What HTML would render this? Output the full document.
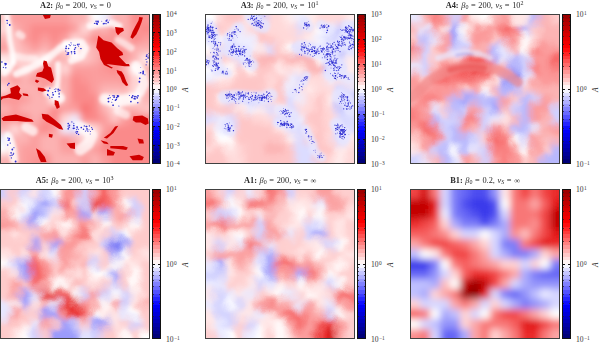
<!DOCTYPE html><html><head><meta charset="utf-8"><style>
*{margin:0;padding:0;box-sizing:border-box}
html,body{width:600px;height:343px;background:#fff;overflow:hidden}
body{position:relative;font-family:"Liberation Serif",serif;color:#1a1a1a}
.pn{position:absolute;width:150px;height:150px;overflow:hidden}
.pn svg{position:absolute;left:0;top:0}
.bd{position:absolute;width:150px;height:150px;border:1px solid #404040}
.cb{position:absolute;width:9px;height:150px;border:1px solid #111;background:linear-gradient(to bottom,#9f0000 0.00% 2.50%,#aa0000 2.50% 5.00%,#b60000 5.00% 7.50%,#c10000 7.50% 10.00%,#cd0000 10.00% 12.50%,#d80000 12.50% 15.00%,#e40000 15.00% 17.50%,#ef0000 17.50% 20.00%,#fb0000 20.00% 22.50%,#ff0e0e 22.50% 25.00%,#ff2525 25.00% 27.50%,#ff3c3c 27.50% 30.00%,#ff5353 30.00% 32.50%,#ff6a6a 32.50% 35.00%,#ff8181 35.00% 37.50%,#ff9898 37.50% 40.00%,#ffafaf 40.00% 42.50%,#ffc6c6 42.50% 45.00%,#ffdddd 45.00% 47.50%,#fff4f4 47.50% 50.00%,#f4f4ff 50.00% 52.50%,#ddddff 52.50% 55.00%,#c6c6ff 55.00% 57.50%,#afafff 57.50% 60.00%,#9898ff 60.00% 62.50%,#8181ff 62.50% 65.00%,#6a6aff 65.00% 67.50%,#5353ff 67.50% 70.00%,#3c3cff 70.00% 72.50%,#2525ff 72.50% 75.00%,#0e0eff 75.00% 77.50%,#0000f9 77.50% 80.00%,#0000e9 80.00% 82.50%,#0000d9 82.50% 85.00%,#0000c9 85.00% 87.50%,#0000b8 87.50% 90.00%,#0000a8 90.00% 92.50%,#000098 92.50% 95.00%,#000088 95.00% 97.50%,#000078 97.50% 100.00%)}
.mt{position:absolute;height:0.6px;background:#222;width:1.2px;opacity:.7}
.Mt{position:absolute;height:0.8px;background:#111;width:2.4px}
.tk{position:absolute;font-size:7.6px;line-height:7px;white-space:nowrap;color:#333}
.tk sup{font-size:5.4px;position:relative;top:-2.8px;vertical-align:baseline;margin-left:0.3px}
.ttl{position:absolute;width:150px;text-align:center;font-size:7.2px;line-height:8px;white-space:nowrap;color:#2a2a2a;word-spacing:0.45px}
.ttl span{display:inline-block;transform:scaleX(1.16)}
.ttl b{font-weight:bold}
.ttl i{font-style:italic}
.ttl sub{font-size:5.2px;position:relative;top:1.4px;vertical-align:baseline}
.ttl sup{font-size:5.2px;position:relative;top:-2.8px;vertical-align:baseline}
.al{position:absolute;font-size:7.4px;line-height:7.4px;font-style:italic;transform:rotate(-90deg);color:#222}
</style></head><body>
<div class="pn" style="left:0px;top:14px"><svg width="150" height="150" viewBox="0 0 150 150"><defs><filter id="blA2" x="-20" y="-20" width="190" height="190" filterUnits="userSpaceOnUse"><feGaussianBlur stdDeviation="3.5"/></filter><filter id="sbA2" x="-20" y="-20" width="190" height="190" filterUnits="userSpaceOnUse"><feGaussianBlur stdDeviation="0.55"/></filter><filter id="soA2" x="-20" y="-20" width="190" height="190" filterUnits="userSpaceOnUse"><feGaussianBlur stdDeviation="1.4"/></filter></defs><g filter="url(#blA2)"><rect x="-10.00" y="-10.00" width="10.30" height="10.30" fill="#fec6c6"/><rect x="0.00" y="-10.00" width="10.30" height="10.30" fill="#fec6c6"/><rect x="10.00" y="-10.00" width="10.30" height="10.30" fill="#fb9e9e"/><rect x="20.00" y="-10.00" width="10.30" height="10.30" fill="#fb9e9e"/><rect x="30.00" y="-10.00" width="10.30" height="10.30" fill="#fb9e9e"/><rect x="40.00" y="-10.00" width="10.30" height="10.30" fill="#fb9e9e"/><rect x="50.00" y="-10.00" width="10.30" height="10.30" fill="#fb9e9e"/><rect x="60.00" y="-10.00" width="10.30" height="10.30" fill="#fb9e9e"/><rect x="70.00" y="-10.00" width="10.30" height="10.30" fill="#fcb2b2"/><rect x="80.00" y="-10.00" width="10.30" height="10.30" fill="#fcb2b2"/><rect x="90.00" y="-10.00" width="10.30" height="10.30" fill="#ffffff"/><rect x="100.00" y="-10.00" width="10.30" height="10.30" fill="#eeeeff"/><rect x="110.00" y="-10.00" width="10.30" height="10.30" fill="#fcb2b2"/><rect x="120.00" y="-10.00" width="10.30" height="10.30" fill="#fcb2b2"/><rect x="130.00" y="-10.00" width="10.30" height="10.30" fill="#fa8a8a"/><rect x="140.00" y="-10.00" width="10.30" height="10.30" fill="#fb9696"/><rect x="150.00" y="-10.00" width="10.30" height="10.30" fill="#fb9696"/><rect x="-10.00" y="0.00" width="10.30" height="10.30" fill="#fec6c6"/><rect x="0.00" y="0.00" width="10.30" height="10.30" fill="#fec6c6"/><rect x="10.00" y="0.00" width="10.30" height="10.30" fill="#fb9e9e"/><rect x="20.00" y="0.00" width="10.30" height="10.30" fill="#fb9e9e"/><rect x="30.00" y="0.00" width="10.30" height="10.30" fill="#fb9e9e"/><rect x="40.00" y="0.00" width="10.30" height="10.30" fill="#fb9e9e"/><rect x="50.00" y="0.00" width="10.30" height="10.30" fill="#fb9e9e"/><rect x="60.00" y="0.00" width="10.30" height="10.30" fill="#fb9e9e"/><rect x="70.00" y="0.00" width="10.30" height="10.30" fill="#fcb2b2"/><rect x="80.00" y="0.00" width="10.30" height="10.30" fill="#fcb2b2"/><rect x="90.00" y="0.00" width="10.30" height="10.30" fill="#ffffff"/><rect x="100.00" y="0.00" width="10.30" height="10.30" fill="#eeeeff"/><rect x="110.00" y="0.00" width="10.30" height="10.30" fill="#fcb2b2"/><rect x="120.00" y="0.00" width="10.30" height="10.30" fill="#fcb2b2"/><rect x="130.00" y="0.00" width="10.30" height="10.30" fill="#fa8a8a"/><rect x="140.00" y="0.00" width="10.30" height="10.30" fill="#fb9696"/><rect x="150.00" y="0.00" width="10.30" height="10.30" fill="#fb9696"/><rect x="-10.00" y="10.00" width="10.30" height="10.30" fill="#ffd9d9"/><rect x="0.00" y="10.00" width="10.30" height="10.30" fill="#ffd9d9"/><rect x="10.00" y="10.00" width="10.30" height="10.30" fill="#fcb2b2"/><rect x="20.00" y="10.00" width="10.30" height="10.30" fill="#fb9e9e"/><rect x="30.00" y="10.00" width="10.30" height="10.30" fill="#fa8a8a"/><rect x="40.00" y="10.00" width="10.30" height="10.30" fill="#fa8a8a"/><rect x="50.00" y="10.00" width="10.30" height="10.30" fill="#fa8a8a"/><rect x="60.00" y="10.00" width="10.30" height="10.30" fill="#fa8a8a"/><rect x="70.00" y="10.00" width="10.30" height="10.30" fill="#fb9e9e"/><rect x="80.00" y="10.00" width="10.30" height="10.30" fill="#ffd9d9"/><rect x="90.00" y="10.00" width="10.30" height="10.30" fill="#fcb2b2"/><rect x="100.00" y="10.00" width="10.30" height="10.30" fill="#fcb2b2"/><rect x="110.00" y="10.00" width="10.30" height="10.30" fill="#fb9696"/><rect x="120.00" y="10.00" width="10.30" height="10.30" fill="#fcb2b2"/><rect x="130.00" y="10.00" width="10.30" height="10.30" fill="#fb9696"/><rect x="140.00" y="10.00" width="10.30" height="10.30" fill="#fa8a8a"/><rect x="150.00" y="10.00" width="10.30" height="10.30" fill="#fa8a8a"/><rect x="-10.00" y="20.00" width="10.30" height="10.30" fill="#fcb2b2"/><rect x="0.00" y="20.00" width="10.30" height="10.30" fill="#fcb2b2"/><rect x="10.00" y="20.00" width="10.30" height="10.30" fill="#fec6c6"/><rect x="20.00" y="20.00" width="10.30" height="10.30" fill="#fb9e9e"/><rect x="30.00" y="20.00" width="10.30" height="10.30" fill="#fa8a8a"/><rect x="40.00" y="20.00" width="10.30" height="10.30" fill="#fb9e9e"/><rect x="50.00" y="20.00" width="10.30" height="10.30" fill="#fa8a8a"/><rect x="60.00" y="20.00" width="10.30" height="10.30" fill="#fb9e9e"/><rect x="70.00" y="20.00" width="10.30" height="10.30" fill="#ffd9d9"/><rect x="80.00" y="20.00" width="10.30" height="10.30" fill="#fcb2b2"/><rect x="90.00" y="20.00" width="10.30" height="10.30" fill="#fa8a8a"/><rect x="100.00" y="20.00" width="10.30" height="10.30" fill="#fb9696"/><rect x="110.00" y="20.00" width="10.30" height="10.30" fill="#fb9696"/><rect x="120.00" y="20.00" width="10.30" height="10.30" fill="#fcb2b2"/><rect x="130.00" y="20.00" width="10.30" height="10.30" fill="#fa8a8a"/><rect x="140.00" y="20.00" width="10.30" height="10.30" fill="#fb9e9e"/><rect x="150.00" y="20.00" width="10.30" height="10.30" fill="#fb9e9e"/><rect x="-10.00" y="30.00" width="10.30" height="10.30" fill="#fb9e9e"/><rect x="0.00" y="30.00" width="10.30" height="10.30" fill="#fb9e9e"/><rect x="10.00" y="30.00" width="10.30" height="10.30" fill="#fec6c6"/><rect x="20.00" y="30.00" width="10.30" height="10.30" fill="#fcb2b2"/><rect x="30.00" y="30.00" width="10.30" height="10.30" fill="#fb9e9e"/><rect x="40.00" y="30.00" width="10.30" height="10.30" fill="#fcb2b2"/><rect x="50.00" y="30.00" width="10.30" height="10.30" fill="#fb9e9e"/><rect x="60.00" y="30.00" width="10.30" height="10.30" fill="#ffd9d9"/><rect x="70.00" y="30.00" width="10.30" height="10.30" fill="#ffffff"/><rect x="80.00" y="30.00" width="10.30" height="10.30" fill="#fec6c6"/><rect x="90.00" y="30.00" width="10.30" height="10.30" fill="#fcb2b2"/><rect x="100.00" y="30.00" width="10.30" height="10.30" fill="#fb9696"/><rect x="110.00" y="30.00" width="10.30" height="10.30" fill="#fb9696"/><rect x="120.00" y="30.00" width="10.30" height="10.30" fill="#fb9696"/><rect x="130.00" y="30.00" width="10.30" height="10.30" fill="#fcb2b2"/><rect x="140.00" y="30.00" width="10.30" height="10.30" fill="#fcb2b2"/><rect x="150.00" y="30.00" width="10.30" height="10.30" fill="#fcb2b2"/><rect x="-10.00" y="40.00" width="10.30" height="10.30" fill="#ffecec"/><rect x="0.00" y="40.00" width="10.30" height="10.30" fill="#ffecec"/><rect x="10.00" y="40.00" width="10.30" height="10.30" fill="#ffd9d9"/><rect x="20.00" y="40.00" width="10.30" height="10.30" fill="#fec6c6"/><rect x="30.00" y="40.00" width="10.30" height="10.30" fill="#ffd9d9"/><rect x="40.00" y="40.00" width="10.30" height="10.30" fill="#ffecec"/><rect x="50.00" y="40.00" width="10.30" height="10.30" fill="#fcb2b2"/><rect x="60.00" y="40.00" width="10.30" height="10.30" fill="#fcb2b2"/><rect x="70.00" y="40.00" width="10.30" height="10.30" fill="#fec6c6"/><rect x="80.00" y="40.00" width="10.30" height="10.30" fill="#fec6c6"/><rect x="90.00" y="40.00" width="10.30" height="10.30" fill="#fcb2b2"/><rect x="100.00" y="40.00" width="10.30" height="10.30" fill="#fb9696"/><rect x="110.00" y="40.00" width="10.30" height="10.30" fill="#fb9696"/><rect x="120.00" y="40.00" width="10.30" height="10.30" fill="#fb9696"/><rect x="130.00" y="40.00" width="10.30" height="10.30" fill="#fcb2b2"/><rect x="140.00" y="40.00" width="10.30" height="10.30" fill="#ffecec"/><rect x="150.00" y="40.00" width="10.30" height="10.30" fill="#ffecec"/><rect x="-10.00" y="50.00" width="10.30" height="10.30" fill="#ffecec"/><rect x="0.00" y="50.00" width="10.30" height="10.30" fill="#ffecec"/><rect x="10.00" y="50.00" width="10.30" height="10.30" fill="#fcb2b2"/><rect x="20.00" y="50.00" width="10.30" height="10.30" fill="#ffd9d9"/><rect x="30.00" y="50.00" width="10.30" height="10.30" fill="#fcb2b2"/><rect x="40.00" y="50.00" width="10.30" height="10.30" fill="#fb9e9e"/><rect x="50.00" y="50.00" width="10.30" height="10.30" fill="#fcb2b2"/><rect x="60.00" y="50.00" width="10.30" height="10.30" fill="#ffd9d9"/><rect x="70.00" y="50.00" width="10.30" height="10.30" fill="#fb9e9e"/><rect x="80.00" y="50.00" width="10.30" height="10.30" fill="#fb9e9e"/><rect x="90.00" y="50.00" width="10.30" height="10.30" fill="#fb9e9e"/><rect x="100.00" y="50.00" width="10.30" height="10.30" fill="#fb9696"/><rect x="110.00" y="50.00" width="10.30" height="10.30" fill="#fa8a8a"/><rect x="120.00" y="50.00" width="10.30" height="10.30" fill="#fcb2b2"/><rect x="130.00" y="50.00" width="10.30" height="10.30" fill="#ffffff"/><rect x="140.00" y="50.00" width="10.30" height="10.30" fill="#fcb2b2"/><rect x="150.00" y="50.00" width="10.30" height="10.30" fill="#fcb2b2"/><rect x="-10.00" y="60.00" width="10.30" height="10.30" fill="#fcb2b2"/><rect x="0.00" y="60.00" width="10.30" height="10.30" fill="#fcb2b2"/><rect x="10.00" y="60.00" width="10.30" height="10.30" fill="#fb9e9e"/><rect x="20.00" y="60.00" width="10.30" height="10.30" fill="#fcb2b2"/><rect x="30.00" y="60.00" width="10.30" height="10.30" fill="#fb9e9e"/><rect x="40.00" y="60.00" width="10.30" height="10.30" fill="#fb9696"/><rect x="50.00" y="60.00" width="10.30" height="10.30" fill="#fb9696"/><rect x="60.00" y="60.00" width="10.30" height="10.30" fill="#fcb2b2"/><rect x="70.00" y="60.00" width="10.30" height="10.30" fill="#fa8a8a"/><rect x="80.00" y="60.00" width="10.30" height="10.30" fill="#fb9696"/><rect x="90.00" y="60.00" width="10.30" height="10.30" fill="#fb9e9e"/><rect x="100.00" y="60.00" width="10.30" height="10.30" fill="#fb9e9e"/><rect x="110.00" y="60.00" width="10.30" height="10.30" fill="#fb9e9e"/><rect x="120.00" y="60.00" width="10.30" height="10.30" fill="#fb9696"/><rect x="130.00" y="60.00" width="10.30" height="10.30" fill="#ffd9d9"/><rect x="140.00" y="60.00" width="10.30" height="10.30" fill="#fcb2b2"/><rect x="150.00" y="60.00" width="10.30" height="10.30" fill="#fcb2b2"/><rect x="-10.00" y="70.00" width="10.30" height="10.30" fill="#ffd9d9"/><rect x="0.00" y="70.00" width="10.30" height="10.30" fill="#ffd9d9"/><rect x="10.00" y="70.00" width="10.30" height="10.30" fill="#fcb2b2"/><rect x="20.00" y="70.00" width="10.30" height="10.30" fill="#fcb2b2"/><rect x="30.00" y="70.00" width="10.30" height="10.30" fill="#fcb2b2"/><rect x="40.00" y="70.00" width="10.30" height="10.30" fill="#fb9e9e"/><rect x="50.00" y="70.00" width="10.30" height="10.30" fill="#fec6c6"/><rect x="60.00" y="70.00" width="10.30" height="10.30" fill="#fcb2b2"/><rect x="70.00" y="70.00" width="10.30" height="10.30" fill="#fa8a8a"/><rect x="80.00" y="70.00" width="10.30" height="10.30" fill="#fa8a8a"/><rect x="90.00" y="70.00" width="10.30" height="10.30" fill="#fb9e9e"/><rect x="100.00" y="70.00" width="10.30" height="10.30" fill="#fcb2b2"/><rect x="110.00" y="70.00" width="10.30" height="10.30" fill="#fcb2b2"/><rect x="120.00" y="70.00" width="10.30" height="10.30" fill="#fcb2b2"/><rect x="130.00" y="70.00" width="10.30" height="10.30" fill="#ffd9d9"/><rect x="140.00" y="70.00" width="10.30" height="10.30" fill="#fcb2b2"/><rect x="150.00" y="70.00" width="10.30" height="10.30" fill="#fcb2b2"/><rect x="-10.00" y="80.00" width="10.30" height="10.30" fill="#fb9696"/><rect x="0.00" y="80.00" width="10.30" height="10.30" fill="#fb9696"/><rect x="10.00" y="80.00" width="10.30" height="10.30" fill="#fb9696"/><rect x="20.00" y="80.00" width="10.30" height="10.30" fill="#fb9e9e"/><rect x="30.00" y="80.00" width="10.30" height="10.30" fill="#fcb2b2"/><rect x="40.00" y="80.00" width="10.30" height="10.30" fill="#fcb2b2"/><rect x="50.00" y="80.00" width="10.30" height="10.30" fill="#ffffff"/><rect x="60.00" y="80.00" width="10.30" height="10.30" fill="#fcb2b2"/><rect x="70.00" y="80.00" width="10.30" height="10.30" fill="#fa8a8a"/><rect x="80.00" y="80.00" width="10.30" height="10.30" fill="#fa8a8a"/><rect x="90.00" y="80.00" width="10.30" height="10.30" fill="#fa8a8a"/><rect x="100.00" y="80.00" width="10.30" height="10.30" fill="#ffd9d9"/><rect x="110.00" y="80.00" width="10.30" height="10.30" fill="#ffecec"/><rect x="120.00" y="80.00" width="10.30" height="10.30" fill="#ffd9d9"/><rect x="130.00" y="80.00" width="10.30" height="10.30" fill="#ffecec"/><rect x="140.00" y="80.00" width="10.30" height="10.30" fill="#fcb2b2"/><rect x="150.00" y="80.00" width="10.30" height="10.30" fill="#fcb2b2"/><rect x="-10.00" y="90.00" width="10.30" height="10.30" fill="#fcb2b2"/><rect x="0.00" y="90.00" width="10.30" height="10.30" fill="#fcb2b2"/><rect x="10.00" y="90.00" width="10.30" height="10.30" fill="#fb9e9e"/><rect x="20.00" y="90.00" width="10.30" height="10.30" fill="#fcb2b2"/><rect x="30.00" y="90.00" width="10.30" height="10.30" fill="#fcb2b2"/><rect x="40.00" y="90.00" width="10.30" height="10.30" fill="#fcb2b2"/><rect x="50.00" y="90.00" width="10.30" height="10.30" fill="#fa8a8a"/><rect x="60.00" y="90.00" width="10.30" height="10.30" fill="#fb9e9e"/><rect x="70.00" y="90.00" width="10.30" height="10.30" fill="#fb9e9e"/><rect x="80.00" y="90.00" width="10.30" height="10.30" fill="#f87474"/><rect x="90.00" y="90.00" width="10.30" height="10.30" fill="#fa8a8a"/><rect x="100.00" y="90.00" width="10.30" height="10.30" fill="#fcb2b2"/><rect x="110.00" y="90.00" width="10.30" height="10.30" fill="#ffd9d9"/><rect x="120.00" y="90.00" width="10.30" height="10.30" fill="#fcb2b2"/><rect x="130.00" y="90.00" width="10.30" height="10.30" fill="#fcb2b2"/><rect x="140.00" y="90.00" width="10.30" height="10.30" fill="#fec6c6"/><rect x="150.00" y="90.00" width="10.30" height="10.30" fill="#fec6c6"/><rect x="-10.00" y="100.00" width="10.30" height="10.30" fill="#fb9696"/><rect x="0.00" y="100.00" width="10.30" height="10.30" fill="#fb9696"/><rect x="10.00" y="100.00" width="10.30" height="10.30" fill="#fb9696"/><rect x="20.00" y="100.00" width="10.30" height="10.30" fill="#fa8a8a"/><rect x="30.00" y="100.00" width="10.30" height="10.30" fill="#fcb2b2"/><rect x="40.00" y="100.00" width="10.30" height="10.30" fill="#fb9696"/><rect x="50.00" y="100.00" width="10.30" height="10.30" fill="#fa8a8a"/><rect x="60.00" y="100.00" width="10.30" height="10.30" fill="#ffd9d9"/><rect x="70.00" y="100.00" width="10.30" height="10.30" fill="#eeeeff"/><rect x="80.00" y="100.00" width="10.30" height="10.30" fill="#fa8a8a"/><rect x="90.00" y="100.00" width="10.30" height="10.30" fill="#fa8a8a"/><rect x="100.00" y="100.00" width="10.30" height="10.30" fill="#fb9e9e"/><rect x="110.00" y="100.00" width="10.30" height="10.30" fill="#fec6c6"/><rect x="120.00" y="100.00" width="10.30" height="10.30" fill="#fb9e9e"/><rect x="130.00" y="100.00" width="10.30" height="10.30" fill="#fa8a8a"/><rect x="140.00" y="100.00" width="10.30" height="10.30" fill="#fa8a8a"/><rect x="150.00" y="100.00" width="10.30" height="10.30" fill="#fa8a8a"/><rect x="-10.00" y="110.00" width="10.30" height="10.30" fill="#fcb2b2"/><rect x="0.00" y="110.00" width="10.30" height="10.30" fill="#fcb2b2"/><rect x="10.00" y="110.00" width="10.30" height="10.30" fill="#ffd9d9"/><rect x="20.00" y="110.00" width="10.30" height="10.30" fill="#fcb2b2"/><rect x="30.00" y="110.00" width="10.30" height="10.30" fill="#fb9e9e"/><rect x="40.00" y="110.00" width="10.30" height="10.30" fill="#fa8a8a"/><rect x="50.00" y="110.00" width="10.30" height="10.30" fill="#fb9e9e"/><rect x="60.00" y="110.00" width="10.30" height="10.30" fill="#eeeeff"/><rect x="70.00" y="110.00" width="10.30" height="10.30" fill="#dcdcff"/><rect x="80.00" y="110.00" width="10.30" height="10.30" fill="#ffecec"/><rect x="90.00" y="110.00" width="10.30" height="10.30" fill="#ffd9d9"/><rect x="100.00" y="110.00" width="10.30" height="10.30" fill="#fb9e9e"/><rect x="110.00" y="110.00" width="10.30" height="10.30" fill="#fa8a8a"/><rect x="120.00" y="110.00" width="10.30" height="10.30" fill="#fa8a8a"/><rect x="130.00" y="110.00" width="10.30" height="10.30" fill="#fa8a8a"/><rect x="140.00" y="110.00" width="10.30" height="10.30" fill="#fa8a8a"/><rect x="150.00" y="110.00" width="10.30" height="10.30" fill="#fa8a8a"/><rect x="-10.00" y="120.00" width="10.30" height="10.30" fill="#eeeeff"/><rect x="0.00" y="120.00" width="10.30" height="10.30" fill="#eeeeff"/><rect x="10.00" y="120.00" width="10.30" height="10.30" fill="#fcb2b2"/><rect x="20.00" y="120.00" width="10.30" height="10.30" fill="#fcb2b2"/><rect x="30.00" y="120.00" width="10.30" height="10.30" fill="#fb9e9e"/><rect x="40.00" y="120.00" width="10.30" height="10.30" fill="#fcb2b2"/><rect x="50.00" y="120.00" width="10.30" height="10.30" fill="#fcb2b2"/><rect x="60.00" y="120.00" width="10.30" height="10.30" fill="#fb9696"/><rect x="70.00" y="120.00" width="10.30" height="10.30" fill="#fcb2b2"/><rect x="80.00" y="120.00" width="10.30" height="10.30" fill="#ffd9d9"/><rect x="90.00" y="120.00" width="10.30" height="10.30" fill="#fec6c6"/><rect x="100.00" y="120.00" width="10.30" height="10.30" fill="#fa8a8a"/><rect x="110.00" y="120.00" width="10.30" height="10.30" fill="#fa8a8a"/><rect x="120.00" y="120.00" width="10.30" height="10.30" fill="#fa8a8a"/><rect x="130.00" y="120.00" width="10.30" height="10.30" fill="#fa8a8a"/><rect x="140.00" y="120.00" width="10.30" height="10.30" fill="#fa8a8a"/><rect x="150.00" y="120.00" width="10.30" height="10.30" fill="#fa8a8a"/><rect x="-10.00" y="130.00" width="10.30" height="10.30" fill="#ffffff"/><rect x="0.00" y="130.00" width="10.30" height="10.30" fill="#ffffff"/><rect x="10.00" y="130.00" width="10.30" height="10.30" fill="#fcb2b2"/><rect x="20.00" y="130.00" width="10.30" height="10.30" fill="#fb9e9e"/><rect x="30.00" y="130.00" width="10.30" height="10.30" fill="#fb9e9e"/><rect x="40.00" y="130.00" width="10.30" height="10.30" fill="#fcb2b2"/><rect x="50.00" y="130.00" width="10.30" height="10.30" fill="#fcb2b2"/><rect x="60.00" y="130.00" width="10.30" height="10.30" fill="#fb9e9e"/><rect x="70.00" y="130.00" width="10.30" height="10.30" fill="#fb9e9e"/><rect x="80.00" y="130.00" width="10.30" height="10.30" fill="#fcb2b2"/><rect x="90.00" y="130.00" width="10.30" height="10.30" fill="#fb9e9e"/><rect x="100.00" y="130.00" width="10.30" height="10.30" fill="#fa8a8a"/><rect x="110.00" y="130.00" width="10.30" height="10.30" fill="#fa8a8a"/><rect x="120.00" y="130.00" width="10.30" height="10.30" fill="#fa8a8a"/><rect x="130.00" y="130.00" width="10.30" height="10.30" fill="#fa8a8a"/><rect x="140.00" y="130.00" width="10.30" height="10.30" fill="#fa8a8a"/><rect x="150.00" y="130.00" width="10.30" height="10.30" fill="#fa8a8a"/><rect x="-10.00" y="140.00" width="10.30" height="10.30" fill="#fcb2b2"/><rect x="0.00" y="140.00" width="10.30" height="10.30" fill="#fcb2b2"/><rect x="10.00" y="140.00" width="10.30" height="10.30" fill="#fcb2b2"/><rect x="20.00" y="140.00" width="10.30" height="10.30" fill="#fb9e9e"/><rect x="30.00" y="140.00" width="10.30" height="10.30" fill="#fb9696"/><rect x="40.00" y="140.00" width="10.30" height="10.30" fill="#fa8a8a"/><rect x="50.00" y="140.00" width="10.30" height="10.30" fill="#fcb2b2"/><rect x="60.00" y="140.00" width="10.30" height="10.30" fill="#fcb2b2"/><rect x="70.00" y="140.00" width="10.30" height="10.30" fill="#fcb2b2"/><rect x="80.00" y="140.00" width="10.30" height="10.30" fill="#fb9e9e"/><rect x="90.00" y="140.00" width="10.30" height="10.30" fill="#fcb2b2"/><rect x="100.00" y="140.00" width="10.30" height="10.30" fill="#fb9e9e"/><rect x="110.00" y="140.00" width="10.30" height="10.30" fill="#fa8a8a"/><rect x="120.00" y="140.00" width="10.30" height="10.30" fill="#fa8a8a"/><rect x="130.00" y="140.00" width="10.30" height="10.30" fill="#fa8a8a"/><rect x="140.00" y="140.00" width="10.30" height="10.30" fill="#fa8a8a"/><rect x="150.00" y="140.00" width="10.30" height="10.30" fill="#fa8a8a"/><rect x="-10.00" y="150.00" width="10.30" height="10.30" fill="#fcb2b2"/><rect x="0.00" y="150.00" width="10.30" height="10.30" fill="#fcb2b2"/><rect x="10.00" y="150.00" width="10.30" height="10.30" fill="#fcb2b2"/><rect x="20.00" y="150.00" width="10.30" height="10.30" fill="#fb9e9e"/><rect x="30.00" y="150.00" width="10.30" height="10.30" fill="#fb9696"/><rect x="40.00" y="150.00" width="10.30" height="10.30" fill="#fa8a8a"/><rect x="50.00" y="150.00" width="10.30" height="10.30" fill="#fcb2b2"/><rect x="60.00" y="150.00" width="10.30" height="10.30" fill="#fcb2b2"/><rect x="70.00" y="150.00" width="10.30" height="10.30" fill="#fcb2b2"/><rect x="80.00" y="150.00" width="10.30" height="10.30" fill="#fb9e9e"/><rect x="90.00" y="150.00" width="10.30" height="10.30" fill="#fcb2b2"/><rect x="100.00" y="150.00" width="10.30" height="10.30" fill="#fb9e9e"/><rect x="110.00" y="150.00" width="10.30" height="10.30" fill="#fa8a8a"/><rect x="120.00" y="150.00" width="10.30" height="10.30" fill="#fa8a8a"/><rect x="130.00" y="150.00" width="10.30" height="10.30" fill="#fa8a8a"/><rect x="140.00" y="150.00" width="10.30" height="10.30" fill="#fa8a8a"/><rect x="150.00" y="150.00" width="10.30" height="10.30" fill="#fa8a8a"/></g><g filter="url(#soA2)"><path d="M4.4,59.0 L8.7,55.0 L13.0,48.0" fill="none" stroke="#ffffff" stroke-width="6" stroke-opacity="0.8" stroke-linecap="round" stroke-linejoin="round"/><path d="M16.3,59.9 L26.5,55.8 L36.7,50.7 L46.9,44.6 L55.1,38.4 L61.2,33.3 L69.4,29.3 L81.6,28.2 L85.7,34.4 L81.6,42.5 L71.4,46.6" fill="none" stroke="#ffffff" stroke-width="7.0" stroke-opacity="0.8" stroke-linecap="round" stroke-linejoin="round"/><path d="M6.6,0.0 L8.7,13.0 L9.8,26.0 L12.0,37.0 L13.0,48.0" fill="none" stroke="#ffffff" stroke-width="5.6" stroke-opacity="0.8" stroke-linecap="round" stroke-linejoin="round"/><path d="M15.0,42.0 L25.0,44.0 L35.0,45.0" fill="none" stroke="#ffffff" stroke-width="7" stroke-opacity="0.5" stroke-linecap="round" stroke-linejoin="round"/><path d="M58.0,50.0 L58.0,65.0 L56.0,80.0" fill="none" stroke="#ffffff" stroke-width="5.6" stroke-opacity="0.8" stroke-linecap="round" stroke-linejoin="round"/><path d="M90.0,12.0 L100.0,10.0 L112.0,9.0 L119.0,12.0" fill="none" stroke="#ffffff" stroke-width="7.0" stroke-opacity="0.8" stroke-linecap="round" stroke-linejoin="round"/><path d="M118.0,26.0 L125.0,30.0 L131.0,34.0" fill="none" stroke="#ffffff" stroke-width="7.0" stroke-opacity="0.6" stroke-linecap="round" stroke-linejoin="round"/><path d="M136.0,52.0 L142.0,60.0 L144.0,70.0 L140.0,78.0" fill="none" stroke="#ffffff" stroke-width="9.8" stroke-opacity="0.75" stroke-linecap="round" stroke-linejoin="round"/><path d="M105.0,85.0 L115.0,88.0 L125.0,86.0 L135.0,84.0" fill="none" stroke="#ffffff" stroke-width="11.2" stroke-opacity="0.75" stroke-linecap="round" stroke-linejoin="round"/><path d="M48.0,78.0 L55.0,80.0 L60.0,84.0" fill="none" stroke="#ffffff" stroke-width="9.8" stroke-opacity="0.8" stroke-linecap="round" stroke-linejoin="round"/><path d="M8.0,122.0 L11.0,130.0 L13.0,138.0 L14.0,146.0" fill="none" stroke="#ffffff" stroke-width="8.4" stroke-opacity="0.8" stroke-linecap="round" stroke-linejoin="round"/><path d="M26.0,113.0 L33.0,117.0" fill="none" stroke="#ffffff" stroke-width="9.8" stroke-opacity="0.7" stroke-linecap="round" stroke-linejoin="round"/><path d="M78.0,112.0 L86.0,116.0 L92.0,121.0 L88.0,130.0 L80.0,136.0" fill="none" stroke="#ffffff" stroke-width="11.2" stroke-opacity="0.7" stroke-linecap="round" stroke-linejoin="round"/><path d="M118.0,97.0 L126.0,101.0" fill="none" stroke="#ffffff" stroke-width="8.4" stroke-opacity="0.6" stroke-linecap="round" stroke-linejoin="round"/><path d="M0.0,52.0 L4.0,52.0" fill="none" stroke="#ffffff" stroke-width="8.4" stroke-opacity="0.8" stroke-linecap="round" stroke-linejoin="round"/><path d="M66.0,30.0 L72.0,36.0 L74.0,40.0" fill="none" stroke="#ffffff" stroke-width="8.4" stroke-opacity="0.8" stroke-linecap="round" stroke-linejoin="round"/><path d="M19.0,20.0 L22.0,22.0" fill="none" stroke="#ffffff" stroke-width="7.0" stroke-opacity="0.6" stroke-linecap="round" stroke-linejoin="round"/></g><g filter="url(#sbA2)"><path d="M98.3,21.6 L103.5,26.3 L111.5,28.5 L117.3,34.3 L122.4,38.2 L123.2,40.9 L118.8,42.3 L126.1,50.0 L129.0,50.1 L129.7,52.3 L124.6,52.3 L112.9,50.8 L106.4,50.1 L110.0,52.3 L113.0,53.8 L111.5,54.5 L104.0,51.0 L100.5,45.0 L99.1,37.9 L96.2,33.6 L96.9,29.2Z" fill="#cf0000"/><path d="M115.1,13.1 L123.2,13.9 L123.9,16.8 L120.2,19.0 L118.0,21.2 L115.9,18.2Z" fill="#cf0000"/><path d="M139.2,2.9 L142.9,3.6 L141.4,8.8 L139.2,14.6 L136.3,20.4 L132.6,24.8 L130.4,23.3 L132.6,17.5 L135.6,11.7 L138.5,6.6Z" fill="#cf0000"/><path d="M116.6,56.0 L121.7,57.4 L123.9,61.0 L126.1,66.9 L128.3,71.3 L126.1,72.0 L122.4,68.3 L120.2,62.5 L117.3,58.9Z" fill="#cf0000"/><path d="M42.3,0.0 L51.0,0.0 L50.0,4.0 L45.0,5.0Z" fill="#cf0000"/><path d="M43.8,46.5 L46.7,47.2 L48.2,52.3 L51.1,53.8 L52.5,59.6 L54.0,65.4 L51.8,69.1 L48.9,66.9 L45.2,64.7 L40.9,63.2 L35.8,62.5 L37.2,58.9 L42.3,57.4 L43.8,53.8 L43.0,49.4Z" fill="#cf0000"/><path d="M35.8,65.4 L39.4,66.9 L37.2,69.1 L35.0,67.6Z" fill="#cf0000"/><path d="M37.9,73.5 L43.8,74.2 L46.7,76.4 L42.3,77.8 L37.9,76.4Z" fill="#cf0000"/><path d="M10.2,74.2 L17.5,71.3 L20.4,74.2 L19.0,78.6 L21.9,81.5 L19.0,85.9 L14.6,85.1 L8.8,83.7 L2.9,84.4 L0.0,87.3 L0.0,82.9 L5.8,81.5 L10.9,79.3Z" fill="#cf0000"/><path d="M22.6,79.3 L27.7,80.0 L28.5,82.2 L23.3,81.5Z" fill="#cf0000"/><path d="M54.7,85.9 L58.4,87.3 L59.8,93.2 L56.9,95.0 L54.7,90.2Z" fill="#cf0000"/><path d="M4.8,102.2 L16.0,100.6 L24.0,103.0 L32.0,105.4 L33.7,107.8 L25.6,107.8 L17.6,107.0 L9.6,107.0 L3.2,107.0 L1.6,104.6Z" fill="#cf0000"/><path d="M41.7,99.8 L48.1,100.6 L54.5,105.4 L60.9,111.0 L63.3,115.8 L59.3,115.0 L52.9,111.0 L46.5,107.8 L42.5,104.6Z" fill="#cf0000"/><path d="M48.9,119.8 L52.9,120.6 L52.1,123.8 L48.9,123.0Z" fill="#cf0000"/><path d="M66.5,129.5 L75.0,128.7 L75.0,135.0 L70.5,134.3Z" fill="#cf0000"/><path d="M36.0,134.3 L40.0,136.7 L44.9,143.1 L46.5,148.0 L40.9,148.0 L38.5,143.1Z" fill="#cf0000"/><path d="M133.5,102.2 L142.3,101.4 L147.9,104.6 L148.7,109.4 L145.5,111.0 L140.7,108.6 L135.9,108.6 L132.7,106.2Z" fill="#cf0000"/><path d="M115.1,112.6 L118.3,111.8 L113.5,119.0 L107.0,124.6 L103.8,123.8 L110.3,119.0Z" fill="#cf0000"/><path d="M100.6,126.3 L107.0,127.9 L108.7,130.3 L103.8,129.5Z" fill="#cf0000"/><path d="M110.3,131.9 L123.1,131.9 L127.9,133.5 L126.3,135.9 L118.3,135.1 L110.3,134.3Z" fill="#cf0000"/><path d="M107.0,135.0 L115.0,138.3 L113.5,141.5 L107.0,141.5Z" fill="#cf0000"/><path d="M129.5,142.3 L139.1,140.7 L143.9,143.1 L142.3,146.3 L132.7,146.3Z" fill="#cf0000"/><path d="M137.5,124.6 L143.1,125.4 L143.9,129.5 L139.1,129.5Z" fill="#cf0000"/><g fill="#2b2bcf"><circle cx="96.3" cy="9.4" r="0.83"/><circle cx="98.3" cy="8.0" r="0.67"/><circle cx="105.1" cy="9.2" r="0.50"/><circle cx="94.5" cy="9.3" r="0.67"/><circle cx="107.0" cy="6.0" r="0.67"/><circle cx="106.3" cy="6.9" r="0.92"/><circle cx="109.3" cy="6.1" r="0.46"/><circle cx="103.2" cy="9.8" r="0.64"/><circle cx="97.7" cy="7.7" r="0.46"/><circle cx="97.8" cy="7.8" r="0.70"/><circle cx="98.0" cy="6.9" r="0.56"/><circle cx="101.8" cy="7.2" r="0.46"/><circle cx="108.2" cy="8.2" r="0.77"/><circle cx="97.2" cy="10.0" r="0.88"/><circle cx="96.1" cy="7.3" r="0.81"/><circle cx="106.1" cy="9.7" r="0.66"/><circle cx="108.1" cy="8.7" r="0.60"/><circle cx="104.0" cy="9.5" r="0.87"/></g><g fill="#2b2bcf"><circle cx="80.7" cy="34.6" r="0.48"/><circle cx="75.5" cy="33.8" r="0.82"/><circle cx="79.0" cy="30.2" r="0.75"/><circle cx="78.6" cy="32.1" r="0.53"/><circle cx="77.6" cy="30.8" r="0.81"/><circle cx="81.0" cy="34.6" r="0.72"/><circle cx="77.7" cy="29.9" r="0.47"/><circle cx="75.2" cy="31.3" r="0.61"/></g><g fill="#2b2bcf"><circle cx="147.0" cy="40.7" r="0.63"/><circle cx="148.4" cy="42.0" r="0.48"/><circle cx="146.1" cy="45.4" r="0.58"/><circle cx="146.9" cy="47.9" r="0.69"/><circle cx="149.3" cy="39.6" r="0.77"/><circle cx="146.6" cy="42.2" r="0.88"/><circle cx="148.1" cy="43.9" r="0.79"/></g><g fill="#2b2bcf"><circle cx="7.3" cy="6.6" r="0.65"/><circle cx="7.0" cy="6.4" r="0.65"/><circle cx="9.7" cy="10.8" r="0.83"/><circle cx="7.3" cy="9.2" r="0.59"/><circle cx="7.1" cy="6.6" r="0.56"/><circle cx="9.7" cy="11.0" r="0.85"/></g><g fill="#2b2bcf"><circle cx="71.5" cy="37.8" r="0.85"/><circle cx="74.5" cy="37.7" r="0.91"/><circle cx="66.0" cy="34.3" r="0.92"/><circle cx="71.7" cy="39.8" r="0.51"/><circle cx="70.1" cy="31.6" r="0.72"/><circle cx="71.0" cy="28.7" r="0.56"/><circle cx="68.3" cy="40.0" r="0.83"/><circle cx="67.2" cy="38.5" r="0.52"/><circle cx="71.4" cy="30.1" r="0.45"/><circle cx="73.8" cy="31.1" r="0.56"/><circle cx="74.8" cy="39.4" r="0.59"/><circle cx="74.6" cy="35.2" r="0.79"/><circle cx="67.6" cy="40.3" r="0.80"/><circle cx="74.7" cy="39.7" r="0.60"/><circle cx="69.1" cy="30.6" r="0.52"/><circle cx="66.3" cy="32.3" r="0.75"/><circle cx="65.7" cy="37.0" r="0.62"/><circle cx="68.6" cy="38.7" r="0.69"/><circle cx="68.6" cy="34.5" r="0.80"/><circle cx="66.2" cy="40.7" r="0.46"/></g><g fill="#2b2bcf"><circle cx="5.8" cy="53.8" r="0.69"/><circle cx="1.9" cy="48.0" r="0.78"/><circle cx="3.4" cy="53.3" r="0.64"/><circle cx="5.6" cy="49.9" r="0.85"/><circle cx="5.3" cy="50.9" r="0.72"/><circle cx="5.0" cy="49.4" r="0.73"/><circle cx="5.9" cy="49.9" r="0.85"/></g><g fill="#2b2bcf"><circle cx="8.7" cy="69.6" r="0.78"/><circle cx="7.6" cy="71.0" r="0.63"/><circle cx="7.6" cy="70.9" r="0.47"/><circle cx="9.2" cy="69.3" r="0.50"/></g><g fill="#2b2bcf"><circle cx="49.7" cy="84.0" r="0.51"/><circle cx="55.9" cy="74.9" r="0.57"/><circle cx="59.8" cy="76.2" r="0.77"/><circle cx="52.7" cy="78.7" r="0.70"/><circle cx="49.2" cy="82.6" r="0.49"/><circle cx="49.8" cy="74.2" r="0.58"/><circle cx="52.0" cy="83.4" r="0.64"/><circle cx="48.2" cy="76.7" r="0.95"/><circle cx="47.5" cy="80.4" r="0.64"/><circle cx="55.4" cy="77.5" r="0.80"/><circle cx="53.2" cy="80.8" r="0.90"/><circle cx="54.3" cy="75.5" r="0.48"/><circle cx="59.1" cy="79.1" r="0.55"/><circle cx="59.1" cy="80.0" r="0.81"/><circle cx="58.2" cy="77.0" r="0.63"/><circle cx="58.2" cy="75.4" r="0.83"/><circle cx="48.0" cy="81.2" r="0.80"/><circle cx="59.1" cy="82.8" r="0.70"/></g><g fill="#2b2bcf"><circle cx="112.6" cy="85.4" r="0.52"/><circle cx="117.4" cy="81.6" r="0.70"/><circle cx="117.8" cy="82.3" r="0.73"/><circle cx="114.4" cy="81.9" r="0.64"/><circle cx="115.4" cy="86.2" r="0.81"/><circle cx="108.9" cy="84.0" r="0.51"/><circle cx="113.1" cy="91.2" r="0.75"/><circle cx="116.3" cy="85.5" r="0.82"/><circle cx="108.2" cy="84.6" r="0.79"/><circle cx="115.7" cy="85.9" r="0.49"/><circle cx="110.2" cy="83.7" r="0.59"/><circle cx="116.7" cy="83.6" r="0.89"/><circle cx="117.6" cy="82.1" r="0.64"/><circle cx="112.9" cy="81.7" r="0.66"/><circle cx="117.9" cy="82.7" r="0.75"/><circle cx="108.5" cy="87.6" r="0.90"/><circle cx="109.4" cy="81.6" r="0.49"/><circle cx="113.5" cy="81.7" r="0.49"/><circle cx="113.0" cy="91.2" r="0.66"/><circle cx="111.8" cy="88.2" r="0.50"/><circle cx="114.0" cy="83.3" r="0.75"/><circle cx="118.5" cy="82.1" r="0.73"/><circle cx="114.3" cy="83.1" r="0.58"/><circle cx="118.9" cy="92.0" r="0.51"/></g><g fill="#2b2bcf"><circle cx="134.1" cy="84.7" r="0.74"/><circle cx="130.9" cy="87.6" r="0.86"/><circle cx="134.9" cy="82.7" r="0.71"/><circle cx="131.9" cy="83.4" r="0.93"/><circle cx="138.0" cy="81.8" r="0.88"/><circle cx="134.4" cy="84.4" r="0.59"/><circle cx="135.1" cy="84.9" r="0.79"/><circle cx="135.0" cy="82.5" r="0.83"/><circle cx="137.8" cy="88.8" r="0.76"/><circle cx="129.4" cy="81.5" r="0.52"/><circle cx="137.5" cy="83.8" r="0.63"/><circle cx="137.1" cy="83.9" r="0.72"/><circle cx="132.9" cy="82.0" r="0.74"/><circle cx="136.6" cy="82.7" r="0.56"/><circle cx="132.7" cy="81.8" r="0.70"/></g><g fill="#2b2bcf"><circle cx="143.1" cy="59.6" r="0.91"/><circle cx="143.2" cy="58.6" r="0.74"/><circle cx="140.7" cy="58.7" r="0.76"/><circle cx="146.1" cy="50.8" r="0.60"/><circle cx="139.8" cy="64.4" r="0.80"/><circle cx="139.4" cy="67.7" r="0.93"/><circle cx="144.9" cy="60.7" r="0.53"/><circle cx="139.1" cy="59.0" r="0.48"/><circle cx="140.7" cy="53.6" r="0.47"/><circle cx="143.2" cy="57.4" r="0.87"/></g><g fill="#2b2bcf"><circle cx="69.1" cy="113.3" r="0.79"/><circle cx="73.8" cy="109.3" r="0.57"/><circle cx="68.2" cy="109.6" r="0.82"/><circle cx="68.0" cy="112.1" r="0.56"/><circle cx="69.4" cy="111.3" r="0.87"/><circle cx="71.9" cy="107.9" r="0.59"/><circle cx="68.2" cy="114.8" r="0.85"/><circle cx="73.4" cy="114.4" r="0.82"/><circle cx="74.6" cy="114.2" r="0.58"/><circle cx="73.8" cy="111.7" r="0.83"/></g><g fill="#2b2bcf"><circle cx="76.9" cy="117.7" r="0.78"/><circle cx="91.6" cy="113.6" r="0.58"/><circle cx="87.9" cy="117.3" r="0.60"/><circle cx="87.0" cy="114.8" r="0.84"/><circle cx="77.1" cy="113.1" r="0.90"/><circle cx="81.3" cy="113.5" r="0.85"/><circle cx="86.1" cy="112.4" r="0.73"/><circle cx="86.7" cy="112.6" r="0.78"/><circle cx="77.2" cy="114.2" r="0.49"/><circle cx="78.6" cy="120.4" r="0.65"/><circle cx="92.4" cy="115.2" r="0.75"/><circle cx="90.4" cy="117.6" r="0.51"/><circle cx="85.4" cy="117.1" r="0.54"/><circle cx="76.7" cy="119.4" r="0.71"/><circle cx="78.4" cy="115.3" r="0.56"/><circle cx="89.0" cy="115.8" r="0.50"/><circle cx="89.4" cy="111.9" r="0.59"/><circle cx="75.5" cy="118.1" r="0.51"/><circle cx="84.3" cy="111.9" r="0.69"/><circle cx="87.1" cy="116.1" r="0.68"/><circle cx="83.5" cy="115.2" r="0.75"/><circle cx="76.7" cy="115.6" r="0.57"/><circle cx="90.2" cy="120.0" r="0.48"/><circle cx="77.5" cy="117.8" r="0.74"/></g><g fill="#2b2bcf"><circle cx="7.7" cy="130.9" r="0.77"/><circle cx="8.9" cy="126.2" r="0.85"/><circle cx="10.2" cy="129.1" r="0.70"/><circle cx="7.9" cy="124.0" r="0.64"/><circle cx="9.3" cy="124.7" r="0.85"/><circle cx="7.9" cy="126.3" r="0.47"/></g><g fill="#2b2bcf"><circle cx="13.8" cy="133.4" r="0.46"/><circle cx="14.0" cy="133.8" r="0.51"/><circle cx="12.3" cy="135.5" r="0.89"/><circle cx="10.2" cy="141.6" r="0.61"/><circle cx="12.0" cy="141.3" r="0.79"/><circle cx="13.6" cy="139.1" r="0.47"/></g><g fill="#2b2bcf"><circle cx="15.6" cy="147.5" r="0.90"/><circle cx="11.4" cy="143.9" r="0.66"/><circle cx="13.7" cy="139.3" r="0.55"/><circle cx="13.2" cy="140.2" r="0.68"/><circle cx="11.1" cy="138.9" r="0.81"/></g></g></svg></div>
<div class="bd" style="left:0px;top:14px"></div>
<div class="cb" style="left:152px;top:14px"></div>
<div class="mt" style="left:153px;top:158.1px"></div><div class="mt" style="left:158.8px;top:158.1px"></div>
<div class="mt" style="left:153px;top:154.8px"></div><div class="mt" style="left:158.8px;top:154.8px"></div>
<div class="mt" style="left:153px;top:152.4px"></div><div class="mt" style="left:158.8px;top:152.4px"></div>
<div class="mt" style="left:153px;top:150.6px"></div><div class="mt" style="left:158.8px;top:150.6px"></div>
<div class="mt" style="left:153px;top:149.1px"></div><div class="mt" style="left:158.8px;top:149.1px"></div>
<div class="mt" style="left:153px;top:147.9px"></div><div class="mt" style="left:158.8px;top:147.9px"></div>
<div class="mt" style="left:153px;top:146.8px"></div><div class="mt" style="left:158.8px;top:146.8px"></div>
<div class="mt" style="left:153px;top:145.8px"></div><div class="mt" style="left:158.8px;top:145.8px"></div>
<div class="mt" style="left:153px;top:139.3px"></div><div class="mt" style="left:158.8px;top:139.3px"></div>
<div class="mt" style="left:153px;top:136.0px"></div><div class="mt" style="left:158.8px;top:136.0px"></div>
<div class="mt" style="left:153px;top:133.7px"></div><div class="mt" style="left:158.8px;top:133.7px"></div>
<div class="mt" style="left:153px;top:131.8px"></div><div class="mt" style="left:158.8px;top:131.8px"></div>
<div class="mt" style="left:153px;top:130.4px"></div><div class="mt" style="left:158.8px;top:130.4px"></div>
<div class="mt" style="left:153px;top:129.1px"></div><div class="mt" style="left:158.8px;top:129.1px"></div>
<div class="mt" style="left:153px;top:128.0px"></div><div class="mt" style="left:158.8px;top:128.0px"></div>
<div class="mt" style="left:153px;top:127.1px"></div><div class="mt" style="left:158.8px;top:127.1px"></div>
<div class="mt" style="left:153px;top:120.6px"></div><div class="mt" style="left:158.8px;top:120.6px"></div>
<div class="mt" style="left:153px;top:117.3px"></div><div class="mt" style="left:158.8px;top:117.3px"></div>
<div class="mt" style="left:153px;top:114.9px"></div><div class="mt" style="left:158.8px;top:114.9px"></div>
<div class="mt" style="left:153px;top:113.1px"></div><div class="mt" style="left:158.8px;top:113.1px"></div>
<div class="mt" style="left:153px;top:111.6px"></div><div class="mt" style="left:158.8px;top:111.6px"></div>
<div class="mt" style="left:153px;top:110.4px"></div><div class="mt" style="left:158.8px;top:110.4px"></div>
<div class="mt" style="left:153px;top:109.3px"></div><div class="mt" style="left:158.8px;top:109.3px"></div>
<div class="mt" style="left:153px;top:108.3px"></div><div class="mt" style="left:158.8px;top:108.3px"></div>
<div class="mt" style="left:153px;top:101.8px"></div><div class="mt" style="left:158.8px;top:101.8px"></div>
<div class="mt" style="left:153px;top:98.5px"></div><div class="mt" style="left:158.8px;top:98.5px"></div>
<div class="mt" style="left:153px;top:96.2px"></div><div class="mt" style="left:158.8px;top:96.2px"></div>
<div class="mt" style="left:153px;top:94.3px"></div><div class="mt" style="left:158.8px;top:94.3px"></div>
<div class="mt" style="left:153px;top:92.9px"></div><div class="mt" style="left:158.8px;top:92.9px"></div>
<div class="mt" style="left:153px;top:91.6px"></div><div class="mt" style="left:158.8px;top:91.6px"></div>
<div class="mt" style="left:153px;top:90.5px"></div><div class="mt" style="left:158.8px;top:90.5px"></div>
<div class="mt" style="left:153px;top:89.6px"></div><div class="mt" style="left:158.8px;top:89.6px"></div>
<div class="mt" style="left:153px;top:83.1px"></div><div class="mt" style="left:158.8px;top:83.1px"></div>
<div class="mt" style="left:153px;top:79.8px"></div><div class="mt" style="left:158.8px;top:79.8px"></div>
<div class="mt" style="left:153px;top:77.4px"></div><div class="mt" style="left:158.8px;top:77.4px"></div>
<div class="mt" style="left:153px;top:75.6px"></div><div class="mt" style="left:158.8px;top:75.6px"></div>
<div class="mt" style="left:153px;top:74.1px"></div><div class="mt" style="left:158.8px;top:74.1px"></div>
<div class="mt" style="left:153px;top:72.9px"></div><div class="mt" style="left:158.8px;top:72.9px"></div>
<div class="mt" style="left:153px;top:71.8px"></div><div class="mt" style="left:158.8px;top:71.8px"></div>
<div class="mt" style="left:153px;top:70.8px"></div><div class="mt" style="left:158.8px;top:70.8px"></div>
<div class="mt" style="left:153px;top:64.3px"></div><div class="mt" style="left:158.8px;top:64.3px"></div>
<div class="mt" style="left:153px;top:61.0px"></div><div class="mt" style="left:158.8px;top:61.0px"></div>
<div class="mt" style="left:153px;top:58.7px"></div><div class="mt" style="left:158.8px;top:58.7px"></div>
<div class="mt" style="left:153px;top:56.8px"></div><div class="mt" style="left:158.8px;top:56.8px"></div>
<div class="mt" style="left:153px;top:55.4px"></div><div class="mt" style="left:158.8px;top:55.4px"></div>
<div class="mt" style="left:153px;top:54.1px"></div><div class="mt" style="left:158.8px;top:54.1px"></div>
<div class="mt" style="left:153px;top:53.0px"></div><div class="mt" style="left:158.8px;top:53.0px"></div>
<div class="mt" style="left:153px;top:52.1px"></div><div class="mt" style="left:158.8px;top:52.1px"></div>
<div class="mt" style="left:153px;top:45.6px"></div><div class="mt" style="left:158.8px;top:45.6px"></div>
<div class="mt" style="left:153px;top:42.3px"></div><div class="mt" style="left:158.8px;top:42.3px"></div>
<div class="mt" style="left:153px;top:39.9px"></div><div class="mt" style="left:158.8px;top:39.9px"></div>
<div class="mt" style="left:153px;top:38.1px"></div><div class="mt" style="left:158.8px;top:38.1px"></div>
<div class="mt" style="left:153px;top:36.6px"></div><div class="mt" style="left:158.8px;top:36.6px"></div>
<div class="mt" style="left:153px;top:35.4px"></div><div class="mt" style="left:158.8px;top:35.4px"></div>
<div class="mt" style="left:153px;top:34.3px"></div><div class="mt" style="left:158.8px;top:34.3px"></div>
<div class="mt" style="left:153px;top:33.3px"></div><div class="mt" style="left:158.8px;top:33.3px"></div>
<div class="mt" style="left:153px;top:26.8px"></div><div class="mt" style="left:158.8px;top:26.8px"></div>
<div class="mt" style="left:153px;top:23.5px"></div><div class="mt" style="left:158.8px;top:23.5px"></div>
<div class="mt" style="left:153px;top:21.2px"></div><div class="mt" style="left:158.8px;top:21.2px"></div>
<div class="mt" style="left:153px;top:19.3px"></div><div class="mt" style="left:158.8px;top:19.3px"></div>
<div class="mt" style="left:153px;top:17.9px"></div><div class="mt" style="left:158.8px;top:17.9px"></div>
<div class="mt" style="left:153px;top:16.6px"></div><div class="mt" style="left:158.8px;top:16.6px"></div>
<div class="mt" style="left:153px;top:15.5px"></div><div class="mt" style="left:158.8px;top:15.5px"></div>
<div class="mt" style="left:153px;top:14.6px"></div><div class="mt" style="left:158.8px;top:14.6px"></div>
<div class="Mt" style="left:153px;top:32.4px"></div><div class="Mt" style="left:157.6px;top:32.4px"></div>
<div class="Mt" style="left:153px;top:51.1px"></div><div class="Mt" style="left:157.6px;top:51.1px"></div>
<div class="Mt" style="left:153px;top:69.8px"></div><div class="Mt" style="left:157.6px;top:69.8px"></div>
<div class="Mt" style="left:153px;top:88.6px"></div><div class="Mt" style="left:157.6px;top:88.6px"></div>
<div class="Mt" style="left:153px;top:107.3px"></div><div class="Mt" style="left:157.6px;top:107.3px"></div>
<div class="Mt" style="left:153px;top:126.1px"></div><div class="Mt" style="left:157.6px;top:126.1px"></div>
<div class="Mt" style="left:153px;top:144.8px"></div><div class="Mt" style="left:157.6px;top:144.8px"></div>
<div class="tk" style="left:166px;top:11.4px">10<sup>4</sup></div>
<div class="tk" style="left:166px;top:30.1px">10<sup>3</sup></div>
<div class="tk" style="left:166px;top:48.9px">10<sup>2</sup></div>
<div class="tk" style="left:166px;top:67.7px">10<sup>1</sup></div>
<div class="tk" style="left:166px;top:86.4px">10<sup>0</sup></div>
<div class="tk" style="left:166px;top:105.2px">10<sup>&minus;1</sup></div>
<div class="tk" style="left:166px;top:123.9px">10<sup>&minus;2</sup></div>
<div class="tk" style="left:166px;top:142.7px">10<sup>&minus;3</sup></div>
<div class="tk" style="left:166px;top:161.4px">10<sup>&minus;4</sup></div>
<div class="al" style="left:182.5px;top:85.5px">A</div>
<div class="ttl" style="left:0px;top:1.6999999999999993px"><span><b>A2:</b> <i>&beta;</i><sub>0</sub> = 200, <i>&nu;<sub>S</sub></i> = 0</span></div>
<div class="pn" style="left:205px;top:14px"><svg width="150" height="150" viewBox="0 0 150 150"><defs><filter id="blA3" x="-20" y="-20" width="190" height="190" filterUnits="userSpaceOnUse"><feGaussianBlur stdDeviation="3.5" result="b"/><feTurbulence type="fractalNoise" baseFrequency="0.07" numOctaves="2" seed="9" result="t"/><feDisplacementMap in="b" in2="t" scale="8" xChannelSelector="R" yChannelSelector="G"/></filter><filter id="sbA3" x="-20" y="-20" width="190" height="190" filterUnits="userSpaceOnUse"><feGaussianBlur stdDeviation="0.55"/></filter><filter id="soA3" x="-20" y="-20" width="190" height="190" filterUnits="userSpaceOnUse"><feGaussianBlur stdDeviation="1.4"/></filter></defs><g filter="url(#blA3)"><rect x="-10.00" y="-10.00" width="10.30" height="10.30" fill="#ffffff"/><rect x="0.00" y="-10.00" width="10.30" height="10.30" fill="#ffffff"/><rect x="10.00" y="-10.00" width="10.30" height="10.30" fill="#ffd9d9"/><rect x="20.00" y="-10.00" width="10.30" height="10.30" fill="#fec6c6"/><rect x="30.00" y="-10.00" width="10.30" height="10.30" fill="#fec6c6"/><rect x="40.00" y="-10.00" width="10.30" height="10.30" fill="#ffecec"/><rect x="50.00" y="-10.00" width="10.30" height="10.30" fill="#c9c9fe"/><rect x="60.00" y="-10.00" width="10.30" height="10.30" fill="#ffd9d9"/><rect x="70.00" y="-10.00" width="10.30" height="10.30" fill="#ffd9d9"/><rect x="80.00" y="-10.00" width="10.30" height="10.30" fill="#ffecec"/><rect x="90.00" y="-10.00" width="10.30" height="10.30" fill="#eeeeff"/><rect x="100.00" y="-10.00" width="10.30" height="10.30" fill="#ffecec"/><rect x="110.00" y="-10.00" width="10.30" height="10.30" fill="#ffd9d9"/><rect x="120.00" y="-10.00" width="10.30" height="10.30" fill="#ffd9d9"/><rect x="130.00" y="-10.00" width="10.30" height="10.30" fill="#ffd9d9"/><rect x="140.00" y="-10.00" width="10.30" height="10.30" fill="#ffecec"/><rect x="150.00" y="-10.00" width="10.30" height="10.30" fill="#ffecec"/><rect x="-10.00" y="0.00" width="10.30" height="10.30" fill="#ffffff"/><rect x="0.00" y="0.00" width="10.30" height="10.30" fill="#ffffff"/><rect x="10.00" y="0.00" width="10.30" height="10.30" fill="#ffd9d9"/><rect x="20.00" y="0.00" width="10.30" height="10.30" fill="#fec6c6"/><rect x="30.00" y="0.00" width="10.30" height="10.30" fill="#fec6c6"/><rect x="40.00" y="0.00" width="10.30" height="10.30" fill="#ffecec"/><rect x="50.00" y="0.00" width="10.30" height="10.30" fill="#c9c9fe"/><rect x="60.00" y="0.00" width="10.30" height="10.30" fill="#ffd9d9"/><rect x="70.00" y="0.00" width="10.30" height="10.30" fill="#ffd9d9"/><rect x="80.00" y="0.00" width="10.30" height="10.30" fill="#ffecec"/><rect x="90.00" y="0.00" width="10.30" height="10.30" fill="#eeeeff"/><rect x="100.00" y="0.00" width="10.30" height="10.30" fill="#ffecec"/><rect x="110.00" y="0.00" width="10.30" height="10.30" fill="#ffd9d9"/><rect x="120.00" y="0.00" width="10.30" height="10.30" fill="#ffd9d9"/><rect x="130.00" y="0.00" width="10.30" height="10.30" fill="#ffd9d9"/><rect x="140.00" y="0.00" width="10.30" height="10.30" fill="#ffecec"/><rect x="150.00" y="0.00" width="10.30" height="10.30" fill="#ffecec"/><rect x="-10.00" y="10.00" width="10.30" height="10.30" fill="#c9c9fe"/><rect x="0.00" y="10.00" width="10.30" height="10.30" fill="#c9c9fe"/><rect x="10.00" y="10.00" width="10.30" height="10.30" fill="#fec6c6"/><rect x="20.00" y="10.00" width="10.30" height="10.30" fill="#ffd9d9"/><rect x="30.00" y="10.00" width="10.30" height="10.30" fill="#eeeeff"/><rect x="40.00" y="10.00" width="10.30" height="10.30" fill="#ffd9d9"/><rect x="50.00" y="10.00" width="10.30" height="10.30" fill="#fec6c6"/><rect x="60.00" y="10.00" width="10.30" height="10.30" fill="#ffd9d9"/><rect x="70.00" y="10.00" width="10.30" height="10.30" fill="#ffd9d9"/><rect x="80.00" y="10.00" width="10.30" height="10.30" fill="#ffd9d9"/><rect x="90.00" y="10.00" width="10.30" height="10.30" fill="#dcdcff"/><rect x="100.00" y="10.00" width="10.30" height="10.30" fill="#ffd9d9"/><rect x="110.00" y="10.00" width="10.30" height="10.30" fill="#ffffff"/><rect x="120.00" y="10.00" width="10.30" height="10.30" fill="#eeeeff"/><rect x="130.00" y="10.00" width="10.30" height="10.30" fill="#c9c9fe"/><rect x="140.00" y="10.00" width="10.30" height="10.30" fill="#c9c9fe"/><rect x="150.00" y="10.00" width="10.30" height="10.30" fill="#c9c9fe"/><rect x="-10.00" y="20.00" width="10.30" height="10.30" fill="#dcdcff"/><rect x="0.00" y="20.00" width="10.30" height="10.30" fill="#dcdcff"/><rect x="10.00" y="20.00" width="10.30" height="10.30" fill="#ffffff"/><rect x="20.00" y="20.00" width="10.30" height="10.30" fill="#dcdcff"/><rect x="30.00" y="20.00" width="10.30" height="10.30" fill="#eeeeff"/><rect x="40.00" y="20.00" width="10.30" height="10.30" fill="#eeeeff"/><rect x="50.00" y="20.00" width="10.30" height="10.30" fill="#fec6c6"/><rect x="60.00" y="20.00" width="10.30" height="10.30" fill="#fec6c6"/><rect x="70.00" y="20.00" width="10.30" height="10.30" fill="#ffd9d9"/><rect x="80.00" y="20.00" width="10.30" height="10.30" fill="#ffd9d9"/><rect x="90.00" y="20.00" width="10.30" height="10.30" fill="#ffd9d9"/><rect x="100.00" y="20.00" width="10.30" height="10.30" fill="#ffecec"/><rect x="110.00" y="20.00" width="10.30" height="10.30" fill="#eeeeff"/><rect x="120.00" y="20.00" width="10.30" height="10.30" fill="#dcdcff"/><rect x="130.00" y="20.00" width="10.30" height="10.30" fill="#c9c9fe"/><rect x="140.00" y="20.00" width="10.30" height="10.30" fill="#c9c9fe"/><rect x="150.00" y="20.00" width="10.30" height="10.30" fill="#c9c9fe"/><rect x="-10.00" y="30.00" width="10.30" height="10.30" fill="#ffffff"/><rect x="0.00" y="30.00" width="10.30" height="10.30" fill="#ffffff"/><rect x="10.00" y="30.00" width="10.30" height="10.30" fill="#fec6c6"/><rect x="20.00" y="30.00" width="10.30" height="10.30" fill="#dcdcff"/><rect x="30.00" y="30.00" width="10.30" height="10.30" fill="#dcdcff"/><rect x="40.00" y="30.00" width="10.30" height="10.30" fill="#eeeeff"/><rect x="50.00" y="30.00" width="10.30" height="10.30" fill="#ffecec"/><rect x="60.00" y="30.00" width="10.30" height="10.30" fill="#dcdcff"/><rect x="70.00" y="30.00" width="10.30" height="10.30" fill="#fec6c6"/><rect x="80.00" y="30.00" width="10.30" height="10.30" fill="#ffffff"/><rect x="90.00" y="30.00" width="10.30" height="10.30" fill="#c9c9fe"/><rect x="100.00" y="30.00" width="10.30" height="10.30" fill="#dcdcff"/><rect x="110.00" y="30.00" width="10.30" height="10.30" fill="#ffffff"/><rect x="120.00" y="30.00" width="10.30" height="10.30" fill="#c9c9fe"/><rect x="130.00" y="30.00" width="10.30" height="10.30" fill="#b6b6fd"/><rect x="140.00" y="30.00" width="10.30" height="10.30" fill="#dcdcff"/><rect x="150.00" y="30.00" width="10.30" height="10.30" fill="#dcdcff"/><rect x="-10.00" y="40.00" width="10.30" height="10.30" fill="#ffd9d9"/><rect x="0.00" y="40.00" width="10.30" height="10.30" fill="#ffd9d9"/><rect x="10.00" y="40.00" width="10.30" height="10.30" fill="#fec6c6"/><rect x="20.00" y="40.00" width="10.30" height="10.30" fill="#ffd9d9"/><rect x="30.00" y="40.00" width="10.30" height="10.30" fill="#dcdcff"/><rect x="40.00" y="40.00" width="10.30" height="10.30" fill="#ffd9d9"/><rect x="50.00" y="40.00" width="10.30" height="10.30" fill="#fcb2b2"/><rect x="60.00" y="40.00" width="10.30" height="10.30" fill="#fcb2b2"/><rect x="70.00" y="40.00" width="10.30" height="10.30" fill="#fec6c6"/><rect x="80.00" y="40.00" width="10.30" height="10.30" fill="#fcb2b2"/><rect x="90.00" y="40.00" width="10.30" height="10.30" fill="#fcb2b2"/><rect x="100.00" y="40.00" width="10.30" height="10.30" fill="#fcb2b2"/><rect x="110.00" y="40.00" width="10.30" height="10.30" fill="#ffffff"/><rect x="120.00" y="40.00" width="10.30" height="10.30" fill="#c9c9fe"/><rect x="130.00" y="40.00" width="10.30" height="10.30" fill="#dcdcff"/><rect x="140.00" y="40.00" width="10.30" height="10.30" fill="#ffecec"/><rect x="150.00" y="40.00" width="10.30" height="10.30" fill="#ffecec"/><rect x="-10.00" y="50.00" width="10.30" height="10.30" fill="#ffffff"/><rect x="0.00" y="50.00" width="10.30" height="10.30" fill="#ffffff"/><rect x="10.00" y="50.00" width="10.30" height="10.30" fill="#eeeeff"/><rect x="20.00" y="50.00" width="10.30" height="10.30" fill="#ffffff"/><rect x="30.00" y="50.00" width="10.30" height="10.30" fill="#fec6c6"/><rect x="40.00" y="50.00" width="10.30" height="10.30" fill="#ffffff"/><rect x="50.00" y="50.00" width="10.30" height="10.30" fill="#fec6c6"/><rect x="60.00" y="50.00" width="10.30" height="10.30" fill="#fec6c6"/><rect x="70.00" y="50.00" width="10.30" height="10.30" fill="#ffecec"/><rect x="80.00" y="50.00" width="10.30" height="10.30" fill="#ffd9d9"/><rect x="90.00" y="50.00" width="10.30" height="10.30" fill="#ffecec"/><rect x="100.00" y="50.00" width="10.30" height="10.30" fill="#fcb2b2"/><rect x="110.00" y="50.00" width="10.30" height="10.30" fill="#fcb2b2"/><rect x="120.00" y="50.00" width="10.30" height="10.30" fill="#c9c9fe"/><rect x="130.00" y="50.00" width="10.30" height="10.30" fill="#dcdcff"/><rect x="140.00" y="50.00" width="10.30" height="10.30" fill="#ffecec"/><rect x="150.00" y="50.00" width="10.30" height="10.30" fill="#ffecec"/><rect x="-10.00" y="60.00" width="10.30" height="10.30" fill="#eeeeff"/><rect x="0.00" y="60.00" width="10.30" height="10.30" fill="#eeeeff"/><rect x="10.00" y="60.00" width="10.30" height="10.30" fill="#ffecec"/><rect x="20.00" y="60.00" width="10.30" height="10.30" fill="#ffd9d9"/><rect x="30.00" y="60.00" width="10.30" height="10.30" fill="#fec6c6"/><rect x="40.00" y="60.00" width="10.30" height="10.30" fill="#fec6c6"/><rect x="50.00" y="60.00" width="10.30" height="10.30" fill="#fec6c6"/><rect x="60.00" y="60.00" width="10.30" height="10.30" fill="#ffd9d9"/><rect x="70.00" y="60.00" width="10.30" height="10.30" fill="#fec6c6"/><rect x="80.00" y="60.00" width="10.30" height="10.30" fill="#eeeeff"/><rect x="90.00" y="60.00" width="10.30" height="10.30" fill="#dcdcff"/><rect x="100.00" y="60.00" width="10.30" height="10.30" fill="#ffd9d9"/><rect x="110.00" y="60.00" width="10.30" height="10.30" fill="#ffd9d9"/><rect x="120.00" y="60.00" width="10.30" height="10.30" fill="#eeeeff"/><rect x="130.00" y="60.00" width="10.30" height="10.30" fill="#ffd9d9"/><rect x="140.00" y="60.00" width="10.30" height="10.30" fill="#ffecec"/><rect x="150.00" y="60.00" width="10.30" height="10.30" fill="#ffecec"/><rect x="-10.00" y="70.00" width="10.30" height="10.30" fill="#fec6c6"/><rect x="0.00" y="70.00" width="10.30" height="10.30" fill="#fec6c6"/><rect x="10.00" y="70.00" width="10.30" height="10.30" fill="#fec6c6"/><rect x="20.00" y="70.00" width="10.30" height="10.30" fill="#fec6c6"/><rect x="30.00" y="70.00" width="10.30" height="10.30" fill="#fec6c6"/><rect x="40.00" y="70.00" width="10.30" height="10.30" fill="#fec6c6"/><rect x="50.00" y="70.00" width="10.30" height="10.30" fill="#fec6c6"/><rect x="60.00" y="70.00" width="10.30" height="10.30" fill="#ffd9d9"/><rect x="70.00" y="70.00" width="10.30" height="10.30" fill="#fec6c6"/><rect x="80.00" y="70.00" width="10.30" height="10.30" fill="#eeeeff"/><rect x="90.00" y="70.00" width="10.30" height="10.30" fill="#ffd9d9"/><rect x="100.00" y="70.00" width="10.30" height="10.30" fill="#ffecec"/><rect x="110.00" y="70.00" width="10.30" height="10.30" fill="#ffd9d9"/><rect x="120.00" y="70.00" width="10.30" height="10.30" fill="#ffd9d9"/><rect x="130.00" y="70.00" width="10.30" height="10.30" fill="#dcdcff"/><rect x="140.00" y="70.00" width="10.30" height="10.30" fill="#dcdcff"/><rect x="150.00" y="70.00" width="10.30" height="10.30" fill="#dcdcff"/><rect x="-10.00" y="80.00" width="10.30" height="10.30" fill="#fec6c6"/><rect x="0.00" y="80.00" width="10.30" height="10.30" fill="#fec6c6"/><rect x="10.00" y="80.00" width="10.30" height="10.30" fill="#ffecec"/><rect x="20.00" y="80.00" width="10.30" height="10.30" fill="#dcdcff"/><rect x="30.00" y="80.00" width="10.30" height="10.30" fill="#c9c9fe"/><rect x="40.00" y="80.00" width="10.30" height="10.30" fill="#c9c9fe"/><rect x="50.00" y="80.00" width="10.30" height="10.30" fill="#dcdcff"/><rect x="60.00" y="80.00" width="10.30" height="10.30" fill="#ffd9d9"/><rect x="70.00" y="80.00" width="10.30" height="10.30" fill="#fec6c6"/><rect x="80.00" y="80.00" width="10.30" height="10.30" fill="#dcdcff"/><rect x="90.00" y="80.00" width="10.30" height="10.30" fill="#eeeeff"/><rect x="100.00" y="80.00" width="10.30" height="10.30" fill="#ffd9d9"/><rect x="110.00" y="80.00" width="10.30" height="10.30" fill="#fec6c6"/><rect x="120.00" y="80.00" width="10.30" height="10.30" fill="#ffecec"/><rect x="130.00" y="80.00" width="10.30" height="10.30" fill="#c9c9fe"/><rect x="140.00" y="80.00" width="10.30" height="10.30" fill="#c9c9fe"/><rect x="150.00" y="80.00" width="10.30" height="10.30" fill="#c9c9fe"/><rect x="-10.00" y="90.00" width="10.30" height="10.30" fill="#fec6c6"/><rect x="0.00" y="90.00" width="10.30" height="10.30" fill="#fec6c6"/><rect x="10.00" y="90.00" width="10.30" height="10.30" fill="#fec6c6"/><rect x="20.00" y="90.00" width="10.30" height="10.30" fill="#fec6c6"/><rect x="30.00" y="90.00" width="10.30" height="10.30" fill="#ffecec"/><rect x="40.00" y="90.00" width="10.30" height="10.30" fill="#eeeeff"/><rect x="50.00" y="90.00" width="10.30" height="10.30" fill="#ffecec"/><rect x="60.00" y="90.00" width="10.30" height="10.30" fill="#dcdcff"/><rect x="70.00" y="90.00" width="10.30" height="10.30" fill="#ffecec"/><rect x="80.00" y="90.00" width="10.30" height="10.30" fill="#dcdcff"/><rect x="90.00" y="90.00" width="10.30" height="10.30" fill="#ffd9d9"/><rect x="100.00" y="90.00" width="10.30" height="10.30" fill="#ffd9d9"/><rect x="110.00" y="90.00" width="10.30" height="10.30" fill="#fec6c6"/><rect x="120.00" y="90.00" width="10.30" height="10.30" fill="#ffd9d9"/><rect x="130.00" y="90.00" width="10.30" height="10.30" fill="#c9c9fe"/><rect x="140.00" y="90.00" width="10.30" height="10.30" fill="#dcdcff"/><rect x="150.00" y="90.00" width="10.30" height="10.30" fill="#dcdcff"/><rect x="-10.00" y="100.00" width="10.30" height="10.30" fill="#dcdcff"/><rect x="0.00" y="100.00" width="10.30" height="10.30" fill="#dcdcff"/><rect x="10.00" y="100.00" width="10.30" height="10.30" fill="#eeeeff"/><rect x="20.00" y="100.00" width="10.30" height="10.30" fill="#dcdcff"/><rect x="30.00" y="100.00" width="10.30" height="10.30" fill="#fec6c6"/><rect x="40.00" y="100.00" width="10.30" height="10.30" fill="#fec6c6"/><rect x="50.00" y="100.00" width="10.30" height="10.30" fill="#ffd9d9"/><rect x="60.00" y="100.00" width="10.30" height="10.30" fill="#ffd9d9"/><rect x="70.00" y="100.00" width="10.30" height="10.30" fill="#dcdcff"/><rect x="80.00" y="100.00" width="10.30" height="10.30" fill="#dcdcff"/><rect x="90.00" y="100.00" width="10.30" height="10.30" fill="#eeeeff"/><rect x="100.00" y="100.00" width="10.30" height="10.30" fill="#fec6c6"/><rect x="110.00" y="100.00" width="10.30" height="10.30" fill="#fec6c6"/><rect x="120.00" y="100.00" width="10.30" height="10.30" fill="#ffd9d9"/><rect x="130.00" y="100.00" width="10.30" height="10.30" fill="#dcdcff"/><rect x="140.00" y="100.00" width="10.30" height="10.30" fill="#dcdcff"/><rect x="150.00" y="100.00" width="10.30" height="10.30" fill="#dcdcff"/><rect x="-10.00" y="110.00" width="10.30" height="10.30" fill="#ffd9d9"/><rect x="0.00" y="110.00" width="10.30" height="10.30" fill="#ffd9d9"/><rect x="10.00" y="110.00" width="10.30" height="10.30" fill="#eeeeff"/><rect x="20.00" y="110.00" width="10.30" height="10.30" fill="#dcdcff"/><rect x="30.00" y="110.00" width="10.30" height="10.30" fill="#fec6c6"/><rect x="40.00" y="110.00" width="10.30" height="10.30" fill="#fec6c6"/><rect x="50.00" y="110.00" width="10.30" height="10.30" fill="#fec6c6"/><rect x="60.00" y="110.00" width="10.30" height="10.30" fill="#fec6c6"/><rect x="70.00" y="110.00" width="10.30" height="10.30" fill="#ffecec"/><rect x="80.00" y="110.00" width="10.30" height="10.30" fill="#dcdcff"/><rect x="90.00" y="110.00" width="10.30" height="10.30" fill="#dcdcff"/><rect x="100.00" y="110.00" width="10.30" height="10.30" fill="#ffd9d9"/><rect x="110.00" y="110.00" width="10.30" height="10.30" fill="#fec6c6"/><rect x="120.00" y="110.00" width="10.30" height="10.30" fill="#ffd9d9"/><rect x="130.00" y="110.00" width="10.30" height="10.30" fill="#c9c9fe"/><rect x="140.00" y="110.00" width="10.30" height="10.30" fill="#dcdcff"/><rect x="150.00" y="110.00" width="10.30" height="10.30" fill="#dcdcff"/><rect x="-10.00" y="120.00" width="10.30" height="10.30" fill="#fec6c6"/><rect x="0.00" y="120.00" width="10.30" height="10.30" fill="#fec6c6"/><rect x="10.00" y="120.00" width="10.30" height="10.30" fill="#ffffff"/><rect x="20.00" y="120.00" width="10.30" height="10.30" fill="#ffffff"/><rect x="30.00" y="120.00" width="10.30" height="10.30" fill="#fec6c6"/><rect x="40.00" y="120.00" width="10.30" height="10.30" fill="#fec6c6"/><rect x="50.00" y="120.00" width="10.30" height="10.30" fill="#fec6c6"/><rect x="60.00" y="120.00" width="10.30" height="10.30" fill="#fec6c6"/><rect x="70.00" y="120.00" width="10.30" height="10.30" fill="#fec6c6"/><rect x="80.00" y="120.00" width="10.30" height="10.30" fill="#ffecec"/><rect x="90.00" y="120.00" width="10.30" height="10.30" fill="#dcdcff"/><rect x="100.00" y="120.00" width="10.30" height="10.30" fill="#fec6c6"/><rect x="110.00" y="120.00" width="10.30" height="10.30" fill="#fec6c6"/><rect x="120.00" y="120.00" width="10.30" height="10.30" fill="#ffd9d9"/><rect x="130.00" y="120.00" width="10.30" height="10.30" fill="#dcdcff"/><rect x="140.00" y="120.00" width="10.30" height="10.30" fill="#ffecec"/><rect x="150.00" y="120.00" width="10.30" height="10.30" fill="#ffecec"/><rect x="-10.00" y="130.00" width="10.30" height="10.30" fill="#ffd9d9"/><rect x="0.00" y="130.00" width="10.30" height="10.30" fill="#ffd9d9"/><rect x="10.00" y="130.00" width="10.30" height="10.30" fill="#fec6c6"/><rect x="20.00" y="130.00" width="10.30" height="10.30" fill="#ffecec"/><rect x="30.00" y="130.00" width="10.30" height="10.30" fill="#ffd9d9"/><rect x="40.00" y="130.00" width="10.30" height="10.30" fill="#fec6c6"/><rect x="50.00" y="130.00" width="10.30" height="10.30" fill="#fec6c6"/><rect x="60.00" y="130.00" width="10.30" height="10.30" fill="#fcb2b2"/><rect x="70.00" y="130.00" width="10.30" height="10.30" fill="#fcb2b2"/><rect x="80.00" y="130.00" width="10.30" height="10.30" fill="#fec6c6"/><rect x="90.00" y="130.00" width="10.30" height="10.30" fill="#dcdcff"/><rect x="100.00" y="130.00" width="10.30" height="10.30" fill="#dcdcff"/><rect x="110.00" y="130.00" width="10.30" height="10.30" fill="#fec6c6"/><rect x="120.00" y="130.00" width="10.30" height="10.30" fill="#fec6c6"/><rect x="130.00" y="130.00" width="10.30" height="10.30" fill="#ffecec"/><rect x="140.00" y="130.00" width="10.30" height="10.30" fill="#ffd9d9"/><rect x="150.00" y="130.00" width="10.30" height="10.30" fill="#ffd9d9"/><rect x="-10.00" y="140.00" width="10.30" height="10.30" fill="#fec6c6"/><rect x="0.00" y="140.00" width="10.30" height="10.30" fill="#fec6c6"/><rect x="10.00" y="140.00" width="10.30" height="10.30" fill="#fec6c6"/><rect x="20.00" y="140.00" width="10.30" height="10.30" fill="#ffd9d9"/><rect x="30.00" y="140.00" width="10.30" height="10.30" fill="#ffd9d9"/><rect x="40.00" y="140.00" width="10.30" height="10.30" fill="#fec6c6"/><rect x="50.00" y="140.00" width="10.30" height="10.30" fill="#fec6c6"/><rect x="60.00" y="140.00" width="10.30" height="10.30" fill="#fec6c6"/><rect x="70.00" y="140.00" width="10.30" height="10.30" fill="#fec6c6"/><rect x="80.00" y="140.00" width="10.30" height="10.30" fill="#fec6c6"/><rect x="90.00" y="140.00" width="10.30" height="10.30" fill="#dcdcff"/><rect x="100.00" y="140.00" width="10.30" height="10.30" fill="#dcdcff"/><rect x="110.00" y="140.00" width="10.30" height="10.30" fill="#fec6c6"/><rect x="120.00" y="140.00" width="10.30" height="10.30" fill="#ffd9d9"/><rect x="130.00" y="140.00" width="10.30" height="10.30" fill="#ffecec"/><rect x="140.00" y="140.00" width="10.30" height="10.30" fill="#ffd9d9"/><rect x="150.00" y="140.00" width="10.30" height="10.30" fill="#ffd9d9"/><rect x="-10.00" y="150.00" width="10.30" height="10.30" fill="#fec6c6"/><rect x="0.00" y="150.00" width="10.30" height="10.30" fill="#fec6c6"/><rect x="10.00" y="150.00" width="10.30" height="10.30" fill="#fec6c6"/><rect x="20.00" y="150.00" width="10.30" height="10.30" fill="#ffd9d9"/><rect x="30.00" y="150.00" width="10.30" height="10.30" fill="#ffd9d9"/><rect x="40.00" y="150.00" width="10.30" height="10.30" fill="#fec6c6"/><rect x="50.00" y="150.00" width="10.30" height="10.30" fill="#fec6c6"/><rect x="60.00" y="150.00" width="10.30" height="10.30" fill="#fec6c6"/><rect x="70.00" y="150.00" width="10.30" height="10.30" fill="#fec6c6"/><rect x="80.00" y="150.00" width="10.30" height="10.30" fill="#fec6c6"/><rect x="90.00" y="150.00" width="10.30" height="10.30" fill="#dcdcff"/><rect x="100.00" y="150.00" width="10.30" height="10.30" fill="#dcdcff"/><rect x="110.00" y="150.00" width="10.30" height="10.30" fill="#fec6c6"/><rect x="120.00" y="150.00" width="10.30" height="10.30" fill="#ffd9d9"/><rect x="130.00" y="150.00" width="10.30" height="10.30" fill="#ffecec"/><rect x="140.00" y="150.00" width="10.30" height="10.30" fill="#ffd9d9"/><rect x="150.00" y="150.00" width="10.30" height="10.30" fill="#ffd9d9"/></g><g filter="url(#soA3)"><path d="M95.0,33.3 L103.8,35.0 L112.5,37.7 L121.3,35.0 L130.0,34.2 L137.0,29.8 L140.5,22.8 L144.0,17.5 L147.5,14.0" fill="none" stroke="#e6e6ff" stroke-width="14.399999999999999" stroke-opacity="0.8" stroke-linecap="round" stroke-linejoin="round"/><path d="M121.0,40.0 L126.0,46.0 L130.0,52.0 L134.0,56.0" fill="none" stroke="#e6e6ff" stroke-width="16.299999999999997" stroke-opacity="0.8" stroke-linecap="round" stroke-linejoin="round"/><path d="M100.0,8.0 L104.0,13.0" fill="none" stroke="#e6e6ff" stroke-width="10.6" stroke-opacity="0.8" stroke-linecap="round" stroke-linejoin="round"/><path d="M116.0,11.0 L124.0,15.0" fill="none" stroke="#e6e6ff" stroke-width="10.6" stroke-opacity="0.8" stroke-linecap="round" stroke-linejoin="round"/><path d="M142.0,12.0 L146.0,20.0 L148.0,28.0 L147.0,36.0" fill="none" stroke="#e6e6ff" stroke-width="12.5" stroke-opacity="0.8" stroke-linecap="round" stroke-linejoin="round"/><path d="M1.8,14.0 L5.3,17.5 L7.9,24.5 L10.5,31.5 L12.3,38.5 L10.5,49.0 L12.3,56.0" fill="none" stroke="#e6e6ff" stroke-width="12.5" stroke-opacity="0.8" stroke-linecap="round" stroke-linejoin="round"/><path d="M2.0,12.0 L6.0,16.0 L8.0,22.0" fill="none" stroke="#e6e6ff" stroke-width="12.5" stroke-opacity="0.8" stroke-linecap="round" stroke-linejoin="round"/><path d="M22.8,25.0 L27.0,21.0 L33.0,14.0" fill="none" stroke="#e6e6ff" stroke-width="10.6" stroke-opacity="0.8" stroke-linecap="round" stroke-linejoin="round"/><path d="M24.5,35.0 L30.0,37.0 L36.0,38.0 L40.3,39.0" fill="none" stroke="#e6e6ff" stroke-width="14.399999999999999" stroke-opacity="0.8" stroke-linecap="round" stroke-linejoin="round"/><path d="M40.3,45.0 L44.0,48.0 L47.3,50.8" fill="none" stroke="#e6e6ff" stroke-width="12.5" stroke-opacity="0.8" stroke-linecap="round" stroke-linejoin="round"/><path d="M46.4,2.0 L50.0,6.0 L55.0,11.0 L58.0,12.0" fill="none" stroke="#e6e6ff" stroke-width="14.399999999999999" stroke-opacity="0.8" stroke-linecap="round" stroke-linejoin="round"/><path d="M0.0,45.0 L3.0,50.0" fill="none" stroke="#e6e6ff" stroke-width="8.7" stroke-opacity="0.8" stroke-linecap="round" stroke-linejoin="round"/><path d="M17.5,57.0 L22.8,59.0" fill="none" stroke="#e6e6ff" stroke-width="8.7" stroke-opacity="0.8" stroke-linecap="round" stroke-linejoin="round"/><path d="M19.2,82.7 L31.5,81.9 L40.2,82.7 L49.0,83.6 L57.7,84.5 L66.4,81.0" fill="none" stroke="#e6e6ff" stroke-width="12.5" stroke-opacity="0.8" stroke-linecap="round" stroke-linejoin="round"/><path d="M22.7,109.0 L26.2,117.7" fill="none" stroke="#e6e6ff" stroke-width="8.7" stroke-opacity="0.8" stroke-linecap="round" stroke-linejoin="round"/><path d="M101.2,61.7 L97.7,68.7 L92.5,74.0 L87.2,79.2" fill="none" stroke="#e6e6ff" stroke-width="8.7" stroke-opacity="0.8" stroke-linecap="round" stroke-linejoin="round"/><path d="M75.0,96.0 L81.0,98.0 L87.0,101.0" fill="none" stroke="#e6e6ff" stroke-width="10.6" stroke-opacity="0.8" stroke-linecap="round" stroke-linejoin="round"/><path d="M75.0,110.0 L82.0,111.0 L89.0,112.0" fill="none" stroke="#e6e6ff" stroke-width="8.7" stroke-opacity="0.8" stroke-linecap="round" stroke-linejoin="round"/><path d="M134.0,82.0 L140.0,85.0 L145.0,90.0 L146.0,95.0" fill="none" stroke="#e6e6ff" stroke-width="14.399999999999999" stroke-opacity="0.8" stroke-linecap="round" stroke-linejoin="round"/><path d="M131.0,110.0 L135.0,114.0 L140.0,119.0" fill="none" stroke="#e6e6ff" stroke-width="12.5" stroke-opacity="0.8" stroke-linecap="round" stroke-linejoin="round"/><path d="M124.0,61.0 L134.0,62.0 L145.0,64.0" fill="none" stroke="#e6e6ff" stroke-width="10.6" stroke-opacity="0.8" stroke-linecap="round" stroke-linejoin="round"/><path d="M72.5,108.5 L80.0,110.0 L87.5,111.0" fill="none" stroke="#e6e6ff" stroke-width="8.7" stroke-opacity="0.8" stroke-linecap="round" stroke-linejoin="round"/><path d="M100.0,115.0 L104.0,122.0 L108.0,131.0" fill="none" stroke="#e6e6ff" stroke-width="8.7" stroke-opacity="0.8" stroke-linecap="round" stroke-linejoin="round"/><path d="M132.5,113.0 L136.0,120.0 L139.0,125.0" fill="none" stroke="#e6e6ff" stroke-width="12.5" stroke-opacity="0.8" stroke-linecap="round" stroke-linejoin="round"/><path d="M20.0,110.0 L24.0,117.0" fill="none" stroke="#e6e6ff" stroke-width="8.7" stroke-opacity="0.8" stroke-linecap="round" stroke-linejoin="round"/><path d="M108.0,136.0 L112.0,140.0 L117.0,144.0" fill="none" stroke="#e6e6ff" stroke-width="8.7" stroke-opacity="0.8" stroke-linecap="round" stroke-linejoin="round"/></g><g filter="url(#sbA3)"><g fill="#2a2ad0"><circle cx="97.6" cy="35.1" r="0.36"/><circle cx="145.4" cy="23.1" r="0.41"/><circle cx="96.0" cy="31.9" r="0.31"/><circle cx="111.9" cy="38.2" r="0.48"/><circle cx="106.5" cy="37.4" r="0.58"/><circle cx="115.9" cy="34.6" r="0.34"/><circle cx="121.5" cy="33.7" r="0.56"/><circle cx="103.2" cy="31.8" r="0.36"/><circle cx="104.2" cy="29.3" r="0.45"/><circle cx="140.7" cy="23.0" r="0.34"/><circle cx="109.6" cy="34.4" r="0.62"/><circle cx="105.4" cy="30.8" r="0.52"/><circle cx="109.6" cy="36.8" r="0.58"/><circle cx="136.1" cy="23.3" r="0.69"/><circle cx="123.8" cy="37.1" r="0.65"/><circle cx="101.6" cy="34.5" r="0.59"/><circle cx="141.0" cy="17.4" r="0.63"/><circle cx="139.5" cy="22.8" r="0.59"/><circle cx="116.1" cy="36.4" r="0.51"/><circle cx="113.9" cy="37.3" r="0.57"/><circle cx="96.5" cy="32.2" r="0.44"/><circle cx="146.9" cy="15.3" r="0.60"/><circle cx="133.7" cy="30.9" r="0.31"/><circle cx="128.7" cy="35.3" r="0.69"/><circle cx="139.7" cy="28.5" r="0.39"/><circle cx="96.5" cy="41.1" r="0.50"/><circle cx="123.0" cy="40.7" r="0.42"/><circle cx="119.8" cy="38.3" r="0.32"/><circle cx="94.5" cy="40.3" r="0.55"/><circle cx="98.5" cy="31.6" r="0.36"/><circle cx="102.6" cy="39.9" r="0.48"/><circle cx="96.8" cy="34.0" r="0.41"/><circle cx="122.8" cy="31.4" r="0.35"/><circle cx="139.5" cy="23.9" r="0.34"/><circle cx="122.0" cy="34.8" r="0.31"/><circle cx="146.0" cy="13.6" r="0.58"/><circle cx="107.1" cy="35.3" r="0.63"/><circle cx="97.7" cy="32.7" r="0.34"/><circle cx="109.9" cy="32.7" r="0.40"/><circle cx="135.5" cy="23.6" r="0.46"/><circle cx="123.0" cy="33.9" r="0.58"/><circle cx="115.5" cy="34.8" r="0.36"/><circle cx="133.5" cy="31.0" r="0.68"/><circle cx="138.9" cy="25.8" r="0.48"/><circle cx="139.8" cy="24.4" r="0.32"/><circle cx="125.0" cy="33.9" r="0.47"/><circle cx="136.3" cy="31.2" r="0.45"/><circle cx="147.9" cy="15.5" r="0.31"/><circle cx="143.9" cy="14.5" r="0.34"/><circle cx="121.8" cy="33.5" r="0.47"/><circle cx="99.4" cy="28.8" r="0.68"/><circle cx="140.5" cy="31.2" r="0.46"/><circle cx="145.6" cy="23.0" r="0.58"/><circle cx="103.9" cy="36.2" r="0.45"/><circle cx="120.7" cy="36.2" r="0.40"/><circle cx="137.1" cy="21.3" r="0.49"/><circle cx="137.9" cy="24.4" r="0.43"/><circle cx="104.5" cy="37.3" r="0.61"/><circle cx="133.1" cy="28.7" r="0.58"/><circle cx="147.5" cy="17.5" r="0.35"/><circle cx="100.0" cy="39.5" r="0.59"/><circle cx="127.7" cy="29.9" r="0.68"/><circle cx="145.8" cy="21.5" r="0.62"/><circle cx="111.2" cy="39.8" r="0.62"/><circle cx="141.2" cy="16.4" r="0.53"/><circle cx="140.2" cy="23.6" r="0.56"/><circle cx="145.2" cy="12.7" r="0.36"/><circle cx="137.7" cy="28.8" r="0.52"/><circle cx="135.0" cy="37.7" r="0.60"/><circle cx="132.9" cy="32.2" r="0.41"/><circle cx="126.1" cy="33.1" r="0.70"/><circle cx="130.1" cy="37.1" r="0.62"/><circle cx="129.1" cy="28.4" r="0.56"/><circle cx="117.3" cy="38.6" r="0.47"/><circle cx="135.9" cy="31.4" r="0.33"/><circle cx="133.4" cy="31.2" r="0.41"/><circle cx="103.6" cy="38.0" r="0.37"/><circle cx="142.5" cy="15.5" r="0.48"/><circle cx="96.2" cy="35.2" r="0.65"/><circle cx="135.0" cy="31.5" r="0.60"/><circle cx="134.9" cy="30.8" r="0.46"/><circle cx="122.0" cy="32.4" r="0.59"/><circle cx="117.2" cy="36.2" r="0.48"/><circle cx="128.1" cy="32.3" r="0.34"/><circle cx="101.0" cy="33.3" r="0.48"/><circle cx="142.3" cy="17.7" r="0.55"/><circle cx="133.8" cy="29.8" r="0.37"/><circle cx="111.4" cy="35.9" r="0.37"/><circle cx="108.0" cy="32.5" r="0.59"/><circle cx="128.7" cy="34.1" r="0.35"/><circle cx="119.0" cy="34.6" r="0.69"/><circle cx="107.6" cy="37.4" r="0.59"/><circle cx="106.9" cy="33.9" r="0.67"/><circle cx="137.2" cy="29.8" r="0.63"/><circle cx="146.6" cy="13.4" r="0.51"/><circle cx="140.0" cy="30.3" r="0.65"/><circle cx="127.3" cy="29.8" r="0.39"/><circle cx="127.1" cy="37.8" r="0.36"/><circle cx="131.5" cy="32.6" r="0.61"/><circle cx="145.5" cy="16.4" r="0.49"/><circle cx="96.4" cy="36.1" r="0.55"/><circle cx="97.7" cy="33.0" r="0.54"/><circle cx="139.3" cy="23.5" r="0.68"/><circle cx="99.5" cy="36.9" r="0.50"/><circle cx="96.9" cy="29.8" r="0.34"/><circle cx="133.2" cy="36.3" r="0.54"/><circle cx="141.9" cy="23.3" r="0.57"/><circle cx="139.8" cy="16.0" r="0.59"/><circle cx="109.6" cy="41.2" r="0.50"/><circle cx="145.3" cy="17.3" r="0.36"/><circle cx="113.3" cy="36.1" r="0.45"/><circle cx="122.4" cy="32.4" r="0.44"/><circle cx="143.8" cy="21.9" r="0.41"/><circle cx="98.4" cy="33.5" r="0.48"/><circle cx="146.3" cy="13.0" r="0.36"/><circle cx="116.6" cy="37.5" r="0.64"/><circle cx="139.4" cy="30.8" r="0.41"/><circle cx="132.6" cy="27.2" r="0.68"/><circle cx="140.9" cy="22.8" r="0.42"/><circle cx="126.1" cy="32.7" r="0.36"/><circle cx="138.2" cy="30.3" r="0.31"/><circle cx="126.1" cy="31.7" r="0.65"/><circle cx="101.3" cy="33.4" r="0.34"/><circle cx="141.3" cy="16.9" r="0.48"/><circle cx="143.1" cy="21.8" r="0.44"/><circle cx="137.8" cy="30.1" r="0.31"/><circle cx="138.0" cy="29.3" r="0.33"/><circle cx="128.2" cy="34.9" r="0.64"/><circle cx="148.8" cy="15.4" r="0.53"/><circle cx="136.4" cy="32.6" r="0.49"/><circle cx="107.2" cy="37.5" r="0.67"/><circle cx="141.0" cy="24.5" r="0.64"/><circle cx="100.2" cy="30.8" r="0.64"/><circle cx="122.1" cy="37.5" r="0.54"/><circle cx="130.4" cy="31.1" r="0.57"/><circle cx="135.4" cy="15.4" r="0.49"/><circle cx="134.1" cy="31.6" r="0.36"/><circle cx="134.5" cy="29.7" r="0.45"/><circle cx="100.8" cy="32.6" r="0.44"/><circle cx="113.7" cy="39.7" r="0.47"/><circle cx="118.1" cy="36.5" r="0.48"/><circle cx="142.6" cy="25.0" r="0.50"/><circle cx="118.6" cy="33.5" r="0.47"/><circle cx="111.5" cy="37.9" r="0.52"/><circle cx="122.0" cy="35.7" r="0.68"/><circle cx="142.4" cy="18.1" r="0.60"/><circle cx="97.0" cy="33.1" r="0.62"/><circle cx="112.6" cy="35.3" r="0.52"/><circle cx="138.2" cy="23.7" r="0.32"/><circle cx="133.0" cy="34.1" r="0.40"/><circle cx="112.1" cy="34.6" r="0.43"/><circle cx="125.1" cy="30.1" r="0.49"/><circle cx="146.9" cy="18.7" r="0.49"/><circle cx="108.2" cy="36.5" r="0.60"/><circle cx="136.7" cy="24.4" r="0.46"/><circle cx="105.8" cy="35.3" r="0.62"/><circle cx="110.4" cy="38.7" r="0.58"/><circle cx="109.3" cy="36.2" r="0.50"/><circle cx="138.9" cy="28.8" r="0.42"/><circle cx="102.4" cy="34.7" r="0.45"/><circle cx="131.0" cy="34.5" r="0.63"/><circle cx="122.1" cy="29.1" r="0.64"/><circle cx="148.2" cy="17.6" r="0.35"/><circle cx="136.7" cy="29.2" r="0.37"/><circle cx="103.1" cy="35.0" r="0.63"/><circle cx="100.3" cy="37.7" r="0.51"/><circle cx="138.3" cy="26.7" r="0.46"/><circle cx="103.6" cy="32.2" r="0.36"/><circle cx="123.7" cy="30.1" r="0.61"/><circle cx="121.4" cy="39.5" r="0.45"/><circle cx="117.4" cy="37.6" r="0.37"/><circle cx="114.9" cy="32.8" r="0.43"/><circle cx="123.3" cy="35.4" r="0.44"/><circle cx="113.6" cy="33.9" r="0.44"/><circle cx="130.1" cy="30.2" r="0.37"/><circle cx="136.4" cy="25.3" r="0.64"/><circle cx="121.2" cy="41.1" r="0.56"/><circle cx="110.8" cy="39.4" r="0.59"/><circle cx="118.6" cy="40.1" r="0.53"/><circle cx="98.5" cy="35.8" r="0.31"/><circle cx="117.9" cy="35.4" r="0.68"/><circle cx="97.7" cy="37.0" r="0.40"/><circle cx="99.6" cy="37.8" r="0.65"/><circle cx="127.1" cy="36.1" r="0.54"/><circle cx="133.8" cy="34.3" r="0.46"/><circle cx="136.1" cy="32.1" r="0.33"/><circle cx="113.4" cy="39.3" r="0.43"/><circle cx="115.3" cy="32.0" r="0.57"/><circle cx="137.5" cy="25.1" r="0.60"/><circle cx="136.6" cy="27.8" r="0.46"/><circle cx="138.7" cy="26.1" r="0.66"/><circle cx="123.7" cy="33.5" r="0.39"/><circle cx="131.9" cy="36.2" r="0.39"/><circle cx="144.3" cy="20.3" r="0.31"/><circle cx="143.5" cy="24.2" r="0.61"/><circle cx="133.1" cy="30.7" r="0.58"/><circle cx="109.0" cy="33.4" r="0.56"/><circle cx="115.9" cy="34.9" r="0.43"/><circle cx="141.1" cy="13.1" r="0.69"/><circle cx="143.5" cy="16.8" r="0.62"/><circle cx="122.7" cy="35.4" r="0.41"/><circle cx="114.3" cy="39.2" r="0.50"/><circle cx="107.2" cy="35.4" r="0.37"/><circle cx="106.8" cy="33.7" r="0.31"/><circle cx="137.0" cy="16.3" r="0.67"/><circle cx="112.5" cy="37.0" r="0.57"/><circle cx="136.9" cy="27.1" r="0.67"/><circle cx="99.6" cy="33.7" r="0.60"/><circle cx="119.2" cy="35.0" r="0.60"/><circle cx="109.4" cy="37.4" r="0.70"/><circle cx="142.6" cy="18.6" r="0.63"/><circle cx="134.1" cy="28.0" r="0.58"/><circle cx="141.4" cy="18.6" r="0.42"/><circle cx="110.1" cy="33.0" r="0.56"/><circle cx="138.5" cy="22.9" r="0.57"/><circle cx="134.4" cy="22.2" r="0.31"/><circle cx="104.2" cy="35.2" r="0.33"/><circle cx="106.9" cy="38.0" r="0.38"/><circle cx="99.5" cy="33.2" r="0.60"/><circle cx="103.0" cy="38.9" r="0.52"/><circle cx="116.9" cy="34.6" r="0.66"/><circle cx="121.5" cy="33.9" r="0.43"/><circle cx="126.8" cy="32.0" r="0.46"/><circle cx="105.3" cy="40.8" r="0.50"/><circle cx="104.1" cy="36.0" r="0.61"/><circle cx="110.5" cy="37.0" r="0.47"/><circle cx="138.0" cy="31.6" r="0.48"/><circle cx="145.7" cy="20.8" r="0.55"/><circle cx="98.7" cy="33.0" r="0.58"/><circle cx="132.6" cy="33.6" r="0.65"/><circle cx="131.8" cy="32.5" r="0.42"/><circle cx="116.1" cy="38.1" r="0.47"/><circle cx="111.3" cy="37.3" r="0.47"/><circle cx="132.5" cy="33.9" r="0.67"/><circle cx="143.2" cy="19.5" r="0.37"/><circle cx="148.4" cy="16.5" r="0.54"/><circle cx="107.9" cy="42.2" r="0.56"/><circle cx="102.0" cy="36.0" r="0.34"/><circle cx="127.9" cy="38.9" r="0.49"/><circle cx="132.4" cy="34.6" r="0.41"/><circle cx="130.1" cy="38.0" r="0.46"/><circle cx="140.2" cy="25.2" r="0.51"/><circle cx="143.7" cy="11.5" r="0.61"/><circle cx="142.6" cy="15.6" r="0.32"/><circle cx="119.6" cy="37.5" r="0.35"/><circle cx="125.7" cy="33.7" r="0.58"/><circle cx="102.2" cy="36.3" r="0.59"/><circle cx="104.5" cy="36.4" r="0.41"/><circle cx="109.2" cy="39.3" r="0.58"/><circle cx="144.4" cy="24.5" r="0.63"/><circle cx="145.1" cy="15.5" r="0.64"/><circle cx="99.0" cy="34.0" r="0.58"/><circle cx="111.0" cy="36.3" r="0.41"/><circle cx="97.0" cy="30.0" r="0.65"/><circle cx="145.2" cy="24.0" r="0.65"/><circle cx="134.6" cy="27.5" r="0.50"/><circle cx="119.2" cy="34.4" r="0.30"/><circle cx="113.2" cy="37.8" r="0.30"/><circle cx="117.8" cy="34.4" r="0.59"/><circle cx="111.7" cy="38.2" r="0.65"/><circle cx="124.4" cy="33.5" r="0.38"/><circle cx="127.3" cy="33.2" r="0.61"/><circle cx="146.7" cy="21.7" r="0.46"/><circle cx="130.3" cy="41.1" r="0.47"/></g><g fill="#2a2ad0"><circle cx="122.0" cy="41.0" r="0.41"/><circle cx="130.2" cy="52.6" r="0.58"/><circle cx="127.0" cy="47.6" r="0.65"/><circle cx="131.7" cy="48.0" r="0.36"/><circle cx="131.6" cy="47.0" r="0.39"/><circle cx="129.1" cy="51.8" r="0.38"/><circle cx="124.8" cy="44.9" r="0.37"/><circle cx="128.5" cy="54.2" r="0.57"/><circle cx="122.3" cy="39.7" r="0.56"/><circle cx="126.8" cy="46.2" r="0.52"/><circle cx="129.9" cy="53.2" r="0.42"/><circle cx="126.1" cy="38.3" r="0.53"/><circle cx="123.3" cy="51.7" r="0.38"/><circle cx="129.9" cy="44.2" r="0.58"/><circle cx="126.0" cy="47.0" r="0.47"/><circle cx="131.8" cy="53.6" r="0.68"/><circle cx="127.5" cy="48.2" r="0.43"/><circle cx="126.0" cy="54.0" r="0.44"/><circle cx="127.3" cy="39.9" r="0.50"/><circle cx="131.0" cy="48.0" r="0.53"/><circle cx="125.0" cy="50.3" r="0.65"/><circle cx="127.4" cy="48.4" r="0.61"/><circle cx="129.6" cy="59.0" r="0.50"/><circle cx="120.1" cy="40.8" r="0.39"/><circle cx="132.8" cy="44.4" r="0.44"/><circle cx="129.7" cy="54.0" r="0.46"/><circle cx="131.8" cy="56.6" r="0.63"/><circle cx="122.7" cy="41.6" r="0.43"/><circle cx="132.8" cy="53.9" r="0.30"/><circle cx="133.6" cy="56.0" r="0.64"/><circle cx="134.6" cy="54.4" r="0.57"/><circle cx="119.8" cy="42.3" r="0.54"/><circle cx="121.4" cy="43.8" r="0.40"/><circle cx="130.2" cy="59.5" r="0.57"/><circle cx="129.8" cy="49.0" r="0.68"/><circle cx="123.0" cy="39.4" r="0.66"/><circle cx="130.6" cy="46.8" r="0.46"/><circle cx="125.1" cy="41.0" r="0.44"/><circle cx="130.9" cy="49.3" r="0.58"/><circle cx="117.2" cy="44.0" r="0.34"/><circle cx="133.0" cy="52.5" r="0.51"/><circle cx="128.3" cy="48.7" r="0.58"/><circle cx="126.7" cy="48.0" r="0.66"/><circle cx="130.0" cy="51.5" r="0.45"/><circle cx="119.9" cy="43.7" r="0.57"/><circle cx="124.3" cy="50.9" r="0.33"/><circle cx="123.6" cy="40.6" r="0.42"/><circle cx="121.2" cy="40.5" r="0.39"/><circle cx="127.8" cy="49.1" r="0.42"/><circle cx="125.8" cy="44.9" r="0.39"/><circle cx="124.6" cy="47.7" r="0.41"/><circle cx="131.9" cy="53.9" r="0.42"/><circle cx="129.2" cy="51.6" r="0.47"/><circle cx="129.1" cy="41.7" r="0.51"/><circle cx="126.6" cy="45.0" r="0.32"/><circle cx="126.1" cy="51.6" r="0.46"/><circle cx="122.3" cy="40.6" r="0.50"/><circle cx="127.1" cy="49.5" r="0.69"/><circle cx="127.1" cy="39.0" r="0.40"/><circle cx="129.0" cy="45.9" r="0.53"/><circle cx="127.7" cy="37.4" r="0.66"/><circle cx="131.0" cy="56.3" r="0.31"/><circle cx="129.5" cy="50.9" r="0.40"/><circle cx="131.8" cy="49.5" r="0.44"/><circle cx="134.7" cy="52.8" r="0.58"/><circle cx="121.0" cy="49.5" r="0.59"/><circle cx="132.9" cy="54.2" r="0.35"/><circle cx="130.7" cy="48.2" r="0.60"/><circle cx="128.3" cy="50.3" r="0.58"/><circle cx="122.1" cy="48.9" r="0.58"/><circle cx="128.9" cy="51.4" r="0.68"/><circle cx="130.1" cy="51.9" r="0.35"/><circle cx="125.6" cy="40.6" r="0.53"/><circle cx="123.7" cy="48.5" r="0.64"/><circle cx="131.2" cy="46.2" r="0.64"/><circle cx="125.4" cy="40.6" r="0.33"/><circle cx="124.2" cy="49.5" r="0.52"/><circle cx="127.7" cy="38.5" r="0.56"/><circle cx="131.8" cy="53.8" r="0.32"/><circle cx="128.7" cy="46.3" r="0.40"/><circle cx="125.3" cy="45.1" r="0.53"/><circle cx="136.8" cy="50.8" r="0.58"/><circle cx="124.8" cy="41.1" r="0.69"/><circle cx="125.2" cy="47.7" r="0.41"/><circle cx="129.7" cy="56.0" r="0.42"/><circle cx="125.9" cy="44.5" r="0.32"/><circle cx="120.3" cy="56.5" r="0.63"/><circle cx="124.8" cy="47.0" r="0.53"/><circle cx="128.9" cy="56.2" r="0.64"/><circle cx="124.8" cy="50.2" r="0.65"/><circle cx="122.4" cy="45.5" r="0.70"/><circle cx="125.5" cy="45.4" r="0.43"/><circle cx="123.4" cy="39.9" r="0.50"/><circle cx="120.2" cy="41.5" r="0.34"/><circle cx="117.2" cy="43.6" r="0.39"/><circle cx="126.7" cy="43.2" r="0.39"/><circle cx="131.8" cy="45.1" r="0.55"/><circle cx="121.8" cy="40.4" r="0.53"/><circle cx="122.2" cy="39.8" r="0.45"/><circle cx="122.6" cy="42.7" r="0.58"/><circle cx="126.2" cy="46.6" r="0.40"/><circle cx="128.4" cy="47.3" r="0.49"/><circle cx="124.7" cy="39.9" r="0.64"/><circle cx="135.8" cy="53.5" r="0.61"/><circle cx="126.4" cy="42.8" r="0.31"/><circle cx="131.1" cy="48.3" r="0.41"/><circle cx="125.3" cy="42.6" r="0.67"/><circle cx="133.8" cy="53.3" r="0.37"/></g><g fill="#2a2ad0"><circle cx="104.0" cy="11.1" r="0.38"/><circle cx="103.9" cy="10.4" r="0.69"/><circle cx="101.5" cy="10.3" r="0.51"/><circle cx="101.1" cy="8.7" r="0.50"/><circle cx="101.3" cy="11.9" r="0.65"/><circle cx="102.7" cy="8.5" r="0.35"/><circle cx="102.4" cy="9.9" r="0.31"/><circle cx="103.3" cy="7.4" r="0.40"/><circle cx="101.1" cy="11.0" r="0.32"/><circle cx="104.5" cy="11.8" r="0.65"/><circle cx="102.0" cy="12.7" r="0.37"/><circle cx="103.4" cy="12.8" r="0.35"/><circle cx="100.0" cy="9.0" r="0.38"/><circle cx="101.4" cy="15.0" r="0.42"/><circle cx="102.2" cy="11.6" r="0.65"/><circle cx="102.8" cy="13.9" r="0.40"/><circle cx="100.5" cy="10.5" r="0.45"/><circle cx="101.7" cy="10.9" r="0.53"/><circle cx="100.4" cy="10.6" r="0.44"/><circle cx="99.8" cy="11.0" r="0.69"/><circle cx="98.6" cy="13.9" r="0.69"/><circle cx="101.2" cy="10.2" r="0.69"/><circle cx="99.6" cy="9.2" r="0.65"/><circle cx="103.2" cy="11.0" r="0.68"/></g><g fill="#2a2ad0"><circle cx="116.1" cy="12.6" r="0.39"/><circle cx="123.2" cy="12.2" r="0.54"/><circle cx="123.7" cy="12.2" r="0.61"/><circle cx="119.6" cy="10.6" r="0.34"/><circle cx="122.4" cy="16.2" r="0.70"/><circle cx="118.1" cy="13.9" r="0.40"/><circle cx="118.6" cy="13.4" r="0.42"/><circle cx="115.2" cy="14.0" r="0.54"/><circle cx="118.0" cy="12.2" r="0.64"/><circle cx="118.9" cy="12.8" r="0.54"/><circle cx="119.6" cy="13.4" r="0.55"/><circle cx="122.9" cy="13.9" r="0.41"/><circle cx="119.9" cy="12.0" r="0.68"/><circle cx="117.2" cy="13.2" r="0.60"/><circle cx="116.3" cy="11.3" r="0.62"/><circle cx="116.9" cy="10.6" r="0.39"/><circle cx="118.4" cy="11.5" r="0.50"/><circle cx="114.9" cy="14.1" r="0.37"/><circle cx="119.6" cy="12.1" r="0.49"/><circle cx="123.6" cy="11.9" r="0.68"/><circle cx="121.7" cy="18.6" r="0.69"/><circle cx="121.8" cy="13.7" r="0.58"/><circle cx="121.9" cy="10.8" r="0.45"/><circle cx="122.2" cy="16.7" r="0.48"/></g><g fill="#2a2ad0"><circle cx="143.6" cy="21.7" r="0.35"/><circle cx="145.2" cy="23.5" r="0.43"/><circle cx="144.6" cy="28.0" r="0.33"/><circle cx="138.1" cy="15.9" r="0.57"/><circle cx="144.2" cy="35.2" r="0.36"/><circle cx="147.3" cy="15.0" r="0.42"/><circle cx="143.8" cy="17.8" r="0.45"/><circle cx="144.1" cy="20.1" r="0.62"/><circle cx="145.6" cy="31.6" r="0.59"/><circle cx="140.5" cy="13.8" r="0.68"/><circle cx="149.5" cy="24.7" r="0.66"/><circle cx="146.3" cy="24.5" r="0.48"/><circle cx="146.1" cy="34.7" r="0.67"/><circle cx="145.1" cy="31.7" r="0.61"/><circle cx="145.4" cy="32.0" r="0.50"/><circle cx="144.2" cy="35.6" r="0.69"/><circle cx="145.5" cy="21.2" r="0.46"/><circle cx="150.0" cy="29.2" r="0.65"/><circle cx="147.4" cy="30.5" r="0.68"/><circle cx="146.3" cy="24.7" r="0.53"/><circle cx="144.4" cy="28.1" r="0.55"/><circle cx="147.9" cy="22.2" r="0.58"/><circle cx="153.5" cy="30.0" r="0.45"/><circle cx="149.8" cy="33.7" r="0.70"/><circle cx="150.2" cy="29.7" r="0.45"/><circle cx="146.0" cy="30.8" r="0.61"/><circle cx="146.6" cy="14.8" r="0.36"/><circle cx="145.0" cy="29.4" r="0.52"/><circle cx="146.8" cy="14.3" r="0.34"/><circle cx="143.0" cy="23.9" r="0.69"/><circle cx="144.7" cy="18.8" r="0.67"/><circle cx="149.5" cy="34.7" r="0.60"/><circle cx="142.5" cy="17.5" r="0.62"/><circle cx="148.8" cy="27.4" r="0.55"/><circle cx="145.7" cy="21.1" r="0.65"/><circle cx="154.1" cy="32.6" r="0.40"/><circle cx="144.9" cy="17.5" r="0.66"/><circle cx="149.5" cy="23.0" r="0.69"/><circle cx="140.6" cy="13.1" r="0.60"/><circle cx="148.3" cy="25.6" r="0.55"/><circle cx="146.1" cy="22.3" r="0.44"/><circle cx="152.5" cy="29.6" r="0.51"/><circle cx="151.4" cy="26.8" r="0.37"/><circle cx="146.7" cy="21.2" r="0.64"/><circle cx="144.5" cy="15.8" r="0.49"/><circle cx="147.2" cy="16.7" r="0.59"/><circle cx="144.4" cy="15.4" r="0.48"/><circle cx="142.0" cy="13.9" r="0.51"/><circle cx="146.2" cy="23.9" r="0.45"/><circle cx="146.5" cy="34.0" r="0.50"/><circle cx="146.3" cy="26.6" r="0.33"/><circle cx="143.3" cy="34.9" r="0.54"/><circle cx="145.3" cy="21.6" r="0.44"/><circle cx="148.8" cy="31.2" r="0.65"/><circle cx="144.0" cy="19.4" r="0.48"/><circle cx="144.0" cy="33.0" r="0.69"/><circle cx="150.7" cy="36.4" r="0.59"/><circle cx="149.6" cy="15.0" r="0.68"/><circle cx="144.1" cy="12.4" r="0.57"/><circle cx="147.7" cy="24.5" r="0.53"/><circle cx="149.7" cy="31.5" r="0.66"/><circle cx="144.4" cy="20.9" r="0.38"/><circle cx="149.6" cy="23.0" r="0.52"/><circle cx="145.2" cy="20.4" r="0.47"/><circle cx="150.5" cy="34.2" r="0.34"/><circle cx="150.5" cy="25.1" r="0.35"/><circle cx="145.9" cy="15.6" r="0.55"/><circle cx="149.6" cy="20.3" r="0.37"/><circle cx="147.9" cy="33.2" r="0.67"/><circle cx="143.2" cy="13.4" r="0.32"/><circle cx="144.5" cy="21.4" r="0.40"/><circle cx="149.0" cy="28.5" r="0.57"/><circle cx="149.5" cy="35.7" r="0.53"/><circle cx="142.6" cy="13.8" r="0.41"/><circle cx="147.4" cy="30.1" r="0.44"/><circle cx="140.0" cy="18.7" r="0.42"/><circle cx="147.9" cy="16.1" r="0.69"/><circle cx="144.9" cy="21.8" r="0.47"/><circle cx="148.6" cy="30.1" r="0.59"/><circle cx="141.4" cy="14.7" r="0.66"/><circle cx="144.1" cy="15.1" r="0.38"/><circle cx="140.7" cy="16.0" r="0.68"/><circle cx="152.1" cy="22.1" r="0.59"/><circle cx="152.0" cy="29.5" r="0.60"/></g><g fill="#2a2ad0"><circle cx="10.8" cy="31.0" r="0.50"/><circle cx="13.4" cy="49.0" r="0.39"/><circle cx="13.1" cy="54.7" r="0.60"/><circle cx="7.3" cy="22.4" r="0.69"/><circle cx="9.9" cy="41.8" r="0.43"/><circle cx="6.1" cy="55.4" r="0.30"/><circle cx="9.5" cy="25.0" r="0.43"/><circle cx="6.1" cy="16.3" r="0.54"/><circle cx="11.7" cy="49.0" r="0.51"/><circle cx="8.3" cy="42.2" r="0.70"/><circle cx="13.3" cy="35.2" r="0.59"/><circle cx="10.3" cy="56.4" r="0.69"/><circle cx="3.9" cy="27.3" r="0.38"/><circle cx="8.5" cy="41.4" r="0.36"/><circle cx="12.1" cy="33.9" r="0.44"/><circle cx="15.7" cy="28.8" r="0.62"/><circle cx="9.7" cy="35.2" r="0.40"/><circle cx="9.8" cy="45.1" r="0.56"/><circle cx="7.4" cy="13.9" r="0.64"/><circle cx="11.4" cy="43.9" r="0.53"/><circle cx="8.5" cy="34.0" r="0.40"/><circle cx="9.0" cy="25.3" r="0.45"/><circle cx="10.3" cy="29.9" r="0.64"/><circle cx="3.8" cy="20.1" r="0.35"/><circle cx="4.1" cy="23.6" r="0.63"/><circle cx="4.7" cy="47.4" r="0.30"/><circle cx="12.0" cy="41.6" r="0.41"/><circle cx="12.8" cy="34.1" r="0.46"/><circle cx="13.8" cy="28.5" r="0.61"/><circle cx="11.5" cy="50.3" r="0.62"/><circle cx="7.7" cy="20.4" r="0.52"/><circle cx="10.5" cy="28.0" r="0.67"/><circle cx="12.6" cy="32.0" r="0.50"/><circle cx="11.9" cy="38.2" r="0.35"/><circle cx="13.5" cy="53.6" r="0.63"/><circle cx="3.5" cy="15.5" r="0.58"/><circle cx="8.7" cy="29.1" r="0.66"/><circle cx="12.4" cy="39.8" r="0.58"/><circle cx="11.5" cy="29.9" r="0.42"/><circle cx="8.5" cy="52.4" r="0.51"/><circle cx="11.1" cy="45.7" r="0.49"/><circle cx="5.4" cy="15.3" r="0.34"/><circle cx="2.1" cy="18.1" r="0.46"/><circle cx="11.8" cy="43.4" r="0.39"/><circle cx="4.2" cy="17.9" r="0.42"/><circle cx="6.7" cy="23.1" r="0.48"/><circle cx="6.7" cy="27.7" r="0.65"/><circle cx="13.8" cy="36.9" r="0.52"/><circle cx="7.0" cy="56.8" r="0.65"/><circle cx="2.1" cy="17.4" r="0.32"/><circle cx="9.7" cy="27.4" r="0.43"/><circle cx="8.0" cy="43.4" r="0.50"/><circle cx="9.1" cy="28.0" r="0.37"/><circle cx="7.7" cy="34.6" r="0.38"/><circle cx="13.1" cy="41.1" r="0.61"/><circle cx="13.6" cy="44.9" r="0.32"/><circle cx="15.2" cy="36.9" r="0.49"/><circle cx="10.8" cy="49.8" r="0.60"/><circle cx="9.2" cy="44.5" r="0.39"/><circle cx="10.7" cy="54.7" r="0.52"/><circle cx="4.3" cy="16.4" r="0.47"/><circle cx="6.6" cy="19.7" r="0.36"/><circle cx="9.8" cy="42.7" r="0.40"/><circle cx="12.8" cy="55.6" r="0.67"/><circle cx="10.3" cy="48.4" r="0.32"/><circle cx="7.4" cy="18.8" r="0.53"/><circle cx="2.9" cy="14.8" r="0.69"/><circle cx="11.9" cy="44.6" r="0.59"/><circle cx="9.7" cy="30.9" r="0.56"/><circle cx="15.5" cy="30.7" r="0.54"/><circle cx="7.7" cy="46.8" r="0.35"/><circle cx="10.1" cy="35.5" r="0.31"/><circle cx="13.4" cy="49.3" r="0.55"/><circle cx="9.4" cy="32.4" r="0.45"/><circle cx="11.7" cy="49.1" r="0.49"/><circle cx="4.9" cy="23.4" r="0.69"/><circle cx="8.9" cy="48.2" r="0.59"/><circle cx="11.8" cy="50.8" r="0.55"/><circle cx="12.7" cy="53.0" r="0.43"/><circle cx="7.4" cy="42.4" r="0.38"/><circle cx="6.8" cy="13.4" r="0.40"/><circle cx="12.2" cy="45.1" r="0.36"/><circle cx="13.7" cy="54.7" r="0.39"/><circle cx="9.4" cy="39.2" r="0.33"/><circle cx="11.3" cy="50.2" r="0.54"/><circle cx="7.8" cy="51.7" r="0.63"/><circle cx="10.9" cy="50.5" r="0.35"/><circle cx="9.7" cy="25.8" r="0.40"/><circle cx="2.7" cy="16.9" r="0.46"/><circle cx="8.3" cy="27.2" r="0.65"/><circle cx="12.1" cy="51.4" r="0.69"/><circle cx="12.4" cy="31.3" r="0.68"/><circle cx="10.2" cy="24.5" r="0.47"/><circle cx="8.9" cy="38.5" r="0.70"/><circle cx="12.0" cy="49.8" r="0.61"/><circle cx="4.1" cy="23.1" r="0.57"/><circle cx="16.6" cy="43.9" r="0.34"/><circle cx="8.3" cy="49.6" r="0.31"/><circle cx="11.1" cy="34.3" r="0.42"/><circle cx="3.4" cy="18.6" r="0.69"/><circle cx="11.9" cy="36.0" r="0.63"/><circle cx="6.9" cy="20.7" r="0.34"/><circle cx="9.3" cy="50.7" r="0.62"/><circle cx="10.6" cy="43.5" r="0.39"/><circle cx="9.8" cy="47.7" r="0.52"/><circle cx="11.6" cy="38.6" r="0.58"/><circle cx="0.8" cy="20.9" r="0.30"/><circle cx="2.6" cy="14.6" r="0.69"/><circle cx="10.5" cy="29.4" r="0.58"/><circle cx="12.6" cy="31.4" r="0.44"/><circle cx="7.8" cy="23.6" r="0.68"/><circle cx="13.2" cy="53.0" r="0.59"/><circle cx="9.3" cy="22.8" r="0.50"/><circle cx="5.8" cy="12.8" r="0.32"/><circle cx="5.7" cy="38.8" r="0.46"/><circle cx="10.9" cy="51.7" r="0.68"/><circle cx="8.1" cy="24.2" r="0.36"/><circle cx="8.9" cy="46.8" r="0.62"/><circle cx="10.7" cy="42.8" r="0.66"/><circle cx="14.4" cy="53.6" r="0.62"/><circle cx="7.8" cy="23.2" r="0.39"/><circle cx="11.8" cy="52.4" r="0.40"/><circle cx="6.5" cy="24.3" r="0.61"/><circle cx="10.4" cy="21.1" r="0.58"/><circle cx="13.4" cy="44.9" r="0.64"/><circle cx="12.8" cy="52.1" r="0.52"/><circle cx="9.6" cy="50.9" r="0.43"/><circle cx="12.0" cy="54.0" r="0.53"/><circle cx="11.2" cy="40.3" r="0.40"/><circle cx="11.9" cy="44.2" r="0.42"/><circle cx="4.2" cy="17.6" r="0.35"/><circle cx="10.1" cy="22.2" r="0.48"/></g><g fill="#2a2ad0"><circle cx="3.0" cy="11.1" r="0.64"/><circle cx="4.1" cy="22.0" r="0.69"/><circle cx="3.7" cy="13.4" r="0.56"/><circle cx="1.6" cy="15.7" r="0.60"/><circle cx="5.4" cy="13.3" r="0.42"/><circle cx="7.8" cy="13.4" r="0.57"/><circle cx="8.0" cy="16.3" r="0.44"/><circle cx="0.9" cy="18.4" r="0.34"/><circle cx="8.9" cy="21.0" r="0.50"/><circle cx="5.9" cy="11.3" r="0.31"/><circle cx="3.5" cy="17.9" r="0.34"/><circle cx="7.2" cy="7.9" r="0.33"/><circle cx="3.3" cy="13.3" r="0.63"/><circle cx="7.8" cy="12.8" r="0.37"/><circle cx="6.4" cy="20.9" r="0.32"/><circle cx="2.9" cy="12.9" r="0.43"/><circle cx="7.3" cy="17.9" r="0.37"/><circle cx="7.7" cy="16.2" r="0.69"/><circle cx="6.9" cy="22.2" r="0.31"/><circle cx="5.9" cy="16.9" r="0.48"/><circle cx="9.2" cy="18.3" r="0.61"/><circle cx="1.6" cy="17.3" r="0.67"/><circle cx="2.7" cy="18.7" r="0.56"/><circle cx="6.8" cy="18.8" r="0.53"/><circle cx="5.7" cy="15.1" r="0.32"/><circle cx="8.0" cy="13.2" r="0.48"/><circle cx="5.1" cy="13.8" r="0.67"/><circle cx="8.1" cy="17.4" r="0.38"/><circle cx="4.1" cy="15.8" r="0.46"/><circle cx="2.3" cy="15.8" r="0.41"/><circle cx="3.8" cy="15.7" r="0.69"/><circle cx="4.2" cy="14.0" r="0.45"/><circle cx="6.2" cy="9.3" r="0.56"/><circle cx="3.0" cy="11.1" r="0.50"/><circle cx="2.2" cy="13.8" r="0.57"/><circle cx="3.2" cy="14.4" r="0.63"/><circle cx="5.7" cy="16.1" r="0.63"/><circle cx="5.6" cy="16.6" r="0.64"/><circle cx="5.4" cy="12.2" r="0.51"/><circle cx="11.9" cy="20.7" r="0.56"/><circle cx="3.2" cy="16.7" r="0.58"/><circle cx="9.7" cy="20.3" r="0.67"/><circle cx="11.2" cy="14.4" r="0.63"/><circle cx="5.6" cy="12.5" r="0.69"/><circle cx="8.5" cy="18.9" r="0.63"/><circle cx="6.7" cy="18.2" r="0.54"/><circle cx="4.2" cy="17.0" r="0.59"/><circle cx="6.5" cy="13.3" r="0.32"/><circle cx="0.8" cy="16.2" r="0.37"/><circle cx="2.3" cy="12.9" r="0.65"/><circle cx="6.0" cy="18.0" r="0.59"/><circle cx="7.7" cy="21.6" r="0.61"/><circle cx="8.3" cy="18.5" r="0.69"/><circle cx="8.5" cy="21.4" r="0.55"/><circle cx="0.7" cy="14.2" r="0.63"/><circle cx="6.0" cy="13.3" r="0.31"/><circle cx="5.9" cy="21.7" r="0.53"/><circle cx="2.2" cy="19.8" r="0.59"/><circle cx="6.5" cy="20.5" r="0.53"/><circle cx="3.5" cy="13.5" r="0.54"/></g><g fill="#2a2ad0"><circle cx="26.8" cy="18.5" r="0.39"/><circle cx="22.3" cy="21.0" r="0.57"/><circle cx="25.7" cy="20.5" r="0.32"/><circle cx="24.4" cy="18.7" r="0.37"/><circle cx="27.1" cy="22.5" r="0.46"/><circle cx="24.5" cy="22.6" r="0.36"/><circle cx="26.2" cy="26.2" r="0.58"/><circle cx="27.1" cy="22.1" r="0.60"/><circle cx="32.2" cy="14.8" r="0.35"/><circle cx="27.9" cy="24.0" r="0.45"/><circle cx="26.8" cy="19.3" r="0.45"/><circle cx="29.9" cy="15.6" r="0.45"/><circle cx="29.9" cy="17.4" r="0.39"/><circle cx="22.7" cy="19.5" r="0.60"/><circle cx="24.7" cy="20.9" r="0.67"/><circle cx="28.1" cy="19.7" r="0.38"/><circle cx="33.2" cy="16.1" r="0.56"/><circle cx="26.8" cy="21.5" r="0.62"/><circle cx="31.2" cy="12.8" r="0.68"/><circle cx="29.1" cy="17.6" r="0.58"/><circle cx="29.6" cy="20.0" r="0.33"/><circle cx="22.3" cy="20.5" r="0.31"/><circle cx="24.9" cy="22.2" r="0.46"/><circle cx="30.0" cy="20.3" r="0.56"/><circle cx="24.0" cy="26.1" r="0.70"/><circle cx="25.8" cy="26.6" r="0.42"/><circle cx="28.0" cy="18.2" r="0.65"/><circle cx="29.2" cy="18.7" r="0.46"/><circle cx="26.9" cy="22.5" r="0.69"/><circle cx="33.2" cy="15.2" r="0.43"/><circle cx="31.7" cy="21.8" r="0.37"/><circle cx="30.1" cy="17.8" r="0.64"/><circle cx="29.1" cy="20.4" r="0.33"/><circle cx="22.5" cy="24.6" r="0.32"/><circle cx="24.4" cy="22.4" r="0.32"/><circle cx="24.3" cy="24.3" r="0.65"/><circle cx="35.1" cy="17.6" r="0.64"/><circle cx="26.7" cy="21.2" r="0.61"/><circle cx="29.7" cy="18.1" r="0.59"/><circle cx="32.5" cy="23.5" r="0.34"/><circle cx="30.8" cy="18.1" r="0.48"/><circle cx="31.2" cy="12.6" r="0.48"/><circle cx="31.5" cy="14.8" r="0.41"/></g><g fill="#2a2ad0"><circle cx="28.7" cy="36.7" r="0.62"/><circle cx="28.7" cy="35.5" r="0.53"/><circle cx="37.6" cy="38.2" r="0.69"/><circle cx="33.7" cy="42.0" r="0.44"/><circle cx="26.4" cy="38.3" r="0.64"/><circle cx="33.2" cy="37.5" r="0.36"/><circle cx="31.0" cy="34.3" r="0.39"/><circle cx="32.4" cy="40.2" r="0.52"/><circle cx="27.7" cy="38.0" r="0.63"/><circle cx="39.3" cy="35.9" r="0.59"/><circle cx="34.8" cy="37.2" r="0.59"/><circle cx="39.6" cy="37.3" r="0.57"/><circle cx="34.7" cy="39.4" r="0.68"/><circle cx="38.8" cy="35.1" r="0.31"/><circle cx="37.1" cy="34.2" r="0.44"/><circle cx="39.4" cy="38.1" r="0.40"/><circle cx="33.3" cy="35.7" r="0.31"/><circle cx="25.9" cy="32.9" r="0.51"/><circle cx="36.0" cy="41.3" r="0.36"/><circle cx="32.1" cy="40.6" r="0.44"/><circle cx="26.0" cy="39.2" r="0.31"/><circle cx="31.7" cy="36.4" r="0.37"/><circle cx="35.8" cy="38.7" r="0.45"/><circle cx="27.0" cy="32.7" r="0.70"/><circle cx="29.8" cy="31.8" r="0.35"/><circle cx="30.9" cy="38.2" r="0.64"/><circle cx="36.8" cy="37.8" r="0.43"/><circle cx="27.8" cy="34.9" r="0.49"/><circle cx="38.9" cy="32.6" r="0.67"/><circle cx="31.2" cy="37.4" r="0.49"/><circle cx="39.2" cy="39.7" r="0.38"/><circle cx="34.6" cy="39.5" r="0.63"/><circle cx="28.7" cy="38.9" r="0.33"/><circle cx="36.9" cy="39.1" r="0.35"/><circle cx="27.4" cy="33.3" r="0.49"/><circle cx="36.1" cy="40.0" r="0.41"/><circle cx="35.8" cy="40.6" r="0.49"/><circle cx="38.4" cy="34.6" r="0.31"/><circle cx="31.8" cy="34.8" r="0.39"/><circle cx="35.9" cy="35.2" r="0.59"/><circle cx="35.6" cy="36.4" r="0.44"/><circle cx="27.6" cy="31.9" r="0.70"/><circle cx="25.4" cy="40.1" r="0.48"/><circle cx="23.6" cy="40.2" r="0.39"/><circle cx="27.6" cy="39.0" r="0.55"/><circle cx="31.5" cy="39.7" r="0.51"/><circle cx="24.3" cy="36.9" r="0.65"/><circle cx="31.5" cy="36.9" r="0.60"/><circle cx="33.0" cy="37.3" r="0.48"/><circle cx="28.8" cy="31.4" r="0.33"/><circle cx="40.0" cy="36.0" r="0.55"/><circle cx="30.9" cy="36.0" r="0.43"/><circle cx="37.7" cy="37.2" r="0.67"/><circle cx="37.6" cy="40.4" r="0.54"/><circle cx="39.1" cy="36.2" r="0.48"/><circle cx="39.3" cy="37.7" r="0.30"/><circle cx="26.5" cy="35.8" r="0.56"/><circle cx="30.3" cy="34.3" r="0.41"/><circle cx="29.3" cy="32.8" r="0.63"/><circle cx="34.9" cy="40.2" r="0.67"/><circle cx="33.5" cy="36.7" r="0.49"/><circle cx="38.8" cy="38.2" r="0.38"/><circle cx="27.3" cy="37.5" r="0.41"/><circle cx="27.1" cy="33.3" r="0.62"/><circle cx="25.7" cy="34.8" r="0.38"/><circle cx="37.6" cy="40.8" r="0.56"/><circle cx="30.7" cy="40.4" r="0.49"/><circle cx="33.5" cy="35.0" r="0.68"/><circle cx="30.6" cy="37.3" r="0.55"/><circle cx="33.5" cy="36.8" r="0.57"/><circle cx="30.1" cy="32.5" r="0.57"/><circle cx="27.5" cy="32.8" r="0.63"/><circle cx="38.2" cy="36.2" r="0.39"/><circle cx="35.6" cy="39.7" r="0.34"/><circle cx="31.2" cy="34.5" r="0.47"/><circle cx="41.0" cy="35.4" r="0.64"/><circle cx="25.2" cy="38.2" r="0.41"/><circle cx="32.0" cy="36.9" r="0.56"/><circle cx="27.0" cy="31.9" r="0.33"/><circle cx="34.0" cy="37.2" r="0.61"/><circle cx="29.2" cy="37.5" r="0.49"/><circle cx="28.5" cy="37.9" r="0.61"/><circle cx="26.0" cy="35.0" r="0.58"/><circle cx="40.0" cy="38.8" r="0.44"/><circle cx="35.1" cy="37.5" r="0.36"/><circle cx="31.0" cy="38.4" r="0.42"/><circle cx="27.0" cy="41.2" r="0.54"/><circle cx="28.3" cy="38.2" r="0.53"/><circle cx="31.3" cy="34.8" r="0.63"/><circle cx="24.6" cy="37.0" r="0.38"/><circle cx="35.3" cy="37.0" r="0.66"/><circle cx="34.6" cy="37.7" r="0.64"/><circle cx="32.5" cy="40.6" r="0.42"/><circle cx="28.8" cy="30.1" r="0.65"/><circle cx="39.6" cy="41.9" r="0.69"/><circle cx="34.0" cy="32.5" r="0.68"/></g><g fill="#2a2ad0"><circle cx="40.3" cy="52.8" r="0.41"/><circle cx="44.2" cy="49.4" r="0.37"/><circle cx="43.7" cy="46.1" r="0.43"/><circle cx="45.1" cy="42.0" r="0.33"/><circle cx="43.9" cy="47.6" r="0.35"/><circle cx="44.0" cy="48.6" r="0.56"/><circle cx="44.9" cy="48.7" r="0.35"/><circle cx="46.5" cy="47.6" r="0.54"/><circle cx="43.8" cy="49.2" r="0.61"/><circle cx="41.0" cy="45.9" r="0.46"/><circle cx="47.4" cy="46.4" r="0.30"/><circle cx="45.2" cy="46.8" r="0.41"/><circle cx="45.2" cy="48.8" r="0.44"/><circle cx="38.6" cy="50.1" r="0.52"/><circle cx="41.0" cy="45.9" r="0.53"/><circle cx="45.9" cy="48.7" r="0.43"/><circle cx="42.3" cy="46.5" r="0.38"/><circle cx="48.7" cy="48.0" r="0.47"/><circle cx="44.8" cy="45.3" r="0.50"/><circle cx="43.3" cy="52.1" r="0.39"/><circle cx="39.7" cy="46.3" r="0.37"/><circle cx="43.1" cy="45.7" r="0.42"/><circle cx="41.8" cy="49.6" r="0.38"/><circle cx="42.3" cy="44.4" r="0.69"/><circle cx="42.0" cy="44.3" r="0.36"/><circle cx="43.0" cy="47.0" r="0.48"/><circle cx="46.4" cy="50.5" r="0.39"/><circle cx="44.6" cy="52.3" r="0.54"/><circle cx="44.2" cy="50.0" r="0.50"/><circle cx="44.0" cy="46.0" r="0.59"/><circle cx="46.0" cy="51.9" r="0.40"/><circle cx="42.8" cy="48.4" r="0.33"/><circle cx="41.7" cy="44.4" r="0.53"/><circle cx="40.1" cy="48.7" r="0.34"/><circle cx="43.9" cy="51.1" r="0.52"/><circle cx="45.1" cy="52.7" r="0.31"/><circle cx="38.2" cy="49.1" r="0.48"/><circle cx="40.8" cy="46.3" r="0.34"/><circle cx="44.3" cy="46.7" r="0.53"/><circle cx="42.1" cy="45.6" r="0.61"/><circle cx="45.6" cy="47.8" r="0.60"/><circle cx="39.9" cy="48.3" r="0.32"/><circle cx="44.8" cy="47.5" r="0.51"/></g><g fill="#2a2ad0"><circle cx="51.8" cy="5.1" r="0.46"/><circle cx="51.3" cy="1.2" r="0.31"/><circle cx="48.3" cy="6.4" r="0.52"/><circle cx="51.3" cy="7.8" r="0.64"/><circle cx="46.7" cy="4.3" r="0.46"/><circle cx="47.3" cy="4.1" r="0.61"/><circle cx="51.0" cy="10.3" r="0.68"/><circle cx="49.9" cy="5.8" r="0.61"/><circle cx="55.9" cy="10.6" r="0.30"/><circle cx="51.6" cy="11.0" r="0.50"/><circle cx="52.9" cy="9.7" r="0.60"/><circle cx="49.3" cy="5.3" r="0.69"/><circle cx="52.0" cy="11.3" r="0.61"/><circle cx="49.0" cy="11.4" r="0.68"/><circle cx="56.2" cy="12.6" r="0.58"/><circle cx="56.0" cy="4.6" r="0.44"/><circle cx="53.4" cy="6.6" r="0.58"/><circle cx="55.1" cy="12.6" r="0.36"/><circle cx="49.6" cy="1.1" r="0.35"/><circle cx="55.7" cy="8.9" r="0.36"/><circle cx="58.5" cy="9.8" r="0.54"/><circle cx="59.9" cy="2.3" r="0.49"/><circle cx="56.7" cy="11.6" r="0.47"/><circle cx="53.6" cy="8.9" r="0.65"/><circle cx="53.0" cy="7.3" r="0.36"/><circle cx="43.2" cy="5.4" r="0.63"/><circle cx="47.3" cy="4.6" r="0.56"/><circle cx="49.8" cy="8.2" r="0.55"/><circle cx="55.6" cy="11.4" r="0.59"/><circle cx="54.3" cy="10.3" r="0.67"/><circle cx="46.7" cy="2.0" r="0.68"/><circle cx="54.0" cy="1.8" r="0.31"/><circle cx="52.4" cy="8.9" r="0.65"/><circle cx="48.8" cy="2.4" r="0.69"/><circle cx="52.7" cy="12.2" r="0.34"/><circle cx="56.2" cy="9.3" r="0.42"/><circle cx="52.6" cy="9.4" r="0.69"/><circle cx="52.1" cy="6.4" r="0.47"/><circle cx="58.0" cy="9.4" r="0.47"/><circle cx="49.0" cy="9.1" r="0.47"/><circle cx="45.8" cy="4.1" r="0.57"/><circle cx="54.3" cy="10.7" r="0.67"/><circle cx="56.5" cy="6.4" r="0.37"/><circle cx="50.0" cy="7.6" r="0.39"/><circle cx="51.3" cy="12.1" r="0.50"/><circle cx="57.8" cy="9.7" r="0.32"/><circle cx="50.8" cy="11.3" r="0.40"/><circle cx="54.3" cy="6.7" r="0.45"/><circle cx="57.1" cy="13.2" r="0.44"/><circle cx="47.7" cy="3.6" r="0.47"/><circle cx="53.8" cy="11.9" r="0.30"/><circle cx="46.8" cy="10.0" r="0.56"/><circle cx="56.6" cy="8.7" r="0.53"/><circle cx="57.4" cy="12.8" r="0.51"/><circle cx="51.1" cy="4.4" r="0.66"/><circle cx="47.3" cy="4.4" r="0.47"/><circle cx="55.2" cy="7.9" r="0.67"/><circle cx="51.6" cy="3.8" r="0.58"/><circle cx="55.3" cy="13.5" r="0.58"/><circle cx="46.5" cy="4.7" r="0.39"/><circle cx="48.7" cy="10.5" r="0.30"/><circle cx="50.4" cy="0.4" r="0.51"/><circle cx="45.3" cy="5.3" r="0.50"/><circle cx="54.1" cy="13.8" r="0.32"/><circle cx="55.9" cy="14.6" r="0.50"/><circle cx="48.3" cy="2.5" r="0.47"/><circle cx="54.3" cy="10.1" r="0.45"/><circle cx="47.8" cy="5.1" r="0.39"/><circle cx="47.3" cy="9.3" r="0.63"/><circle cx="53.6" cy="11.6" r="0.65"/><circle cx="57.4" cy="12.7" r="0.51"/><circle cx="48.8" cy="0.2" r="0.44"/></g><g fill="#2a2ad0"><circle cx="1.7" cy="47.8" r="0.65"/><circle cx="2.1" cy="48.0" r="0.56"/><circle cx="3.7" cy="48.5" r="0.57"/><circle cx="-1.4" cy="46.8" r="0.58"/><circle cx="0.8" cy="48.6" r="0.56"/><circle cx="3.9" cy="46.8" r="0.67"/><circle cx="-0.4" cy="46.4" r="0.57"/><circle cx="1.4" cy="50.7" r="0.59"/><circle cx="1.1" cy="48.0" r="0.40"/><circle cx="3.3" cy="49.7" r="0.59"/><circle cx="2.3" cy="47.9" r="0.45"/><circle cx="0.7" cy="46.0" r="0.40"/><circle cx="-0.4" cy="48.4" r="0.36"/><circle cx="-1.4" cy="45.8" r="0.50"/><circle cx="0.4" cy="46.6" r="0.56"/><circle cx="0.6" cy="50.4" r="0.69"/><circle cx="1.9" cy="45.7" r="0.40"/><circle cx="1.1" cy="46.2" r="0.44"/><circle cx="2.7" cy="46.6" r="0.65"/></g><g fill="#2a2ad0"><circle cx="18.8" cy="59.9" r="0.32"/><circle cx="20.5" cy="57.9" r="0.36"/><circle cx="17.1" cy="58.9" r="0.51"/><circle cx="22.2" cy="54.8" r="0.35"/><circle cx="18.0" cy="57.1" r="0.61"/><circle cx="18.2" cy="57.8" r="0.49"/><circle cx="17.6" cy="57.5" r="0.50"/><circle cx="18.6" cy="58.7" r="0.52"/><circle cx="20.4" cy="59.1" r="0.34"/><circle cx="20.4" cy="59.8" r="0.62"/><circle cx="22.0" cy="60.1" r="0.68"/><circle cx="21.7" cy="57.2" r="0.56"/><circle cx="17.4" cy="58.1" r="0.66"/><circle cx="22.2" cy="59.1" r="0.63"/></g><g fill="#2a2ad0"><circle cx="26.5" cy="82.3" r="0.47"/><circle cx="43.6" cy="83.5" r="0.42"/><circle cx="36.0" cy="80.7" r="0.43"/><circle cx="45.6" cy="83.0" r="0.49"/><circle cx="57.1" cy="85.7" r="0.53"/><circle cx="33.7" cy="78.7" r="0.60"/><circle cx="54.4" cy="83.5" r="0.48"/><circle cx="35.3" cy="83.7" r="0.44"/><circle cx="36.5" cy="82.0" r="0.51"/><circle cx="63.6" cy="82.6" r="0.34"/><circle cx="53.1" cy="81.4" r="0.40"/><circle cx="49.0" cy="78.2" r="0.33"/><circle cx="26.0" cy="81.1" r="0.35"/><circle cx="57.4" cy="83.5" r="0.54"/><circle cx="51.1" cy="78.9" r="0.55"/><circle cx="39.0" cy="82.6" r="0.70"/><circle cx="45.3" cy="83.3" r="0.65"/><circle cx="55.0" cy="86.3" r="0.50"/><circle cx="49.4" cy="82.9" r="0.33"/><circle cx="51.7" cy="85.4" r="0.50"/><circle cx="59.5" cy="82.6" r="0.58"/><circle cx="33.6" cy="79.9" r="0.47"/><circle cx="54.7" cy="83.5" r="0.34"/><circle cx="57.4" cy="84.3" r="0.55"/><circle cx="21.5" cy="84.3" r="0.47"/><circle cx="22.7" cy="81.2" r="0.59"/><circle cx="33.9" cy="89.6" r="0.41"/><circle cx="30.9" cy="89.2" r="0.46"/><circle cx="44.2" cy="85.4" r="0.58"/><circle cx="56.0" cy="84.4" r="0.41"/><circle cx="37.5" cy="77.9" r="0.58"/><circle cx="22.0" cy="81.8" r="0.59"/><circle cx="29.7" cy="83.6" r="0.41"/><circle cx="34.9" cy="83.5" r="0.30"/><circle cx="60.4" cy="83.8" r="0.43"/><circle cx="46.1" cy="82.3" r="0.41"/><circle cx="65.2" cy="79.8" r="0.35"/><circle cx="47.0" cy="82.5" r="0.53"/><circle cx="56.9" cy="81.4" r="0.69"/><circle cx="25.2" cy="83.3" r="0.38"/><circle cx="48.2" cy="86.2" r="0.34"/><circle cx="34.0" cy="84.9" r="0.61"/><circle cx="49.2" cy="86.7" r="0.40"/><circle cx="25.6" cy="82.0" r="0.41"/><circle cx="42.4" cy="82.7" r="0.33"/><circle cx="20.5" cy="80.5" r="0.55"/><circle cx="63.6" cy="84.5" r="0.42"/><circle cx="46.7" cy="78.4" r="0.39"/><circle cx="61.1" cy="83.5" r="0.67"/><circle cx="64.8" cy="83.2" r="0.45"/><circle cx="62.3" cy="81.7" r="0.43"/><circle cx="40.2" cy="81.6" r="0.49"/><circle cx="53.6" cy="83.6" r="0.30"/><circle cx="35.6" cy="84.0" r="0.31"/><circle cx="64.6" cy="78.9" r="0.54"/><circle cx="61.3" cy="84.1" r="0.53"/><circle cx="33.3" cy="80.7" r="0.54"/><circle cx="34.0" cy="82.7" r="0.52"/><circle cx="27.4" cy="81.3" r="0.49"/><circle cx="27.8" cy="85.2" r="0.57"/><circle cx="62.6" cy="80.6" r="0.53"/><circle cx="31.4" cy="81.1" r="0.46"/><circle cx="44.7" cy="85.6" r="0.46"/><circle cx="25.1" cy="81.5" r="0.35"/><circle cx="52.3" cy="82.6" r="0.45"/><circle cx="53.9" cy="82.9" r="0.32"/><circle cx="24.2" cy="80.0" r="0.43"/><circle cx="21.8" cy="81.1" r="0.64"/><circle cx="22.2" cy="82.5" r="0.34"/><circle cx="21.1" cy="81.1" r="0.67"/><circle cx="58.7" cy="82.1" r="0.44"/><circle cx="27.8" cy="82.4" r="0.42"/><circle cx="31.3" cy="85.0" r="0.53"/><circle cx="28.5" cy="83.3" r="0.48"/><circle cx="43.7" cy="85.1" r="0.70"/><circle cx="22.0" cy="79.0" r="0.36"/><circle cx="43.4" cy="79.9" r="0.52"/><circle cx="24.6" cy="77.9" r="0.44"/><circle cx="52.4" cy="84.6" r="0.52"/><circle cx="22.9" cy="83.9" r="0.52"/><circle cx="26.6" cy="85.1" r="0.66"/><circle cx="37.0" cy="81.2" r="0.62"/><circle cx="35.9" cy="79.4" r="0.31"/><circle cx="21.2" cy="83.4" r="0.31"/><circle cx="48.3" cy="85.9" r="0.57"/><circle cx="56.3" cy="85.9" r="0.68"/><circle cx="57.0" cy="83.4" r="0.55"/><circle cx="56.5" cy="84.3" r="0.62"/><circle cx="23.7" cy="80.6" r="0.63"/><circle cx="53.8" cy="81.2" r="0.62"/><circle cx="28.5" cy="82.8" r="0.38"/><circle cx="29.9" cy="80.2" r="0.30"/><circle cx="22.9" cy="80.8" r="0.45"/><circle cx="24.4" cy="82.0" r="0.33"/><circle cx="56.7" cy="83.3" r="0.41"/><circle cx="54.3" cy="83.3" r="0.52"/><circle cx="24.1" cy="82.2" r="0.39"/><circle cx="61.7" cy="84.8" r="0.37"/><circle cx="38.8" cy="81.4" r="0.57"/><circle cx="58.8" cy="79.7" r="0.34"/><circle cx="34.8" cy="79.1" r="0.50"/><circle cx="46.5" cy="87.1" r="0.40"/><circle cx="23.7" cy="80.1" r="0.63"/><circle cx="47.6" cy="82.1" r="0.44"/><circle cx="61.8" cy="78.0" r="0.67"/><circle cx="28.9" cy="83.5" r="0.41"/><circle cx="21.2" cy="82.5" r="0.33"/><circle cx="30.4" cy="87.7" r="0.52"/><circle cx="46.6" cy="80.6" r="0.35"/><circle cx="50.7" cy="86.1" r="0.36"/><circle cx="59.3" cy="86.9" r="0.49"/><circle cx="46.1" cy="84.1" r="0.40"/><circle cx="50.2" cy="83.4" r="0.68"/><circle cx="23.4" cy="83.3" r="0.40"/><circle cx="24.5" cy="80.0" r="0.51"/><circle cx="29.0" cy="83.3" r="0.55"/><circle cx="52.1" cy="85.9" r="0.36"/><circle cx="24.5" cy="86.6" r="0.39"/><circle cx="35.9" cy="81.4" r="0.60"/><circle cx="25.7" cy="79.4" r="0.36"/><circle cx="37.3" cy="86.5" r="0.30"/><circle cx="34.5" cy="80.1" r="0.65"/><circle cx="43.8" cy="88.8" r="0.48"/><circle cx="47.7" cy="84.1" r="0.30"/><circle cx="34.7" cy="83.9" r="0.45"/><circle cx="34.7" cy="83.4" r="0.33"/><circle cx="29.4" cy="86.1" r="0.52"/><circle cx="52.7" cy="83.7" r="0.36"/><circle cx="63.8" cy="81.8" r="0.41"/><circle cx="57.7" cy="84.3" r="0.50"/><circle cx="66.9" cy="82.4" r="0.52"/><circle cx="38.3" cy="80.1" r="0.41"/><circle cx="41.8" cy="82.4" r="0.51"/><circle cx="29.2" cy="80.9" r="0.52"/><circle cx="55.2" cy="81.7" r="0.48"/><circle cx="46.5" cy="84.9" r="0.55"/><circle cx="33.5" cy="85.7" r="0.33"/><circle cx="40.3" cy="84.0" r="0.36"/><circle cx="56.9" cy="85.1" r="0.46"/><circle cx="55.4" cy="83.2" r="0.52"/><circle cx="61.8" cy="81.6" r="0.65"/><circle cx="59.0" cy="83.4" r="0.61"/><circle cx="32.0" cy="79.5" r="0.40"/><circle cx="54.7" cy="83.5" r="0.33"/><circle cx="56.9" cy="86.4" r="0.58"/><circle cx="33.0" cy="78.1" r="0.56"/><circle cx="63.6" cy="79.3" r="0.66"/><circle cx="50.8" cy="84.0" r="0.58"/><circle cx="35.2" cy="82.2" r="0.57"/><circle cx="43.4" cy="78.8" r="0.56"/><circle cx="53.9" cy="88.8" r="0.39"/><circle cx="66.4" cy="87.4" r="0.39"/><circle cx="58.9" cy="80.6" r="0.66"/><circle cx="27.5" cy="84.2" r="0.48"/><circle cx="49.9" cy="83.5" r="0.34"/><circle cx="27.5" cy="82.7" r="0.68"/><circle cx="63.2" cy="85.2" r="0.33"/><circle cx="66.0" cy="81.9" r="0.42"/><circle cx="39.0" cy="81.3" r="0.69"/><circle cx="47.5" cy="81.7" r="0.65"/><circle cx="37.2" cy="82.2" r="0.43"/><circle cx="59.5" cy="84.0" r="0.67"/><circle cx="38.4" cy="85.0" r="0.65"/><circle cx="29.2" cy="80.5" r="0.49"/><circle cx="50.5" cy="81.5" r="0.70"/><circle cx="40.5" cy="83.2" r="0.58"/><circle cx="35.4" cy="82.1" r="0.42"/><circle cx="37.3" cy="81.6" r="0.56"/><circle cx="56.7" cy="86.1" r="0.53"/><circle cx="61.9" cy="85.1" r="0.52"/><circle cx="57.2" cy="82.8" r="0.52"/><circle cx="63.4" cy="87.5" r="0.65"/><circle cx="36.6" cy="82.4" r="0.38"/><circle cx="38.5" cy="80.5" r="0.43"/><circle cx="43.0" cy="79.3" r="0.62"/><circle cx="29.2" cy="81.4" r="0.63"/><circle cx="30.1" cy="84.5" r="0.57"/><circle cx="34.7" cy="79.2" r="0.35"/><circle cx="32.0" cy="80.2" r="0.44"/><circle cx="61.3" cy="82.2" r="0.58"/><circle cx="23.4" cy="87.3" r="0.32"/><circle cx="43.6" cy="79.1" r="0.37"/><circle cx="37.7" cy="87.5" r="0.54"/><circle cx="58.9" cy="83.6" r="0.70"/><circle cx="49.9" cy="85.4" r="0.61"/><circle cx="57.7" cy="83.1" r="0.55"/><circle cx="65.9" cy="85.3" r="0.50"/><circle cx="36.1" cy="78.8" r="0.60"/><circle cx="30.3" cy="78.9" r="0.32"/><circle cx="54.8" cy="84.5" r="0.31"/><circle cx="26.4" cy="80.4" r="0.60"/><circle cx="40.9" cy="79.1" r="0.51"/><circle cx="33.9" cy="84.3" r="0.32"/><circle cx="65.7" cy="82.0" r="0.32"/><circle cx="61.8" cy="82.9" r="0.45"/><circle cx="25.2" cy="80.7" r="0.37"/><circle cx="50.2" cy="84.7" r="0.48"/><circle cx="33.9" cy="78.0" r="0.68"/><circle cx="50.9" cy="82.9" r="0.67"/><circle cx="54.2" cy="84.9" r="0.54"/><circle cx="38.6" cy="83.6" r="0.50"/><circle cx="28.2" cy="80.6" r="0.41"/><circle cx="40.2" cy="80.6" r="0.46"/><circle cx="24.1" cy="81.6" r="0.55"/></g><g fill="#2a2ad0"><circle cx="25.2" cy="113.2" r="0.52"/><circle cx="23.4" cy="113.2" r="0.39"/><circle cx="22.1" cy="109.7" r="0.67"/><circle cx="22.2" cy="116.0" r="0.41"/><circle cx="23.8" cy="114.1" r="0.32"/><circle cx="28.4" cy="116.7" r="0.62"/><circle cx="24.5" cy="114.4" r="0.36"/><circle cx="25.4" cy="114.7" r="0.44"/><circle cx="25.8" cy="114.1" r="0.38"/><circle cx="26.8" cy="111.7" r="0.68"/><circle cx="23.8" cy="113.2" r="0.50"/><circle cx="23.4" cy="110.9" r="0.46"/><circle cx="23.6" cy="113.2" r="0.68"/><circle cx="24.8" cy="114.5" r="0.54"/><circle cx="23.1" cy="113.2" r="0.65"/><circle cx="24.3" cy="108.9" r="0.45"/><circle cx="28.7" cy="116.5" r="0.48"/><circle cx="24.8" cy="117.1" r="0.57"/><circle cx="22.7" cy="111.0" r="0.44"/></g><g fill="#2a2ad0"><circle cx="100.2" cy="62.3" r="0.41"/><circle cx="100.6" cy="63.6" r="0.32"/><circle cx="98.1" cy="70.0" r="0.54"/><circle cx="91.6" cy="78.1" r="0.40"/><circle cx="99.3" cy="63.8" r="0.47"/><circle cx="101.9" cy="65.9" r="0.48"/><circle cx="94.4" cy="73.9" r="0.56"/><circle cx="89.6" cy="75.7" r="0.49"/><circle cx="96.3" cy="67.5" r="0.36"/><circle cx="97.4" cy="67.8" r="0.32"/><circle cx="98.8" cy="66.4" r="0.67"/><circle cx="100.5" cy="65.6" r="0.53"/><circle cx="102.7" cy="62.8" r="0.53"/><circle cx="97.2" cy="75.7" r="0.50"/><circle cx="96.4" cy="72.5" r="0.62"/><circle cx="101.2" cy="62.5" r="0.61"/><circle cx="93.8" cy="78.5" r="0.69"/><circle cx="99.5" cy="64.9" r="0.36"/><circle cx="101.3" cy="64.2" r="0.63"/><circle cx="89.2" cy="75.4" r="0.32"/><circle cx="91.1" cy="76.8" r="0.51"/><circle cx="97.3" cy="65.8" r="0.42"/><circle cx="94.7" cy="70.8" r="0.33"/><circle cx="90.6" cy="75.4" r="0.60"/><circle cx="95.7" cy="67.2" r="0.37"/><circle cx="99.4" cy="63.9" r="0.59"/><circle cx="97.4" cy="72.9" r="0.39"/><circle cx="94.7" cy="70.9" r="0.41"/><circle cx="87.9" cy="78.5" r="0.45"/><circle cx="100.1" cy="63.7" r="0.46"/><circle cx="98.7" cy="65.7" r="0.31"/><circle cx="96.4" cy="66.8" r="0.47"/><circle cx="102.2" cy="63.9" r="0.61"/></g><g fill="#2a2ad0"><circle cx="86.2" cy="98.5" r="0.49"/><circle cx="80.4" cy="95.4" r="0.53"/><circle cx="77.6" cy="99.0" r="0.63"/><circle cx="81.1" cy="96.7" r="0.64"/><circle cx="79.8" cy="100.6" r="0.68"/><circle cx="82.1" cy="99.3" r="0.58"/><circle cx="79.7" cy="97.4" r="0.55"/><circle cx="85.8" cy="102.1" r="0.35"/><circle cx="78.7" cy="98.1" r="0.68"/><circle cx="81.2" cy="102.7" r="0.46"/><circle cx="82.2" cy="99.7" r="0.63"/><circle cx="84.7" cy="98.9" r="0.45"/><circle cx="79.9" cy="97.2" r="0.55"/><circle cx="81.2" cy="99.3" r="0.34"/><circle cx="81.4" cy="98.0" r="0.62"/><circle cx="74.7" cy="97.5" r="0.36"/><circle cx="78.4" cy="96.6" r="0.55"/><circle cx="75.9" cy="96.4" r="0.46"/><circle cx="78.2" cy="99.6" r="0.41"/><circle cx="78.8" cy="96.4" r="0.49"/><circle cx="83.0" cy="96.4" r="0.56"/><circle cx="80.4" cy="99.6" r="0.69"/><circle cx="81.1" cy="96.7" r="0.36"/><circle cx="83.5" cy="102.1" r="0.50"/><circle cx="76.0" cy="99.9" r="0.41"/><circle cx="78.6" cy="94.4" r="0.41"/><circle cx="84.8" cy="102.5" r="0.64"/><circle cx="80.6" cy="95.9" r="0.48"/><circle cx="84.5" cy="100.5" r="0.58"/><circle cx="83.2" cy="98.3" r="0.60"/><circle cx="77.3" cy="97.0" r="0.30"/><circle cx="86.0" cy="99.0" r="0.49"/><circle cx="76.9" cy="97.6" r="0.51"/></g><g fill="#2a2ad0"><circle cx="88.4" cy="112.0" r="0.40"/><circle cx="79.6" cy="111.8" r="0.41"/><circle cx="79.5" cy="110.8" r="0.53"/><circle cx="85.2" cy="110.0" r="0.38"/><circle cx="76.1" cy="110.5" r="0.33"/><circle cx="83.0" cy="110.0" r="0.64"/><circle cx="87.0" cy="112.7" r="0.42"/><circle cx="87.1" cy="112.2" r="0.37"/><circle cx="82.2" cy="107.4" r="0.64"/><circle cx="83.5" cy="110.2" r="0.57"/><circle cx="80.7" cy="108.9" r="0.46"/><circle cx="86.4" cy="110.6" r="0.30"/><circle cx="88.9" cy="112.2" r="0.31"/><circle cx="79.5" cy="109.9" r="0.49"/><circle cx="82.0" cy="109.2" r="0.54"/><circle cx="87.1" cy="113.4" r="0.58"/><circle cx="78.9" cy="111.4" r="0.61"/><circle cx="86.7" cy="113.9" r="0.54"/><circle cx="79.3" cy="111.4" r="0.49"/><circle cx="86.3" cy="112.4" r="0.50"/><circle cx="78.1" cy="109.1" r="0.46"/><circle cx="77.8" cy="110.4" r="0.68"/><circle cx="88.6" cy="113.0" r="0.55"/><circle cx="81.8" cy="111.7" r="0.53"/><circle cx="85.8" cy="109.4" r="0.39"/><circle cx="83.4" cy="111.2" r="0.69"/><circle cx="88.0" cy="111.7" r="0.53"/><circle cx="83.4" cy="110.3" r="0.32"/><circle cx="79.4" cy="109.0" r="0.68"/><circle cx="82.0" cy="108.8" r="0.47"/><circle cx="82.9" cy="110.3" r="0.45"/><circle cx="79.2" cy="111.1" r="0.57"/><circle cx="79.1" cy="107.5" r="0.48"/><circle cx="80.4" cy="109.9" r="0.67"/><circle cx="82.4" cy="110.1" r="0.39"/><circle cx="83.5" cy="111.5" r="0.57"/><circle cx="79.2" cy="109.9" r="0.56"/><circle cx="79.2" cy="110.9" r="0.45"/></g><g fill="#2a2ad0"><circle cx="136.7" cy="89.3" r="0.44"/><circle cx="135.5" cy="87.7" r="0.66"/><circle cx="134.9" cy="82.2" r="0.38"/><circle cx="140.8" cy="82.4" r="0.40"/><circle cx="142.5" cy="89.8" r="0.38"/><circle cx="139.4" cy="81.6" r="0.49"/><circle cx="136.5" cy="83.0" r="0.48"/><circle cx="144.2" cy="87.1" r="0.48"/><circle cx="137.0" cy="86.8" r="0.64"/><circle cx="137.9" cy="82.0" r="0.64"/><circle cx="146.3" cy="94.1" r="0.63"/><circle cx="141.4" cy="94.8" r="0.54"/><circle cx="142.2" cy="88.0" r="0.32"/><circle cx="138.4" cy="80.9" r="0.31"/><circle cx="137.6" cy="79.8" r="0.45"/><circle cx="136.5" cy="78.7" r="0.36"/><circle cx="137.0" cy="83.6" r="0.45"/><circle cx="146.5" cy="92.3" r="0.55"/><circle cx="138.3" cy="89.6" r="0.37"/><circle cx="144.9" cy="93.1" r="0.49"/><circle cx="142.2" cy="86.5" r="0.52"/><circle cx="139.7" cy="83.2" r="0.34"/><circle cx="134.5" cy="89.5" r="0.45"/><circle cx="138.4" cy="80.5" r="0.59"/><circle cx="137.9" cy="83.5" r="0.30"/><circle cx="136.3" cy="82.4" r="0.31"/><circle cx="143.6" cy="91.1" r="0.43"/><circle cx="145.4" cy="89.3" r="0.49"/><circle cx="143.3" cy="89.7" r="0.62"/><circle cx="143.9" cy="88.5" r="0.48"/><circle cx="142.6" cy="86.0" r="0.57"/><circle cx="138.6" cy="82.3" r="0.59"/><circle cx="149.4" cy="92.7" r="0.38"/><circle cx="139.0" cy="85.7" r="0.31"/><circle cx="143.3" cy="90.4" r="0.49"/><circle cx="142.3" cy="92.4" r="0.52"/><circle cx="142.7" cy="86.1" r="0.69"/><circle cx="136.5" cy="83.9" r="0.41"/><circle cx="141.0" cy="82.9" r="0.67"/><circle cx="139.7" cy="80.5" r="0.46"/><circle cx="139.6" cy="87.0" r="0.33"/><circle cx="138.2" cy="83.9" r="0.53"/><circle cx="142.7" cy="82.8" r="0.61"/><circle cx="140.7" cy="89.4" r="0.38"/><circle cx="142.4" cy="84.6" r="0.37"/><circle cx="141.9" cy="95.2" r="0.67"/><circle cx="146.1" cy="93.6" r="0.46"/><circle cx="144.7" cy="92.6" r="0.35"/><circle cx="140.3" cy="88.4" r="0.47"/><circle cx="143.7" cy="94.8" r="0.34"/><circle cx="145.5" cy="88.4" r="0.41"/><circle cx="147.3" cy="91.4" r="0.35"/><circle cx="147.8" cy="91.9" r="0.53"/><circle cx="145.0" cy="95.0" r="0.56"/><circle cx="142.0" cy="84.0" r="0.44"/><circle cx="135.2" cy="82.3" r="0.40"/><circle cx="142.5" cy="83.7" r="0.62"/><circle cx="135.3" cy="83.0" r="0.38"/><circle cx="142.6" cy="82.5" r="0.42"/><circle cx="142.9" cy="94.6" r="0.34"/><circle cx="133.6" cy="84.2" r="0.43"/><circle cx="135.5" cy="82.1" r="0.45"/><circle cx="141.2" cy="92.0" r="0.49"/><circle cx="143.3" cy="88.7" r="0.38"/><circle cx="139.7" cy="85.2" r="0.50"/><circle cx="136.5" cy="81.1" r="0.53"/><circle cx="138.7" cy="94.8" r="0.64"/><circle cx="143.0" cy="91.8" r="0.66"/><circle cx="136.6" cy="85.2" r="0.62"/><circle cx="142.0" cy="92.4" r="0.57"/><circle cx="139.9" cy="91.3" r="0.69"/><circle cx="138.9" cy="86.4" r="0.40"/></g><g fill="#2a2ad0"><circle cx="137.5" cy="116.0" r="0.59"/><circle cx="131.5" cy="111.3" r="0.41"/><circle cx="133.6" cy="113.5" r="0.32"/><circle cx="138.1" cy="117.0" r="0.45"/><circle cx="131.9" cy="111.5" r="0.43"/><circle cx="138.9" cy="118.7" r="0.62"/><circle cx="137.7" cy="120.4" r="0.34"/><circle cx="133.0" cy="113.8" r="0.58"/><circle cx="138.6" cy="115.6" r="0.62"/><circle cx="130.0" cy="111.2" r="0.61"/><circle cx="137.9" cy="112.7" r="0.35"/><circle cx="136.9" cy="110.6" r="0.44"/><circle cx="131.1" cy="111.4" r="0.48"/><circle cx="136.8" cy="115.4" r="0.56"/><circle cx="138.2" cy="116.0" r="0.35"/><circle cx="136.1" cy="116.7" r="0.69"/><circle cx="138.2" cy="117.2" r="0.65"/><circle cx="137.2" cy="115.5" r="0.56"/><circle cx="137.7" cy="119.4" r="0.50"/><circle cx="133.1" cy="111.2" r="0.60"/><circle cx="139.5" cy="117.7" r="0.58"/><circle cx="132.6" cy="119.0" r="0.47"/><circle cx="136.3" cy="111.8" r="0.46"/><circle cx="140.1" cy="116.7" r="0.39"/><circle cx="137.6" cy="111.0" r="0.38"/><circle cx="137.7" cy="115.4" r="0.31"/><circle cx="132.3" cy="111.4" r="0.34"/><circle cx="132.8" cy="115.6" r="0.54"/><circle cx="138.7" cy="118.8" r="0.47"/><circle cx="136.3" cy="115.6" r="0.47"/><circle cx="139.3" cy="115.8" r="0.68"/><circle cx="136.1" cy="115.8" r="0.33"/><circle cx="140.4" cy="116.6" r="0.59"/><circle cx="132.6" cy="110.1" r="0.62"/><circle cx="137.5" cy="117.1" r="0.60"/><circle cx="135.0" cy="118.4" r="0.44"/><circle cx="139.7" cy="113.6" r="0.67"/><circle cx="132.4" cy="115.2" r="0.55"/><circle cx="132.3" cy="113.1" r="0.61"/><circle cx="130.5" cy="116.5" r="0.39"/><circle cx="130.6" cy="114.6" r="0.57"/><circle cx="136.4" cy="116.7" r="0.46"/><circle cx="135.4" cy="111.9" r="0.65"/></g><g fill="#2a2ad0"><circle cx="139.7" cy="63.2" r="0.41"/><circle cx="132.3" cy="63.3" r="0.50"/><circle cx="138.9" cy="63.3" r="0.46"/><circle cx="131.7" cy="65.8" r="0.38"/><circle cx="136.4" cy="61.8" r="0.58"/><circle cx="135.3" cy="61.1" r="0.42"/><circle cx="130.4" cy="64.5" r="0.70"/><circle cx="138.8" cy="64.5" r="0.39"/><circle cx="130.8" cy="61.7" r="0.53"/><circle cx="137.9" cy="61.9" r="0.51"/><circle cx="127.8" cy="61.6" r="0.66"/><circle cx="141.2" cy="63.5" r="0.46"/><circle cx="132.1" cy="60.1" r="0.41"/><circle cx="137.6" cy="61.2" r="0.45"/><circle cx="140.2" cy="61.8" r="0.51"/><circle cx="136.5" cy="61.6" r="0.51"/><circle cx="140.7" cy="61.9" r="0.67"/><circle cx="125.5" cy="59.7" r="0.48"/><circle cx="139.3" cy="63.5" r="0.66"/><circle cx="129.8" cy="61.9" r="0.42"/><circle cx="139.3" cy="61.9" r="0.67"/><circle cx="127.9" cy="60.6" r="0.30"/><circle cx="130.6" cy="61.5" r="0.53"/><circle cx="136.3" cy="64.1" r="0.53"/><circle cx="142.0" cy="63.6" r="0.44"/><circle cx="144.2" cy="65.5" r="0.38"/><circle cx="130.6" cy="61.9" r="0.62"/><circle cx="143.5" cy="63.7" r="0.49"/><circle cx="129.5" cy="64.1" r="0.66"/><circle cx="128.6" cy="62.4" r="0.38"/><circle cx="130.5" cy="61.7" r="0.60"/><circle cx="135.0" cy="60.6" r="0.69"/><circle cx="134.3" cy="62.3" r="0.50"/><circle cx="133.1" cy="59.1" r="0.58"/><circle cx="143.2" cy="64.9" r="0.55"/><circle cx="134.7" cy="60.4" r="0.41"/><circle cx="140.0" cy="62.6" r="0.58"/><circle cx="135.1" cy="62.2" r="0.64"/></g><g fill="#2a2ad0"><circle cx="76.0" cy="110.2" r="0.63"/><circle cx="75.8" cy="109.8" r="0.61"/><circle cx="78.2" cy="107.5" r="0.33"/><circle cx="85.3" cy="111.4" r="0.55"/><circle cx="76.2" cy="110.0" r="0.62"/><circle cx="86.2" cy="112.3" r="0.34"/><circle cx="77.5" cy="110.6" r="0.60"/><circle cx="81.7" cy="109.8" r="0.58"/><circle cx="81.9" cy="113.6" r="0.62"/><circle cx="85.0" cy="113.4" r="0.58"/><circle cx="86.0" cy="110.2" r="0.42"/><circle cx="76.5" cy="109.2" r="0.69"/><circle cx="75.1" cy="112.0" r="0.62"/><circle cx="81.3" cy="110.9" r="0.45"/><circle cx="75.7" cy="106.7" r="0.63"/><circle cx="73.6" cy="108.4" r="0.50"/><circle cx="72.5" cy="110.7" r="0.32"/><circle cx="87.0" cy="110.1" r="0.37"/><circle cx="82.0" cy="110.0" r="0.56"/><circle cx="84.0" cy="110.9" r="0.36"/><circle cx="86.4" cy="110.5" r="0.37"/><circle cx="72.7" cy="108.5" r="0.68"/><circle cx="78.2" cy="109.7" r="0.54"/><circle cx="75.4" cy="109.3" r="0.45"/><circle cx="79.3" cy="110.0" r="0.52"/><circle cx="77.1" cy="111.6" r="0.69"/><circle cx="79.8" cy="109.5" r="0.45"/><circle cx="86.6" cy="110.3" r="0.70"/></g><g fill="#2a2ad0"><circle cx="106.3" cy="127.4" r="0.31"/><circle cx="100.9" cy="119.1" r="0.60"/><circle cx="103.7" cy="122.0" r="0.67"/><circle cx="100.5" cy="116.2" r="0.50"/><circle cx="105.1" cy="122.8" r="0.43"/><circle cx="103.2" cy="122.2" r="0.48"/><circle cx="106.9" cy="129.5" r="0.41"/><circle cx="100.5" cy="115.2" r="0.50"/><circle cx="106.1" cy="125.2" r="0.43"/><circle cx="101.6" cy="117.7" r="0.60"/><circle cx="107.8" cy="127.4" r="0.66"/><circle cx="106.3" cy="124.2" r="0.38"/><circle cx="109.3" cy="128.6" r="0.45"/><circle cx="106.6" cy="122.8" r="0.56"/><circle cx="103.9" cy="123.8" r="0.44"/><circle cx="99.8" cy="115.5" r="0.31"/><circle cx="104.5" cy="126.4" r="0.46"/><circle cx="108.8" cy="128.1" r="0.46"/><circle cx="101.4" cy="115.5" r="0.65"/></g><g fill="#2a2ad0"><circle cx="136.5" cy="116.1" r="0.51"/><circle cx="134.8" cy="119.5" r="0.57"/><circle cx="140.4" cy="120.6" r="0.61"/><circle cx="137.0" cy="120.2" r="0.69"/><circle cx="135.7" cy="121.5" r="0.44"/><circle cx="135.3" cy="117.1" r="0.46"/><circle cx="134.5" cy="113.1" r="0.69"/><circle cx="138.0" cy="116.3" r="0.63"/><circle cx="139.2" cy="121.9" r="0.38"/><circle cx="138.3" cy="122.3" r="0.35"/><circle cx="138.4" cy="122.4" r="0.44"/><circle cx="135.8" cy="119.7" r="0.61"/><circle cx="135.9" cy="117.1" r="0.52"/><circle cx="137.3" cy="112.9" r="0.42"/><circle cx="139.9" cy="120.5" r="0.65"/><circle cx="135.3" cy="118.6" r="0.67"/><circle cx="133.8" cy="112.5" r="0.33"/><circle cx="134.1" cy="114.1" r="0.55"/><circle cx="143.9" cy="120.7" r="0.30"/><circle cx="131.0" cy="115.9" r="0.43"/><circle cx="135.3" cy="115.7" r="0.60"/><circle cx="133.3" cy="116.5" r="0.30"/><circle cx="135.2" cy="119.9" r="0.61"/><circle cx="135.4" cy="120.7" r="0.46"/><circle cx="132.4" cy="113.2" r="0.54"/><circle cx="137.0" cy="124.4" r="0.51"/><circle cx="138.2" cy="121.6" r="0.31"/><circle cx="136.7" cy="120.1" r="0.65"/><circle cx="135.6" cy="119.5" r="0.36"/><circle cx="137.8" cy="118.3" r="0.66"/><circle cx="139.4" cy="123.7" r="0.59"/><circle cx="137.0" cy="120.4" r="0.67"/><circle cx="139.2" cy="117.3" r="0.48"/><circle cx="138.1" cy="125.2" r="0.40"/><circle cx="135.2" cy="122.8" r="0.64"/><circle cx="131.7" cy="115.7" r="0.44"/><circle cx="135.6" cy="123.7" r="0.37"/><circle cx="137.4" cy="122.5" r="0.51"/><circle cx="134.4" cy="119.4" r="0.47"/><circle cx="140.1" cy="120.3" r="0.57"/><circle cx="137.0" cy="122.8" r="0.62"/><circle cx="134.5" cy="117.4" r="0.33"/><circle cx="134.7" cy="117.5" r="0.43"/><circle cx="131.0" cy="114.5" r="0.64"/><circle cx="134.6" cy="123.7" r="0.39"/><circle cx="130.8" cy="119.7" r="0.52"/><circle cx="139.4" cy="119.1" r="0.36"/><circle cx="135.3" cy="119.7" r="0.54"/><circle cx="141.4" cy="115.8" r="0.33"/><circle cx="134.4" cy="122.5" r="0.44"/><circle cx="138.7" cy="119.4" r="0.33"/><circle cx="134.7" cy="121.7" r="0.34"/></g><g fill="#2a2ad0"><circle cx="20.1" cy="110.6" r="0.51"/><circle cx="20.4" cy="111.9" r="0.47"/><circle cx="24.0" cy="116.3" r="0.43"/><circle cx="22.2" cy="113.8" r="0.34"/><circle cx="24.3" cy="115.2" r="0.47"/><circle cx="20.4" cy="112.1" r="0.46"/><circle cx="23.2" cy="114.8" r="0.66"/><circle cx="23.6" cy="111.7" r="0.55"/><circle cx="23.5" cy="115.5" r="0.68"/><circle cx="23.7" cy="115.4" r="0.32"/><circle cx="19.3" cy="114.2" r="0.48"/><circle cx="20.9" cy="114.8" r="0.50"/><circle cx="23.1" cy="116.9" r="0.51"/><circle cx="24.7" cy="115.9" r="0.58"/></g><g fill="#2a2ad0"><circle cx="114.1" cy="141.9" r="0.67"/><circle cx="112.8" cy="143.5" r="0.38"/><circle cx="115.8" cy="143.2" r="0.30"/><circle cx="110.1" cy="137.0" r="0.31"/><circle cx="116.2" cy="139.0" r="0.39"/><circle cx="110.6" cy="138.4" r="0.34"/><circle cx="117.3" cy="143.3" r="0.32"/><circle cx="114.8" cy="142.6" r="0.57"/><circle cx="110.1" cy="136.1" r="0.42"/><circle cx="116.1" cy="141.6" r="0.57"/><circle cx="118.8" cy="141.7" r="0.42"/><circle cx="108.6" cy="136.3" r="0.37"/><circle cx="117.0" cy="143.4" r="0.58"/><circle cx="112.7" cy="141.5" r="0.42"/><circle cx="114.4" cy="143.7" r="0.60"/><circle cx="115.1" cy="140.0" r="0.45"/></g></g></svg></div>
<div class="bd" style="left:205px;top:14px"></div>
<div class="cb" style="left:357px;top:14px"></div>
<div class="mt" style="left:358px;top:156.2px"></div><div class="mt" style="left:363.8px;top:156.2px"></div>
<div class="mt" style="left:358px;top:151.8px"></div><div class="mt" style="left:363.8px;top:151.8px"></div>
<div class="mt" style="left:358px;top:148.6px"></div><div class="mt" style="left:363.8px;top:148.6px"></div>
<div class="mt" style="left:358px;top:146.2px"></div><div class="mt" style="left:363.8px;top:146.2px"></div>
<div class="mt" style="left:358px;top:144.2px"></div><div class="mt" style="left:363.8px;top:144.2px"></div>
<div class="mt" style="left:358px;top:142.6px"></div><div class="mt" style="left:363.8px;top:142.6px"></div>
<div class="mt" style="left:358px;top:141.1px"></div><div class="mt" style="left:363.8px;top:141.1px"></div>
<div class="mt" style="left:358px;top:139.8px"></div><div class="mt" style="left:363.8px;top:139.8px"></div>
<div class="mt" style="left:358px;top:131.2px"></div><div class="mt" style="left:363.8px;top:131.2px"></div>
<div class="mt" style="left:358px;top:126.8px"></div><div class="mt" style="left:363.8px;top:126.8px"></div>
<div class="mt" style="left:358px;top:123.6px"></div><div class="mt" style="left:363.8px;top:123.6px"></div>
<div class="mt" style="left:358px;top:121.2px"></div><div class="mt" style="left:363.8px;top:121.2px"></div>
<div class="mt" style="left:358px;top:119.2px"></div><div class="mt" style="left:363.8px;top:119.2px"></div>
<div class="mt" style="left:358px;top:117.6px"></div><div class="mt" style="left:363.8px;top:117.6px"></div>
<div class="mt" style="left:358px;top:116.1px"></div><div class="mt" style="left:363.8px;top:116.1px"></div>
<div class="mt" style="left:358px;top:114.8px"></div><div class="mt" style="left:363.8px;top:114.8px"></div>
<div class="mt" style="left:358px;top:106.2px"></div><div class="mt" style="left:363.8px;top:106.2px"></div>
<div class="mt" style="left:358px;top:101.8px"></div><div class="mt" style="left:363.8px;top:101.8px"></div>
<div class="mt" style="left:358px;top:98.6px"></div><div class="mt" style="left:363.8px;top:98.6px"></div>
<div class="mt" style="left:358px;top:96.2px"></div><div class="mt" style="left:363.8px;top:96.2px"></div>
<div class="mt" style="left:358px;top:94.2px"></div><div class="mt" style="left:363.8px;top:94.2px"></div>
<div class="mt" style="left:358px;top:92.6px"></div><div class="mt" style="left:363.8px;top:92.6px"></div>
<div class="mt" style="left:358px;top:91.1px"></div><div class="mt" style="left:363.8px;top:91.1px"></div>
<div class="mt" style="left:358px;top:89.8px"></div><div class="mt" style="left:363.8px;top:89.8px"></div>
<div class="mt" style="left:358px;top:81.2px"></div><div class="mt" style="left:363.8px;top:81.2px"></div>
<div class="mt" style="left:358px;top:76.8px"></div><div class="mt" style="left:363.8px;top:76.8px"></div>
<div class="mt" style="left:358px;top:73.6px"></div><div class="mt" style="left:363.8px;top:73.6px"></div>
<div class="mt" style="left:358px;top:71.2px"></div><div class="mt" style="left:363.8px;top:71.2px"></div>
<div class="mt" style="left:358px;top:69.2px"></div><div class="mt" style="left:363.8px;top:69.2px"></div>
<div class="mt" style="left:358px;top:67.6px"></div><div class="mt" style="left:363.8px;top:67.6px"></div>
<div class="mt" style="left:358px;top:66.1px"></div><div class="mt" style="left:363.8px;top:66.1px"></div>
<div class="mt" style="left:358px;top:64.8px"></div><div class="mt" style="left:363.8px;top:64.8px"></div>
<div class="mt" style="left:358px;top:56.2px"></div><div class="mt" style="left:363.8px;top:56.2px"></div>
<div class="mt" style="left:358px;top:51.8px"></div><div class="mt" style="left:363.8px;top:51.8px"></div>
<div class="mt" style="left:358px;top:48.6px"></div><div class="mt" style="left:363.8px;top:48.6px"></div>
<div class="mt" style="left:358px;top:46.2px"></div><div class="mt" style="left:363.8px;top:46.2px"></div>
<div class="mt" style="left:358px;top:44.2px"></div><div class="mt" style="left:363.8px;top:44.2px"></div>
<div class="mt" style="left:358px;top:42.6px"></div><div class="mt" style="left:363.8px;top:42.6px"></div>
<div class="mt" style="left:358px;top:41.1px"></div><div class="mt" style="left:363.8px;top:41.1px"></div>
<div class="mt" style="left:358px;top:39.8px"></div><div class="mt" style="left:363.8px;top:39.8px"></div>
<div class="mt" style="left:358px;top:31.2px"></div><div class="mt" style="left:363.8px;top:31.2px"></div>
<div class="mt" style="left:358px;top:26.8px"></div><div class="mt" style="left:363.8px;top:26.8px"></div>
<div class="mt" style="left:358px;top:23.6px"></div><div class="mt" style="left:363.8px;top:23.6px"></div>
<div class="mt" style="left:358px;top:21.2px"></div><div class="mt" style="left:363.8px;top:21.2px"></div>
<div class="mt" style="left:358px;top:19.2px"></div><div class="mt" style="left:363.8px;top:19.2px"></div>
<div class="mt" style="left:358px;top:17.6px"></div><div class="mt" style="left:363.8px;top:17.6px"></div>
<div class="mt" style="left:358px;top:16.1px"></div><div class="mt" style="left:363.8px;top:16.1px"></div>
<div class="mt" style="left:358px;top:14.8px"></div><div class="mt" style="left:363.8px;top:14.8px"></div>
<div class="Mt" style="left:358px;top:38.6px"></div><div class="Mt" style="left:362.6px;top:38.6px"></div>
<div class="Mt" style="left:358px;top:63.6px"></div><div class="Mt" style="left:362.6px;top:63.6px"></div>
<div class="Mt" style="left:358px;top:88.6px"></div><div class="Mt" style="left:362.6px;top:88.6px"></div>
<div class="Mt" style="left:358px;top:113.6px"></div><div class="Mt" style="left:362.6px;top:113.6px"></div>
<div class="Mt" style="left:358px;top:138.6px"></div><div class="Mt" style="left:362.6px;top:138.6px"></div>
<div class="tk" style="left:371px;top:11.4px">10<sup>3</sup></div>
<div class="tk" style="left:371px;top:36.4px">10<sup>2</sup></div>
<div class="tk" style="left:371px;top:61.4px">10<sup>1</sup></div>
<div class="tk" style="left:371px;top:86.4px">10<sup>0</sup></div>
<div class="tk" style="left:371px;top:111.4px">10<sup>&minus;1</sup></div>
<div class="tk" style="left:371px;top:136.4px">10<sup>&minus;2</sup></div>
<div class="tk" style="left:371px;top:161.4px">10<sup>&minus;3</sup></div>
<div class="al" style="left:387.5px;top:85.5px">A</div>
<div class="ttl" style="left:205px;top:1.6999999999999993px"><span><b>A3:</b> <i>&beta;</i><sub>0</sub> = 200, <i>&nu;<sub>S</sub></i> = 10<sup>1</sup></span></div>
<div class="pn" style="left:410px;top:14px"><svg width="150" height="150" viewBox="0 0 150 150"><defs><filter id="blA4" x="-20" y="-20" width="190" height="190" filterUnits="userSpaceOnUse"><feGaussianBlur stdDeviation="3.5" result="b"/><feTurbulence type="fractalNoise" baseFrequency="0.07" numOctaves="2" seed="3" result="t"/><feDisplacementMap in="b" in2="t" scale="11" xChannelSelector="R" yChannelSelector="G"/></filter><filter id="sbA4" x="-20" y="-20" width="190" height="190" filterUnits="userSpaceOnUse"><feGaussianBlur stdDeviation="0.55"/></filter><filter id="soA4" x="-20" y="-20" width="190" height="190" filterUnits="userSpaceOnUse"><feGaussianBlur stdDeviation="1.4"/></filter></defs><g filter="url(#blA4)"><rect x="-10.00" y="-10.00" width="10.30" height="10.30" fill="#e8e8ff"/><rect x="0.00" y="-10.00" width="10.30" height="10.30" fill="#e8e8ff"/><rect x="10.00" y="-10.00" width="10.30" height="10.30" fill="#fcb4b4"/><rect x="20.00" y="-10.00" width="10.30" height="10.30" fill="#f97f7f"/><rect x="30.00" y="-10.00" width="10.30" height="10.30" fill="#fb9a9a"/><rect x="40.00" y="-10.00" width="10.30" height="10.30" fill="#d1d1fe"/><rect x="50.00" y="-10.00" width="10.30" height="10.30" fill="#fb9a9a"/><rect x="60.00" y="-10.00" width="10.30" height="10.30" fill="#ffe6e6"/><rect x="70.00" y="-10.00" width="10.30" height="10.30" fill="#ffffff"/><rect x="80.00" y="-10.00" width="10.30" height="10.30" fill="#fcb4b4"/><rect x="90.00" y="-10.00" width="10.30" height="10.30" fill="#fb9a9a"/><rect x="100.00" y="-10.00" width="10.30" height="10.30" fill="#ffe6e6"/><rect x="110.00" y="-10.00" width="10.30" height="10.30" fill="#ffe6e6"/><rect x="120.00" y="-10.00" width="10.30" height="10.30" fill="#b8b8fd"/><rect x="130.00" y="-10.00" width="10.30" height="10.30" fill="#fcb4b4"/><rect x="140.00" y="-10.00" width="10.30" height="10.30" fill="#fecdcd"/><rect x="150.00" y="-10.00" width="10.30" height="10.30" fill="#fecdcd"/><rect x="-10.00" y="0.00" width="10.30" height="10.30" fill="#e8e8ff"/><rect x="0.00" y="0.00" width="10.30" height="10.30" fill="#e8e8ff"/><rect x="10.00" y="0.00" width="10.30" height="10.30" fill="#fcb4b4"/><rect x="20.00" y="0.00" width="10.30" height="10.30" fill="#f97f7f"/><rect x="30.00" y="0.00" width="10.30" height="10.30" fill="#fb9a9a"/><rect x="40.00" y="0.00" width="10.30" height="10.30" fill="#d1d1fe"/><rect x="50.00" y="0.00" width="10.30" height="10.30" fill="#fb9a9a"/><rect x="60.00" y="0.00" width="10.30" height="10.30" fill="#ffe6e6"/><rect x="70.00" y="0.00" width="10.30" height="10.30" fill="#ffffff"/><rect x="80.00" y="0.00" width="10.30" height="10.30" fill="#fcb4b4"/><rect x="90.00" y="0.00" width="10.30" height="10.30" fill="#fb9a9a"/><rect x="100.00" y="0.00" width="10.30" height="10.30" fill="#ffe6e6"/><rect x="110.00" y="0.00" width="10.30" height="10.30" fill="#ffe6e6"/><rect x="120.00" y="0.00" width="10.30" height="10.30" fill="#b8b8fd"/><rect x="130.00" y="0.00" width="10.30" height="10.30" fill="#fcb4b4"/><rect x="140.00" y="0.00" width="10.30" height="10.30" fill="#fecdcd"/><rect x="150.00" y="0.00" width="10.30" height="10.30" fill="#fecdcd"/><rect x="-10.00" y="10.00" width="10.30" height="10.30" fill="#fcb4b4"/><rect x="0.00" y="10.00" width="10.30" height="10.30" fill="#fcb4b4"/><rect x="10.00" y="10.00" width="10.30" height="10.30" fill="#e8e8ff"/><rect x="20.00" y="10.00" width="10.30" height="10.30" fill="#fb9a9a"/><rect x="30.00" y="10.00" width="10.30" height="10.30" fill="#ffe6e6"/><rect x="40.00" y="10.00" width="10.30" height="10.30" fill="#9e9efb"/><rect x="50.00" y="10.00" width="10.30" height="10.30" fill="#ffffff"/><rect x="60.00" y="10.00" width="10.30" height="10.30" fill="#fb9a9a"/><rect x="70.00" y="10.00" width="10.30" height="10.30" fill="#fb9a9a"/><rect x="80.00" y="10.00" width="10.30" height="10.30" fill="#fb9a9a"/><rect x="90.00" y="10.00" width="10.30" height="10.30" fill="#f66363"/><rect x="100.00" y="10.00" width="10.30" height="10.30" fill="#f97f7f"/><rect x="110.00" y="10.00" width="10.30" height="10.30" fill="#b8b8fd"/><rect x="120.00" y="10.00" width="10.30" height="10.30" fill="#fecdcd"/><rect x="130.00" y="10.00" width="10.30" height="10.30" fill="#fcb4b4"/><rect x="140.00" y="10.00" width="10.30" height="10.30" fill="#fcb4b4"/><rect x="150.00" y="10.00" width="10.30" height="10.30" fill="#fcb4b4"/><rect x="-10.00" y="20.00" width="10.30" height="10.30" fill="#fecdcd"/><rect x="0.00" y="20.00" width="10.30" height="10.30" fill="#fecdcd"/><rect x="10.00" y="20.00" width="10.30" height="10.30" fill="#b8b8fd"/><rect x="20.00" y="20.00" width="10.30" height="10.30" fill="#e8e8ff"/><rect x="30.00" y="20.00" width="10.30" height="10.30" fill="#fb9a9a"/><rect x="40.00" y="20.00" width="10.30" height="10.30" fill="#9e9efb"/><rect x="50.00" y="20.00" width="10.30" height="10.30" fill="#e8e8ff"/><rect x="60.00" y="20.00" width="10.30" height="10.30" fill="#fb9a9a"/><rect x="70.00" y="20.00" width="10.30" height="10.30" fill="#fb9a9a"/><rect x="80.00" y="20.00" width="10.30" height="10.30" fill="#fecdcd"/><rect x="90.00" y="20.00" width="10.30" height="10.30" fill="#f97f7f"/><rect x="100.00" y="20.00" width="10.30" height="10.30" fill="#fb9a9a"/><rect x="110.00" y="20.00" width="10.30" height="10.30" fill="#ffffff"/><rect x="120.00" y="20.00" width="10.30" height="10.30" fill="#fecdcd"/><rect x="130.00" y="20.00" width="10.30" height="10.30" fill="#fcb4b4"/><rect x="140.00" y="20.00" width="10.30" height="10.30" fill="#fcb4b4"/><rect x="150.00" y="20.00" width="10.30" height="10.30" fill="#fcb4b4"/><rect x="-10.00" y="30.00" width="10.30" height="10.30" fill="#f97f7f"/><rect x="0.00" y="30.00" width="10.30" height="10.30" fill="#f97f7f"/><rect x="10.00" y="30.00" width="10.30" height="10.30" fill="#d1d1fe"/><rect x="20.00" y="30.00" width="10.30" height="10.30" fill="#fecdcd"/><rect x="30.00" y="30.00" width="10.30" height="10.30" fill="#fb9a9a"/><rect x="40.00" y="30.00" width="10.30" height="10.30" fill="#d1d1fe"/><rect x="50.00" y="30.00" width="10.30" height="10.30" fill="#d1d1fe"/><rect x="60.00" y="30.00" width="10.30" height="10.30" fill="#fcb4b4"/><rect x="70.00" y="30.00" width="10.30" height="10.30" fill="#fcb4b4"/><rect x="80.00" y="30.00" width="10.30" height="10.30" fill="#b8b8fd"/><rect x="90.00" y="30.00" width="10.30" height="10.30" fill="#e8e8ff"/><rect x="100.00" y="30.00" width="10.30" height="10.30" fill="#fcb4b4"/><rect x="110.00" y="30.00" width="10.30" height="10.30" fill="#ffffff"/><rect x="120.00" y="30.00" width="10.30" height="10.30" fill="#f97f7f"/><rect x="130.00" y="30.00" width="10.30" height="10.30" fill="#fb9a9a"/><rect x="140.00" y="30.00" width="10.30" height="10.30" fill="#fb9a9a"/><rect x="150.00" y="30.00" width="10.30" height="10.30" fill="#fb9a9a"/><rect x="-10.00" y="40.00" width="10.30" height="10.30" fill="#fcb4b4"/><rect x="0.00" y="40.00" width="10.30" height="10.30" fill="#fcb4b4"/><rect x="10.00" y="40.00" width="10.30" height="10.30" fill="#d1d1fe"/><rect x="20.00" y="40.00" width="10.30" height="10.30" fill="#fecdcd"/><rect x="30.00" y="40.00" width="10.30" height="10.30" fill="#fcb4b4"/><rect x="40.00" y="40.00" width="10.30" height="10.30" fill="#fecdcd"/><rect x="50.00" y="40.00" width="10.30" height="10.30" fill="#f97f7f"/><rect x="60.00" y="40.00" width="10.30" height="10.30" fill="#f66363"/><rect x="70.00" y="40.00" width="10.30" height="10.30" fill="#f66363"/><rect x="80.00" y="40.00" width="10.30" height="10.30" fill="#b8b8fd"/><rect x="90.00" y="40.00" width="10.30" height="10.30" fill="#e8e8ff"/><rect x="100.00" y="40.00" width="10.30" height="10.30" fill="#b8b8fd"/><rect x="110.00" y="40.00" width="10.30" height="10.30" fill="#d1d1fe"/><rect x="120.00" y="40.00" width="10.30" height="10.30" fill="#fb9a9a"/><rect x="130.00" y="40.00" width="10.30" height="10.30" fill="#fb9a9a"/><rect x="140.00" y="40.00" width="10.30" height="10.30" fill="#f66363"/><rect x="150.00" y="40.00" width="10.30" height="10.30" fill="#f66363"/><rect x="-10.00" y="50.00" width="10.30" height="10.30" fill="#e8e8ff"/><rect x="0.00" y="50.00" width="10.30" height="10.30" fill="#e8e8ff"/><rect x="10.00" y="50.00" width="10.30" height="10.30" fill="#d1d1fe"/><rect x="20.00" y="50.00" width="10.30" height="10.30" fill="#fcb4b4"/><rect x="30.00" y="50.00" width="10.30" height="10.30" fill="#f97f7f"/><rect x="40.00" y="50.00" width="10.30" height="10.30" fill="#f66363"/><rect x="50.00" y="50.00" width="10.30" height="10.30" fill="#f24646"/><rect x="60.00" y="50.00" width="10.30" height="10.30" fill="#eb2a2a"/><rect x="70.00" y="50.00" width="10.30" height="10.30" fill="#f24646"/><rect x="80.00" y="50.00" width="10.30" height="10.30" fill="#fb9a9a"/><rect x="90.00" y="50.00" width="10.30" height="10.30" fill="#fcb4b4"/><rect x="100.00" y="50.00" width="10.30" height="10.30" fill="#9e9efb"/><rect x="110.00" y="50.00" width="10.30" height="10.30" fill="#d1d1fe"/><rect x="120.00" y="50.00" width="10.30" height="10.30" fill="#f97f7f"/><rect x="130.00" y="50.00" width="10.30" height="10.30" fill="#fb9a9a"/><rect x="140.00" y="50.00" width="10.30" height="10.30" fill="#f97f7f"/><rect x="150.00" y="50.00" width="10.30" height="10.30" fill="#f97f7f"/><rect x="-10.00" y="60.00" width="10.30" height="10.30" fill="#fb9a9a"/><rect x="0.00" y="60.00" width="10.30" height="10.30" fill="#fb9a9a"/><rect x="10.00" y="60.00" width="10.30" height="10.30" fill="#fecdcd"/><rect x="20.00" y="60.00" width="10.30" height="10.30" fill="#f97f7f"/><rect x="30.00" y="60.00" width="10.30" height="10.30" fill="#f66363"/><rect x="40.00" y="60.00" width="10.30" height="10.30" fill="#f97f7f"/><rect x="50.00" y="60.00" width="10.30" height="10.30" fill="#f97f7f"/><rect x="60.00" y="60.00" width="10.30" height="10.30" fill="#f97f7f"/><rect x="70.00" y="60.00" width="10.30" height="10.30" fill="#f97f7f"/><rect x="80.00" y="60.00" width="10.30" height="10.30" fill="#ffe6e6"/><rect x="90.00" y="60.00" width="10.30" height="10.30" fill="#9e9efb"/><rect x="100.00" y="60.00" width="10.30" height="10.30" fill="#8484f9"/><rect x="110.00" y="60.00" width="10.30" height="10.30" fill="#e8e8ff"/><rect x="120.00" y="60.00" width="10.30" height="10.30" fill="#fb9a9a"/><rect x="130.00" y="60.00" width="10.30" height="10.30" fill="#fb9a9a"/><rect x="140.00" y="60.00" width="10.30" height="10.30" fill="#fb9a9a"/><rect x="150.00" y="60.00" width="10.30" height="10.30" fill="#fb9a9a"/><rect x="-10.00" y="70.00" width="10.30" height="10.30" fill="#fb9a9a"/><rect x="0.00" y="70.00" width="10.30" height="10.30" fill="#fb9a9a"/><rect x="10.00" y="70.00" width="10.30" height="10.30" fill="#fb9a9a"/><rect x="20.00" y="70.00" width="10.30" height="10.30" fill="#fb9a9a"/><rect x="30.00" y="70.00" width="10.30" height="10.30" fill="#fb9a9a"/><rect x="40.00" y="70.00" width="10.30" height="10.30" fill="#fb9a9a"/><rect x="50.00" y="70.00" width="10.30" height="10.30" fill="#fecdcd"/><rect x="60.00" y="70.00" width="10.30" height="10.30" fill="#fb9a9a"/><rect x="70.00" y="70.00" width="10.30" height="10.30" fill="#ffffff"/><rect x="80.00" y="70.00" width="10.30" height="10.30" fill="#fcb4b4"/><rect x="90.00" y="70.00" width="10.30" height="10.30" fill="#b8b8fd"/><rect x="100.00" y="70.00" width="10.30" height="10.30" fill="#b8b8fd"/><rect x="110.00" y="70.00" width="10.30" height="10.30" fill="#fecdcd"/><rect x="120.00" y="70.00" width="10.30" height="10.30" fill="#fcb4b4"/><rect x="130.00" y="70.00" width="10.30" height="10.30" fill="#fcb4b4"/><rect x="140.00" y="70.00" width="10.30" height="10.30" fill="#fcb4b4"/><rect x="150.00" y="70.00" width="10.30" height="10.30" fill="#fcb4b4"/><rect x="-10.00" y="80.00" width="10.30" height="10.30" fill="#fcb4b4"/><rect x="0.00" y="80.00" width="10.30" height="10.30" fill="#fcb4b4"/><rect x="10.00" y="80.00" width="10.30" height="10.30" fill="#f97f7f"/><rect x="20.00" y="80.00" width="10.30" height="10.30" fill="#f97f7f"/><rect x="30.00" y="80.00" width="10.30" height="10.30" fill="#fb9a9a"/><rect x="40.00" y="80.00" width="10.30" height="10.30" fill="#b8b8fd"/><rect x="50.00" y="80.00" width="10.30" height="10.30" fill="#9e9efb"/><rect x="60.00" y="80.00" width="10.30" height="10.30" fill="#b8b8fd"/><rect x="70.00" y="80.00" width="10.30" height="10.30" fill="#b8b8fd"/><rect x="80.00" y="80.00" width="10.30" height="10.30" fill="#b8b8fd"/><rect x="90.00" y="80.00" width="10.30" height="10.30" fill="#fb9a9a"/><rect x="100.00" y="80.00" width="10.30" height="10.30" fill="#fecdcd"/><rect x="110.00" y="80.00" width="10.30" height="10.30" fill="#b8b8fd"/><rect x="120.00" y="80.00" width="10.30" height="10.30" fill="#d1d1fe"/><rect x="130.00" y="80.00" width="10.30" height="10.30" fill="#fb9a9a"/><rect x="140.00" y="80.00" width="10.30" height="10.30" fill="#fcb4b4"/><rect x="150.00" y="80.00" width="10.30" height="10.30" fill="#fcb4b4"/><rect x="-10.00" y="90.00" width="10.30" height="10.30" fill="#f97f7f"/><rect x="0.00" y="90.00" width="10.30" height="10.30" fill="#f97f7f"/><rect x="10.00" y="90.00" width="10.30" height="10.30" fill="#fb9a9a"/><rect x="20.00" y="90.00" width="10.30" height="10.30" fill="#e8e8ff"/><rect x="30.00" y="90.00" width="10.30" height="10.30" fill="#fecdcd"/><rect x="40.00" y="90.00" width="10.30" height="10.30" fill="#b8b8fd"/><rect x="50.00" y="90.00" width="10.30" height="10.30" fill="#d1d1fe"/><rect x="60.00" y="90.00" width="10.30" height="10.30" fill="#fb9a9a"/><rect x="70.00" y="90.00" width="10.30" height="10.30" fill="#d1d1fe"/><rect x="80.00" y="90.00" width="10.30" height="10.30" fill="#9e9efb"/><rect x="90.00" y="90.00" width="10.30" height="10.30" fill="#fcb4b4"/><rect x="100.00" y="90.00" width="10.30" height="10.30" fill="#d1d1fe"/><rect x="110.00" y="90.00" width="10.30" height="10.30" fill="#b8b8fd"/><rect x="120.00" y="90.00" width="10.30" height="10.30" fill="#fb9a9a"/><rect x="130.00" y="90.00" width="10.30" height="10.30" fill="#fb9a9a"/><rect x="140.00" y="90.00" width="10.30" height="10.30" fill="#d1d1fe"/><rect x="150.00" y="90.00" width="10.30" height="10.30" fill="#d1d1fe"/><rect x="-10.00" y="100.00" width="10.30" height="10.30" fill="#f97f7f"/><rect x="0.00" y="100.00" width="10.30" height="10.30" fill="#f97f7f"/><rect x="10.00" y="100.00" width="10.30" height="10.30" fill="#fb9a9a"/><rect x="20.00" y="100.00" width="10.30" height="10.30" fill="#b8b8fd"/><rect x="30.00" y="100.00" width="10.30" height="10.30" fill="#d1d1fe"/><rect x="40.00" y="100.00" width="10.30" height="10.30" fill="#d1d1fe"/><rect x="50.00" y="100.00" width="10.30" height="10.30" fill="#f97f7f"/><rect x="60.00" y="100.00" width="10.30" height="10.30" fill="#f97f7f"/><rect x="70.00" y="100.00" width="10.30" height="10.30" fill="#d1d1fe"/><rect x="80.00" y="100.00" width="10.30" height="10.30" fill="#e8e8ff"/><rect x="90.00" y="100.00" width="10.30" height="10.30" fill="#ffe6e6"/><rect x="100.00" y="100.00" width="10.30" height="10.30" fill="#fcb4b4"/><rect x="110.00" y="100.00" width="10.30" height="10.30" fill="#b8b8fd"/><rect x="120.00" y="100.00" width="10.30" height="10.30" fill="#fb9a9a"/><rect x="130.00" y="100.00" width="10.30" height="10.30" fill="#fcb4b4"/><rect x="140.00" y="100.00" width="10.30" height="10.30" fill="#d1d1fe"/><rect x="150.00" y="100.00" width="10.30" height="10.30" fill="#d1d1fe"/><rect x="-10.00" y="110.00" width="10.30" height="10.30" fill="#fb9a9a"/><rect x="0.00" y="110.00" width="10.30" height="10.30" fill="#fb9a9a"/><rect x="10.00" y="110.00" width="10.30" height="10.30" fill="#f66363"/><rect x="20.00" y="110.00" width="10.30" height="10.30" fill="#f97f7f"/><rect x="30.00" y="110.00" width="10.30" height="10.30" fill="#d1d1fe"/><rect x="40.00" y="110.00" width="10.30" height="10.30" fill="#b8b8fd"/><rect x="50.00" y="110.00" width="10.30" height="10.30" fill="#fb9a9a"/><rect x="60.00" y="110.00" width="10.30" height="10.30" fill="#fcb4b4"/><rect x="70.00" y="110.00" width="10.30" height="10.30" fill="#d1d1fe"/><rect x="80.00" y="110.00" width="10.30" height="10.30" fill="#f97f7f"/><rect x="90.00" y="110.00" width="10.30" height="10.30" fill="#fcb4b4"/><rect x="100.00" y="110.00" width="10.30" height="10.30" fill="#b8b8fd"/><rect x="110.00" y="110.00" width="10.30" height="10.30" fill="#b8b8fd"/><rect x="120.00" y="110.00" width="10.30" height="10.30" fill="#e8e8ff"/><rect x="130.00" y="110.00" width="10.30" height="10.30" fill="#fcb4b4"/><rect x="140.00" y="110.00" width="10.30" height="10.30" fill="#fb9a9a"/><rect x="150.00" y="110.00" width="10.30" height="10.30" fill="#fb9a9a"/><rect x="-10.00" y="120.00" width="10.30" height="10.30" fill="#fecdcd"/><rect x="0.00" y="120.00" width="10.30" height="10.30" fill="#fecdcd"/><rect x="10.00" y="120.00" width="10.30" height="10.30" fill="#fb9a9a"/><rect x="20.00" y="120.00" width="10.30" height="10.30" fill="#f97f7f"/><rect x="30.00" y="120.00" width="10.30" height="10.30" fill="#d1d1fe"/><rect x="40.00" y="120.00" width="10.30" height="10.30" fill="#b8b8fd"/><rect x="50.00" y="120.00" width="10.30" height="10.30" fill="#b8b8fd"/><rect x="60.00" y="120.00" width="10.30" height="10.30" fill="#d1d1fe"/><rect x="70.00" y="120.00" width="10.30" height="10.30" fill="#fecdcd"/><rect x="80.00" y="120.00" width="10.30" height="10.30" fill="#f66363"/><rect x="90.00" y="120.00" width="10.30" height="10.30" fill="#f97f7f"/><rect x="100.00" y="120.00" width="10.30" height="10.30" fill="#ffffff"/><rect x="110.00" y="120.00" width="10.30" height="10.30" fill="#d1d1fe"/><rect x="120.00" y="120.00" width="10.30" height="10.30" fill="#fb9a9a"/><rect x="130.00" y="120.00" width="10.30" height="10.30" fill="#fcb4b4"/><rect x="140.00" y="120.00" width="10.30" height="10.30" fill="#fcb4b4"/><rect x="150.00" y="120.00" width="10.30" height="10.30" fill="#fcb4b4"/><rect x="-10.00" y="130.00" width="10.30" height="10.30" fill="#ffe6e6"/><rect x="0.00" y="130.00" width="10.30" height="10.30" fill="#ffe6e6"/><rect x="10.00" y="130.00" width="10.30" height="10.30" fill="#fb9a9a"/><rect x="20.00" y="130.00" width="10.30" height="10.30" fill="#d1d1fe"/><rect x="30.00" y="130.00" width="10.30" height="10.30" fill="#b8b8fd"/><rect x="40.00" y="130.00" width="10.30" height="10.30" fill="#ffffff"/><rect x="50.00" y="130.00" width="10.30" height="10.30" fill="#b8b8fd"/><rect x="60.00" y="130.00" width="10.30" height="10.30" fill="#e8e8ff"/><rect x="70.00" y="130.00" width="10.30" height="10.30" fill="#d1d1fe"/><rect x="80.00" y="130.00" width="10.30" height="10.30" fill="#f97f7f"/><rect x="90.00" y="130.00" width="10.30" height="10.30" fill="#f97f7f"/><rect x="100.00" y="130.00" width="10.30" height="10.30" fill="#fb9a9a"/><rect x="110.00" y="130.00" width="10.30" height="10.30" fill="#ffffff"/><rect x="120.00" y="130.00" width="10.30" height="10.30" fill="#fb9a9a"/><rect x="130.00" y="130.00" width="10.30" height="10.30" fill="#fecdcd"/><rect x="140.00" y="130.00" width="10.30" height="10.30" fill="#b8b8fd"/><rect x="150.00" y="130.00" width="10.30" height="10.30" fill="#b8b8fd"/><rect x="-10.00" y="140.00" width="10.30" height="10.30" fill="#d1d1fe"/><rect x="0.00" y="140.00" width="10.30" height="10.30" fill="#d1d1fe"/><rect x="10.00" y="140.00" width="10.30" height="10.30" fill="#e8e8ff"/><rect x="20.00" y="140.00" width="10.30" height="10.30" fill="#fcb4b4"/><rect x="30.00" y="140.00" width="10.30" height="10.30" fill="#b8b8fd"/><rect x="40.00" y="140.00" width="10.30" height="10.30" fill="#e8e8ff"/><rect x="50.00" y="140.00" width="10.30" height="10.30" fill="#fb9a9a"/><rect x="60.00" y="140.00" width="10.30" height="10.30" fill="#fcb4b4"/><rect x="70.00" y="140.00" width="10.30" height="10.30" fill="#d1d1fe"/><rect x="80.00" y="140.00" width="10.30" height="10.30" fill="#fb9a9a"/><rect x="90.00" y="140.00" width="10.30" height="10.30" fill="#f97f7f"/><rect x="100.00" y="140.00" width="10.30" height="10.30" fill="#fb9a9a"/><rect x="110.00" y="140.00" width="10.30" height="10.30" fill="#fecdcd"/><rect x="120.00" y="140.00" width="10.30" height="10.30" fill="#fcb4b4"/><rect x="130.00" y="140.00" width="10.30" height="10.30" fill="#b8b8fd"/><rect x="140.00" y="140.00" width="10.30" height="10.30" fill="#b8b8fd"/><rect x="150.00" y="140.00" width="10.30" height="10.30" fill="#b8b8fd"/><rect x="-10.00" y="150.00" width="10.30" height="10.30" fill="#d1d1fe"/><rect x="0.00" y="150.00" width="10.30" height="10.30" fill="#d1d1fe"/><rect x="10.00" y="150.00" width="10.30" height="10.30" fill="#e8e8ff"/><rect x="20.00" y="150.00" width="10.30" height="10.30" fill="#fcb4b4"/><rect x="30.00" y="150.00" width="10.30" height="10.30" fill="#b8b8fd"/><rect x="40.00" y="150.00" width="10.30" height="10.30" fill="#e8e8ff"/><rect x="50.00" y="150.00" width="10.30" height="10.30" fill="#fb9a9a"/><rect x="60.00" y="150.00" width="10.30" height="10.30" fill="#fcb4b4"/><rect x="70.00" y="150.00" width="10.30" height="10.30" fill="#d1d1fe"/><rect x="80.00" y="150.00" width="10.30" height="10.30" fill="#fb9a9a"/><rect x="90.00" y="150.00" width="10.30" height="10.30" fill="#f97f7f"/><rect x="100.00" y="150.00" width="10.30" height="10.30" fill="#fb9a9a"/><rect x="110.00" y="150.00" width="10.30" height="10.30" fill="#fecdcd"/><rect x="120.00" y="150.00" width="10.30" height="10.30" fill="#fcb4b4"/><rect x="130.00" y="150.00" width="10.30" height="10.30" fill="#b8b8fd"/><rect x="140.00" y="150.00" width="10.30" height="10.30" fill="#b8b8fd"/><rect x="150.00" y="150.00" width="10.30" height="10.30" fill="#b8b8fd"/></g><g filter="url(#soA4)"><path d="M0.0,84.0 L9.3,76.6 L18.6,67.3 L30.3,60.3 L46.6,53.3 L60.6,52.1 L74.6,53.3 L86.2,55.6 L98.0,61.0 L108.0,68.0" fill="none" stroke="#f28a8a" stroke-width="10" stroke-opacity="0.7" stroke-linecap="round" stroke-linejoin="round"/><path d="M40.0,56.0 L50.0,53.5 L62.0,52.5 L74.0,54.0" fill="none" stroke="#ec5c5c" stroke-width="6" stroke-opacity="0.75" stroke-linecap="round" stroke-linejoin="round"/><path d="M28.0,44.0 L42.0,40.0 L56.0,38.0 L70.0,40.0 L80.0,44.0" fill="none" stroke="#e8e8ff" stroke-width="6" stroke-opacity="0.7" stroke-linecap="round" stroke-linejoin="round"/><path d="M46.0,41.0 L55.0,39.5 L63.0,40.5" fill="none" stroke="#3030d0" stroke-width="1.0" stroke-opacity="0.6" stroke-linecap="round" stroke-linejoin="round"/></g><g filter="url(#sbA4)"></g></svg></div>
<div class="bd" style="left:410px;top:14px"></div>
<div class="cb" style="left:562px;top:14px"></div>
<div class="mt" style="left:563px;top:141.1px"></div><div class="mt" style="left:568.8px;top:141.1px"></div>
<div class="mt" style="left:563px;top:127.9px"></div><div class="mt" style="left:568.8px;top:127.9px"></div>
<div class="mt" style="left:563px;top:118.5px"></div><div class="mt" style="left:568.8px;top:118.5px"></div>
<div class="mt" style="left:563px;top:111.3px"></div><div class="mt" style="left:568.8px;top:111.3px"></div>
<div class="mt" style="left:563px;top:105.3px"></div><div class="mt" style="left:568.8px;top:105.3px"></div>
<div class="mt" style="left:563px;top:100.3px"></div><div class="mt" style="left:568.8px;top:100.3px"></div>
<div class="mt" style="left:563px;top:96.0px"></div><div class="mt" style="left:568.8px;top:96.0px"></div>
<div class="mt" style="left:563px;top:92.1px"></div><div class="mt" style="left:568.8px;top:92.1px"></div>
<div class="mt" style="left:563px;top:66.1px"></div><div class="mt" style="left:568.8px;top:66.1px"></div>
<div class="mt" style="left:563px;top:52.9px"></div><div class="mt" style="left:568.8px;top:52.9px"></div>
<div class="mt" style="left:563px;top:43.5px"></div><div class="mt" style="left:568.8px;top:43.5px"></div>
<div class="mt" style="left:563px;top:36.3px"></div><div class="mt" style="left:568.8px;top:36.3px"></div>
<div class="mt" style="left:563px;top:30.3px"></div><div class="mt" style="left:568.8px;top:30.3px"></div>
<div class="mt" style="left:563px;top:25.3px"></div><div class="mt" style="left:568.8px;top:25.3px"></div>
<div class="mt" style="left:563px;top:21.0px"></div><div class="mt" style="left:568.8px;top:21.0px"></div>
<div class="mt" style="left:563px;top:17.1px"></div><div class="mt" style="left:568.8px;top:17.1px"></div>
<div class="Mt" style="left:563px;top:88.6px"></div><div class="Mt" style="left:567.6px;top:88.6px"></div>
<div class="tk" style="left:576px;top:11.4px">10<sup>1</sup></div>
<div class="tk" style="left:576px;top:86.4px">10<sup>0</sup></div>
<div class="tk" style="left:576px;top:161.4px">10<sup>&minus;1</sup></div>
<div class="al" style="left:592.5px;top:85.5px">A</div>
<div class="ttl" style="left:410px;top:1.6999999999999993px"><span><b>A4:</b> <i>&beta;</i><sub>0</sub> = 200, <i>&nu;<sub>S</sub></i> = 10<sup>2</sup></span></div>
<div class="pn" style="left:0px;top:189px"><svg width="150" height="150" viewBox="0 0 150 150"><defs><filter id="blA5" x="-20" y="-20" width="190" height="190" filterUnits="userSpaceOnUse"><feGaussianBlur stdDeviation="3.5" result="b"/><feTurbulence type="fractalNoise" baseFrequency="0.07" numOctaves="2" seed="5" result="t"/><feDisplacementMap in="b" in2="t" scale="11" xChannelSelector="R" yChannelSelector="G"/></filter><filter id="sbA5" x="-20" y="-20" width="190" height="190" filterUnits="userSpaceOnUse"><feGaussianBlur stdDeviation="0.55"/></filter><filter id="soA5" x="-20" y="-20" width="190" height="190" filterUnits="userSpaceOnUse"><feGaussianBlur stdDeviation="1.4"/></filter></defs><g filter="url(#blA5)"><rect x="-10.00" y="-10.00" width="10.30" height="10.30" fill="#cfcffe"/><rect x="0.00" y="-10.00" width="10.30" height="10.30" fill="#cfcffe"/><rect x="10.00" y="-10.00" width="10.30" height="10.30" fill="#fecbcb"/><rect x="20.00" y="-10.00" width="10.30" height="10.30" fill="#cfcffe"/><rect x="30.00" y="-10.00" width="10.30" height="10.30" fill="#ffe5e5"/><rect x="40.00" y="-10.00" width="10.30" height="10.30" fill="#cfcffe"/><rect x="50.00" y="-10.00" width="10.30" height="10.30" fill="#ffffff"/><rect x="60.00" y="-10.00" width="10.30" height="10.30" fill="#fb9696"/><rect x="70.00" y="-10.00" width="10.30" height="10.30" fill="#fb9696"/><rect x="80.00" y="-10.00" width="10.30" height="10.30" fill="#cfcffe"/><rect x="90.00" y="-10.00" width="10.30" height="10.30" fill="#fb9696"/><rect x="100.00" y="-10.00" width="10.30" height="10.30" fill="#f65d5d"/><rect x="110.00" y="-10.00" width="10.30" height="10.30" fill="#fb9696"/><rect x="120.00" y="-10.00" width="10.30" height="10.30" fill="#fecbcb"/><rect x="130.00" y="-10.00" width="10.30" height="10.30" fill="#fecbcb"/><rect x="140.00" y="-10.00" width="10.30" height="10.30" fill="#fecbcb"/><rect x="150.00" y="-10.00" width="10.30" height="10.30" fill="#fecbcb"/><rect x="-10.00" y="0.00" width="10.30" height="10.30" fill="#cfcffe"/><rect x="0.00" y="0.00" width="10.30" height="10.30" fill="#cfcffe"/><rect x="10.00" y="0.00" width="10.30" height="10.30" fill="#fecbcb"/><rect x="20.00" y="0.00" width="10.30" height="10.30" fill="#cfcffe"/><rect x="30.00" y="0.00" width="10.30" height="10.30" fill="#ffe5e5"/><rect x="40.00" y="0.00" width="10.30" height="10.30" fill="#cfcffe"/><rect x="50.00" y="0.00" width="10.30" height="10.30" fill="#ffffff"/><rect x="60.00" y="0.00" width="10.30" height="10.30" fill="#fb9696"/><rect x="70.00" y="0.00" width="10.30" height="10.30" fill="#fb9696"/><rect x="80.00" y="0.00" width="10.30" height="10.30" fill="#cfcffe"/><rect x="90.00" y="0.00" width="10.30" height="10.30" fill="#fb9696"/><rect x="100.00" y="0.00" width="10.30" height="10.30" fill="#f65d5d"/><rect x="110.00" y="0.00" width="10.30" height="10.30" fill="#fb9696"/><rect x="120.00" y="0.00" width="10.30" height="10.30" fill="#fecbcb"/><rect x="130.00" y="0.00" width="10.30" height="10.30" fill="#fecbcb"/><rect x="140.00" y="0.00" width="10.30" height="10.30" fill="#fecbcb"/><rect x="150.00" y="0.00" width="10.30" height="10.30" fill="#fecbcb"/><rect x="-10.00" y="10.00" width="10.30" height="10.30" fill="#fecbcb"/><rect x="0.00" y="10.00" width="10.30" height="10.30" fill="#fecbcb"/><rect x="10.00" y="10.00" width="10.30" height="10.30" fill="#fecbcb"/><rect x="20.00" y="10.00" width="10.30" height="10.30" fill="#ffffff"/><rect x="30.00" y="10.00" width="10.30" height="10.30" fill="#cfcffe"/><rect x="40.00" y="10.00" width="10.30" height="10.30" fill="#9a9afb"/><rect x="50.00" y="10.00" width="10.30" height="10.30" fill="#cfcffe"/><rect x="60.00" y="10.00" width="10.30" height="10.30" fill="#f65d5d"/><rect x="70.00" y="10.00" width="10.30" height="10.30" fill="#fecbcb"/><rect x="80.00" y="10.00" width="10.30" height="10.30" fill="#cfcffe"/><rect x="90.00" y="10.00" width="10.30" height="10.30" fill="#e82323"/><rect x="100.00" y="10.00" width="10.30" height="10.30" fill="#f65d5d"/><rect x="110.00" y="10.00" width="10.30" height="10.30" fill="#fb9696"/><rect x="120.00" y="10.00" width="10.30" height="10.30" fill="#ffffff"/><rect x="130.00" y="10.00" width="10.30" height="10.30" fill="#cfcffe"/><rect x="140.00" y="10.00" width="10.30" height="10.30" fill="#fecbcb"/><rect x="150.00" y="10.00" width="10.30" height="10.30" fill="#fecbcb"/><rect x="-10.00" y="20.00" width="10.30" height="10.30" fill="#fcb1b1"/><rect x="0.00" y="20.00" width="10.30" height="10.30" fill="#fcb1b1"/><rect x="10.00" y="20.00" width="10.30" height="10.30" fill="#ffffff"/><rect x="20.00" y="20.00" width="10.30" height="10.30" fill="#cfcffe"/><rect x="30.00" y="20.00" width="10.30" height="10.30" fill="#9a9afb"/><rect x="40.00" y="20.00" width="10.30" height="10.30" fill="#cfcffe"/><rect x="50.00" y="20.00" width="10.30" height="10.30" fill="#ffe5e5"/><rect x="60.00" y="20.00" width="10.30" height="10.30" fill="#fb9696"/><rect x="70.00" y="20.00" width="10.30" height="10.30" fill="#fb9696"/><rect x="80.00" y="20.00" width="10.30" height="10.30" fill="#9a9afb"/><rect x="90.00" y="20.00" width="10.30" height="10.30" fill="#ffe5e5"/><rect x="100.00" y="20.00" width="10.30" height="10.30" fill="#9a9afb"/><rect x="110.00" y="20.00" width="10.30" height="10.30" fill="#fcb1b1"/><rect x="120.00" y="20.00" width="10.30" height="10.30" fill="#fb9696"/><rect x="130.00" y="20.00" width="10.30" height="10.30" fill="#cfcffe"/><rect x="140.00" y="20.00" width="10.30" height="10.30" fill="#fecbcb"/><rect x="150.00" y="20.00" width="10.30" height="10.30" fill="#fecbcb"/><rect x="-10.00" y="30.00" width="10.30" height="10.30" fill="#fb9696"/><rect x="0.00" y="30.00" width="10.30" height="10.30" fill="#fb9696"/><rect x="10.00" y="30.00" width="10.30" height="10.30" fill="#fb9696"/><rect x="20.00" y="30.00" width="10.30" height="10.30" fill="#fecbcb"/><rect x="30.00" y="30.00" width="10.30" height="10.30" fill="#9a9afb"/><rect x="40.00" y="30.00" width="10.30" height="10.30" fill="#ffffff"/><rect x="50.00" y="30.00" width="10.30" height="10.30" fill="#fecbcb"/><rect x="60.00" y="30.00" width="10.30" height="10.30" fill="#ffffff"/><rect x="70.00" y="30.00" width="10.30" height="10.30" fill="#fecbcb"/><rect x="80.00" y="30.00" width="10.30" height="10.30" fill="#fb9696"/><rect x="90.00" y="30.00" width="10.30" height="10.30" fill="#fcb1b1"/><rect x="100.00" y="30.00" width="10.30" height="10.30" fill="#ffffff"/><rect x="110.00" y="30.00" width="10.30" height="10.30" fill="#fecbcb"/><rect x="120.00" y="30.00" width="10.30" height="10.30" fill="#fecbcb"/><rect x="130.00" y="30.00" width="10.30" height="10.30" fill="#ffffff"/><rect x="140.00" y="30.00" width="10.30" height="10.30" fill="#fecbcb"/><rect x="150.00" y="30.00" width="10.30" height="10.30" fill="#fecbcb"/><rect x="-10.00" y="40.00" width="10.30" height="10.30" fill="#fecbcb"/><rect x="0.00" y="40.00" width="10.30" height="10.30" fill="#fecbcb"/><rect x="10.00" y="40.00" width="10.30" height="10.30" fill="#ffe5e5"/><rect x="20.00" y="40.00" width="10.30" height="10.30" fill="#fecbcb"/><rect x="30.00" y="40.00" width="10.30" height="10.30" fill="#fecbcb"/><rect x="40.00" y="40.00" width="10.30" height="10.30" fill="#fb9696"/><rect x="50.00" y="40.00" width="10.30" height="10.30" fill="#fb9696"/><rect x="60.00" y="40.00" width="10.30" height="10.30" fill="#ffe5e5"/><rect x="70.00" y="40.00" width="10.30" height="10.30" fill="#fb9696"/><rect x="80.00" y="40.00" width="10.30" height="10.30" fill="#f65d5d"/><rect x="90.00" y="40.00" width="10.30" height="10.30" fill="#ffe5e5"/><rect x="100.00" y="40.00" width="10.30" height="10.30" fill="#fecbcb"/><rect x="110.00" y="40.00" width="10.30" height="10.30" fill="#cfcffe"/><rect x="120.00" y="40.00" width="10.30" height="10.30" fill="#ffffff"/><rect x="130.00" y="40.00" width="10.30" height="10.30" fill="#fecbcb"/><rect x="140.00" y="40.00" width="10.30" height="10.30" fill="#fecbcb"/><rect x="150.00" y="40.00" width="10.30" height="10.30" fill="#fecbcb"/><rect x="-10.00" y="50.00" width="10.30" height="10.30" fill="#fecbcb"/><rect x="0.00" y="50.00" width="10.30" height="10.30" fill="#fecbcb"/><rect x="10.00" y="50.00" width="10.30" height="10.30" fill="#fecbcb"/><rect x="20.00" y="50.00" width="10.30" height="10.30" fill="#fecbcb"/><rect x="30.00" y="50.00" width="10.30" height="10.30" fill="#9a9afb"/><rect x="40.00" y="50.00" width="10.30" height="10.30" fill="#fecbcb"/><rect x="50.00" y="50.00" width="10.30" height="10.30" fill="#9a9afb"/><rect x="60.00" y="50.00" width="10.30" height="10.30" fill="#fb9696"/><rect x="70.00" y="50.00" width="10.30" height="10.30" fill="#fb9696"/><rect x="80.00" y="50.00" width="10.30" height="10.30" fill="#fecbcb"/><rect x="90.00" y="50.00" width="10.30" height="10.30" fill="#fecbcb"/><rect x="100.00" y="50.00" width="10.30" height="10.30" fill="#cfcffe"/><rect x="110.00" y="50.00" width="10.30" height="10.30" fill="#6464f5"/><rect x="120.00" y="50.00" width="10.30" height="10.30" fill="#9a9afb"/><rect x="130.00" y="50.00" width="10.30" height="10.30" fill="#fecbcb"/><rect x="140.00" y="50.00" width="10.30" height="10.30" fill="#fecbcb"/><rect x="150.00" y="50.00" width="10.30" height="10.30" fill="#fecbcb"/><rect x="-10.00" y="60.00" width="10.30" height="10.30" fill="#ffe5e5"/><rect x="0.00" y="60.00" width="10.30" height="10.30" fill="#ffe5e5"/><rect x="10.00" y="60.00" width="10.30" height="10.30" fill="#fecbcb"/><rect x="20.00" y="60.00" width="10.30" height="10.30" fill="#ffe5e5"/><rect x="30.00" y="60.00" width="10.30" height="10.30" fill="#fb9696"/><rect x="40.00" y="60.00" width="10.30" height="10.30" fill="#ffe5e5"/><rect x="50.00" y="60.00" width="10.30" height="10.30" fill="#e7e7ff"/><rect x="60.00" y="60.00" width="10.30" height="10.30" fill="#fb9696"/><rect x="70.00" y="60.00" width="10.30" height="10.30" fill="#fcb1b1"/><rect x="80.00" y="60.00" width="10.30" height="10.30" fill="#fecbcb"/><rect x="90.00" y="60.00" width="10.30" height="10.30" fill="#ffe5e5"/><rect x="100.00" y="60.00" width="10.30" height="10.30" fill="#fecbcb"/><rect x="110.00" y="60.00" width="10.30" height="10.30" fill="#9a9afb"/><rect x="120.00" y="60.00" width="10.30" height="10.30" fill="#ffffff"/><rect x="130.00" y="60.00" width="10.30" height="10.30" fill="#fecbcb"/><rect x="140.00" y="60.00" width="10.30" height="10.30" fill="#ffe5e5"/><rect x="150.00" y="60.00" width="10.30" height="10.30" fill="#ffe5e5"/><rect x="-10.00" y="70.00" width="10.30" height="10.30" fill="#ffffff"/><rect x="0.00" y="70.00" width="10.30" height="10.30" fill="#ffffff"/><rect x="10.00" y="70.00" width="10.30" height="10.30" fill="#cfcffe"/><rect x="20.00" y="70.00" width="10.30" height="10.30" fill="#9a9afb"/><rect x="30.00" y="70.00" width="10.30" height="10.30" fill="#f65d5d"/><rect x="40.00" y="70.00" width="10.30" height="10.30" fill="#fb9696"/><rect x="50.00" y="70.00" width="10.30" height="10.30" fill="#fecbcb"/><rect x="60.00" y="70.00" width="10.30" height="10.30" fill="#fb9696"/><rect x="70.00" y="70.00" width="10.30" height="10.30" fill="#fecbcb"/><rect x="80.00" y="70.00" width="10.30" height="10.30" fill="#fcb1b1"/><rect x="90.00" y="70.00" width="10.30" height="10.30" fill="#cfcffe"/><rect x="100.00" y="70.00" width="10.30" height="10.30" fill="#fecbcb"/><rect x="110.00" y="70.00" width="10.30" height="10.30" fill="#ffffff"/><rect x="120.00" y="70.00" width="10.30" height="10.30" fill="#ffe5e5"/><rect x="130.00" y="70.00" width="10.30" height="10.30" fill="#ffe5e5"/><rect x="140.00" y="70.00" width="10.30" height="10.30" fill="#fecbcb"/><rect x="150.00" y="70.00" width="10.30" height="10.30" fill="#fecbcb"/><rect x="-10.00" y="80.00" width="10.30" height="10.30" fill="#fecbcb"/><rect x="0.00" y="80.00" width="10.30" height="10.30" fill="#fecbcb"/><rect x="10.00" y="80.00" width="10.30" height="10.30" fill="#ffe5e5"/><rect x="20.00" y="80.00" width="10.30" height="10.30" fill="#9a9afb"/><rect x="30.00" y="80.00" width="10.30" height="10.30" fill="#f65d5d"/><rect x="40.00" y="80.00" width="10.30" height="10.30" fill="#f87a7a"/><rect x="50.00" y="80.00" width="10.30" height="10.30" fill="#fecbcb"/><rect x="60.00" y="80.00" width="10.30" height="10.30" fill="#fcb1b1"/><rect x="70.00" y="80.00" width="10.30" height="10.30" fill="#ffe5e5"/><rect x="80.00" y="80.00" width="10.30" height="10.30" fill="#fecbcb"/><rect x="90.00" y="80.00" width="10.30" height="10.30" fill="#ffffff"/><rect x="100.00" y="80.00" width="10.30" height="10.30" fill="#ffffff"/><rect x="110.00" y="80.00" width="10.30" height="10.30" fill="#9a9afb"/><rect x="120.00" y="80.00" width="10.30" height="10.30" fill="#fecbcb"/><rect x="130.00" y="80.00" width="10.30" height="10.30" fill="#ffffff"/><rect x="140.00" y="80.00" width="10.30" height="10.30" fill="#fecbcb"/><rect x="150.00" y="80.00" width="10.30" height="10.30" fill="#fecbcb"/><rect x="-10.00" y="90.00" width="10.30" height="10.30" fill="#fecbcb"/><rect x="0.00" y="90.00" width="10.30" height="10.30" fill="#fecbcb"/><rect x="10.00" y="90.00" width="10.30" height="10.30" fill="#fb9696"/><rect x="20.00" y="90.00" width="10.30" height="10.30" fill="#fecbcb"/><rect x="30.00" y="90.00" width="10.30" height="10.30" fill="#f65d5d"/><rect x="40.00" y="90.00" width="10.30" height="10.30" fill="#fcb1b1"/><rect x="50.00" y="90.00" width="10.30" height="10.30" fill="#ffffff"/><rect x="60.00" y="90.00" width="10.30" height="10.30" fill="#ffffff"/><rect x="70.00" y="90.00" width="10.30" height="10.30" fill="#fcb1b1"/><rect x="80.00" y="90.00" width="10.30" height="10.30" fill="#fecbcb"/><rect x="90.00" y="90.00" width="10.30" height="10.30" fill="#ffe5e5"/><rect x="100.00" y="90.00" width="10.30" height="10.30" fill="#fecbcb"/><rect x="110.00" y="90.00" width="10.30" height="10.30" fill="#cfcffe"/><rect x="120.00" y="90.00" width="10.30" height="10.30" fill="#fecbcb"/><rect x="130.00" y="90.00" width="10.30" height="10.30" fill="#ffffff"/><rect x="140.00" y="90.00" width="10.30" height="10.30" fill="#fecbcb"/><rect x="150.00" y="90.00" width="10.30" height="10.30" fill="#fecbcb"/><rect x="-10.00" y="100.00" width="10.30" height="10.30" fill="#fecbcb"/><rect x="0.00" y="100.00" width="10.30" height="10.30" fill="#fecbcb"/><rect x="10.00" y="100.00" width="10.30" height="10.30" fill="#fcb1b1"/><rect x="20.00" y="100.00" width="10.30" height="10.30" fill="#9a9afb"/><rect x="30.00" y="100.00" width="10.30" height="10.30" fill="#e7e7ff"/><rect x="40.00" y="100.00" width="10.30" height="10.30" fill="#e82323"/><rect x="50.00" y="100.00" width="10.30" height="10.30" fill="#e82323"/><rect x="60.00" y="100.00" width="10.30" height="10.30" fill="#f65d5d"/><rect x="70.00" y="100.00" width="10.30" height="10.30" fill="#ffffff"/><rect x="80.00" y="100.00" width="10.30" height="10.30" fill="#cfcffe"/><rect x="90.00" y="100.00" width="10.30" height="10.30" fill="#fb9696"/><rect x="100.00" y="100.00" width="10.30" height="10.30" fill="#cfcffe"/><rect x="110.00" y="100.00" width="10.30" height="10.30" fill="#ffffff"/><rect x="120.00" y="100.00" width="10.30" height="10.30" fill="#cfcffe"/><rect x="130.00" y="100.00" width="10.30" height="10.30" fill="#ffe5e5"/><rect x="140.00" y="100.00" width="10.30" height="10.30" fill="#fecbcb"/><rect x="150.00" y="100.00" width="10.30" height="10.30" fill="#fecbcb"/><rect x="-10.00" y="110.00" width="10.30" height="10.30" fill="#e7e7ff"/><rect x="0.00" y="110.00" width="10.30" height="10.30" fill="#e7e7ff"/><rect x="10.00" y="110.00" width="10.30" height="10.30" fill="#ffe5e5"/><rect x="20.00" y="110.00" width="10.30" height="10.30" fill="#9a9afb"/><rect x="30.00" y="110.00" width="10.30" height="10.30" fill="#ffe5e5"/><rect x="40.00" y="110.00" width="10.30" height="10.30" fill="#fcb1b1"/><rect x="50.00" y="110.00" width="10.30" height="10.30" fill="#e7e7ff"/><rect x="60.00" y="110.00" width="10.30" height="10.30" fill="#e82323"/><rect x="70.00" y="110.00" width="10.30" height="10.30" fill="#e82323"/><rect x="80.00" y="110.00" width="10.30" height="10.30" fill="#fb9696"/><rect x="90.00" y="110.00" width="10.30" height="10.30" fill="#fcb1b1"/><rect x="100.00" y="110.00" width="10.30" height="10.30" fill="#ffffff"/><rect x="110.00" y="110.00" width="10.30" height="10.30" fill="#fb9696"/><rect x="120.00" y="110.00" width="10.30" height="10.30" fill="#cfcffe"/><rect x="130.00" y="110.00" width="10.30" height="10.30" fill="#ffe5e5"/><rect x="140.00" y="110.00" width="10.30" height="10.30" fill="#fcb1b1"/><rect x="150.00" y="110.00" width="10.30" height="10.30" fill="#fcb1b1"/><rect x="-10.00" y="120.00" width="10.30" height="10.30" fill="#e7e7ff"/><rect x="0.00" y="120.00" width="10.30" height="10.30" fill="#e7e7ff"/><rect x="10.00" y="120.00" width="10.30" height="10.30" fill="#fb9696"/><rect x="20.00" y="120.00" width="10.30" height="10.30" fill="#fecbcb"/><rect x="30.00" y="120.00" width="10.30" height="10.30" fill="#fecbcb"/><rect x="40.00" y="120.00" width="10.30" height="10.30" fill="#9a9afb"/><rect x="50.00" y="120.00" width="10.30" height="10.30" fill="#9a9afb"/><rect x="60.00" y="120.00" width="10.30" height="10.30" fill="#fb9696"/><rect x="70.00" y="120.00" width="10.30" height="10.30" fill="#e82323"/><rect x="80.00" y="120.00" width="10.30" height="10.30" fill="#f65d5d"/><rect x="90.00" y="120.00" width="10.30" height="10.30" fill="#ffffff"/><rect x="100.00" y="120.00" width="10.30" height="10.30" fill="#ffe5e5"/><rect x="110.00" y="120.00" width="10.30" height="10.30" fill="#ffe5e5"/><rect x="120.00" y="120.00" width="10.30" height="10.30" fill="#e7e7ff"/><rect x="130.00" y="120.00" width="10.30" height="10.30" fill="#ffffff"/><rect x="140.00" y="120.00" width="10.30" height="10.30" fill="#fecbcb"/><rect x="150.00" y="120.00" width="10.30" height="10.30" fill="#fecbcb"/><rect x="-10.00" y="130.00" width="10.30" height="10.30" fill="#fecbcb"/><rect x="0.00" y="130.00" width="10.30" height="10.30" fill="#fecbcb"/><rect x="10.00" y="130.00" width="10.30" height="10.30" fill="#fecbcb"/><rect x="20.00" y="130.00" width="10.30" height="10.30" fill="#fecbcb"/><rect x="30.00" y="130.00" width="10.30" height="10.30" fill="#e7e7ff"/><rect x="40.00" y="130.00" width="10.30" height="10.30" fill="#fb9696"/><rect x="50.00" y="130.00" width="10.30" height="10.30" fill="#fecbcb"/><rect x="60.00" y="130.00" width="10.30" height="10.30" fill="#9a9afb"/><rect x="70.00" y="130.00" width="10.30" height="10.30" fill="#cfcffe"/><rect x="80.00" y="130.00" width="10.30" height="10.30" fill="#fecbcb"/><rect x="90.00" y="130.00" width="10.30" height="10.30" fill="#9a9afb"/><rect x="100.00" y="130.00" width="10.30" height="10.30" fill="#9a9afb"/><rect x="110.00" y="130.00" width="10.30" height="10.30" fill="#ffe5e5"/><rect x="120.00" y="130.00" width="10.30" height="10.30" fill="#fecbcb"/><rect x="130.00" y="130.00" width="10.30" height="10.30" fill="#cfcffe"/><rect x="140.00" y="130.00" width="10.30" height="10.30" fill="#fecbcb"/><rect x="150.00" y="130.00" width="10.30" height="10.30" fill="#fecbcb"/><rect x="-10.00" y="140.00" width="10.30" height="10.30" fill="#fecbcb"/><rect x="0.00" y="140.00" width="10.30" height="10.30" fill="#fecbcb"/><rect x="10.00" y="140.00" width="10.30" height="10.30" fill="#ffe5e5"/><rect x="20.00" y="140.00" width="10.30" height="10.30" fill="#ffffff"/><rect x="30.00" y="140.00" width="10.30" height="10.30" fill="#cfcffe"/><rect x="40.00" y="140.00" width="10.30" height="10.30" fill="#fecbcb"/><rect x="50.00" y="140.00" width="10.30" height="10.30" fill="#9a9afb"/><rect x="60.00" y="140.00" width="10.30" height="10.30" fill="#9a9afb"/><rect x="70.00" y="140.00" width="10.30" height="10.30" fill="#9a9afb"/><rect x="80.00" y="140.00" width="10.30" height="10.30" fill="#e7e7ff"/><rect x="90.00" y="140.00" width="10.30" height="10.30" fill="#cfcffe"/><rect x="100.00" y="140.00" width="10.30" height="10.30" fill="#fecbcb"/><rect x="110.00" y="140.00" width="10.30" height="10.30" fill="#fecbcb"/><rect x="120.00" y="140.00" width="10.30" height="10.30" fill="#ffffff"/><rect x="130.00" y="140.00" width="10.30" height="10.30" fill="#fecbcb"/><rect x="140.00" y="140.00" width="10.30" height="10.30" fill="#ffffff"/><rect x="150.00" y="140.00" width="10.30" height="10.30" fill="#ffffff"/><rect x="-10.00" y="150.00" width="10.30" height="10.30" fill="#fecbcb"/><rect x="0.00" y="150.00" width="10.30" height="10.30" fill="#fecbcb"/><rect x="10.00" y="150.00" width="10.30" height="10.30" fill="#ffe5e5"/><rect x="20.00" y="150.00" width="10.30" height="10.30" fill="#ffffff"/><rect x="30.00" y="150.00" width="10.30" height="10.30" fill="#cfcffe"/><rect x="40.00" y="150.00" width="10.30" height="10.30" fill="#fecbcb"/><rect x="50.00" y="150.00" width="10.30" height="10.30" fill="#9a9afb"/><rect x="60.00" y="150.00" width="10.30" height="10.30" fill="#9a9afb"/><rect x="70.00" y="150.00" width="10.30" height="10.30" fill="#9a9afb"/><rect x="80.00" y="150.00" width="10.30" height="10.30" fill="#e7e7ff"/><rect x="90.00" y="150.00" width="10.30" height="10.30" fill="#cfcffe"/><rect x="100.00" y="150.00" width="10.30" height="10.30" fill="#fecbcb"/><rect x="110.00" y="150.00" width="10.30" height="10.30" fill="#fecbcb"/><rect x="120.00" y="150.00" width="10.30" height="10.30" fill="#ffffff"/><rect x="130.00" y="150.00" width="10.30" height="10.30" fill="#fecbcb"/><rect x="140.00" y="150.00" width="10.30" height="10.30" fill="#ffffff"/><rect x="150.00" y="150.00" width="10.30" height="10.30" fill="#ffffff"/></g><g filter="url(#soA5)"></g><g filter="url(#sbA5)"></g></svg></div>
<div class="bd" style="left:0px;top:189px"></div>
<div class="cb" style="left:152px;top:189px"></div>
<div class="mt" style="left:153px;top:316.1px"></div><div class="mt" style="left:158.8px;top:316.1px"></div>
<div class="mt" style="left:153px;top:302.9px"></div><div class="mt" style="left:158.8px;top:302.9px"></div>
<div class="mt" style="left:153px;top:293.5px"></div><div class="mt" style="left:158.8px;top:293.5px"></div>
<div class="mt" style="left:153px;top:286.3px"></div><div class="mt" style="left:158.8px;top:286.3px"></div>
<div class="mt" style="left:153px;top:280.3px"></div><div class="mt" style="left:158.8px;top:280.3px"></div>
<div class="mt" style="left:153px;top:275.3px"></div><div class="mt" style="left:158.8px;top:275.3px"></div>
<div class="mt" style="left:153px;top:271.0px"></div><div class="mt" style="left:158.8px;top:271.0px"></div>
<div class="mt" style="left:153px;top:267.1px"></div><div class="mt" style="left:158.8px;top:267.1px"></div>
<div class="mt" style="left:153px;top:241.1px"></div><div class="mt" style="left:158.8px;top:241.1px"></div>
<div class="mt" style="left:153px;top:227.9px"></div><div class="mt" style="left:158.8px;top:227.9px"></div>
<div class="mt" style="left:153px;top:218.5px"></div><div class="mt" style="left:158.8px;top:218.5px"></div>
<div class="mt" style="left:153px;top:211.3px"></div><div class="mt" style="left:158.8px;top:211.3px"></div>
<div class="mt" style="left:153px;top:205.3px"></div><div class="mt" style="left:158.8px;top:205.3px"></div>
<div class="mt" style="left:153px;top:200.3px"></div><div class="mt" style="left:158.8px;top:200.3px"></div>
<div class="mt" style="left:153px;top:196.0px"></div><div class="mt" style="left:158.8px;top:196.0px"></div>
<div class="mt" style="left:153px;top:192.1px"></div><div class="mt" style="left:158.8px;top:192.1px"></div>
<div class="Mt" style="left:153px;top:263.6px"></div><div class="Mt" style="left:157.6px;top:263.6px"></div>
<div class="tk" style="left:166px;top:186.4px">10<sup>1</sup></div>
<div class="tk" style="left:166px;top:261.4px">10<sup>0</sup></div>
<div class="tk" style="left:166px;top:336.4px">10<sup>&minus;1</sup></div>
<div class="al" style="left:182.5px;top:260.5px">A</div>
<div class="ttl" style="left:0px;top:176.7px"><span><b>A5:</b> <i>&beta;</i><sub>0</sub> = 200, <i>&nu;<sub>S</sub></i> = 10<sup>3</sup></span></div>
<div class="pn" style="left:205px;top:189px"><svg width="150" height="150" viewBox="0 0 150 150"><defs><filter id="blA1" x="-20" y="-20" width="190" height="190" filterUnits="userSpaceOnUse"><feGaussianBlur stdDeviation="3.5" result="b"/><feTurbulence type="fractalNoise" baseFrequency="0.07" numOctaves="2" seed="7" result="t"/><feDisplacementMap in="b" in2="t" scale="11" xChannelSelector="R" yChannelSelector="G"/></filter><filter id="sbA1" x="-20" y="-20" width="190" height="190" filterUnits="userSpaceOnUse"><feGaussianBlur stdDeviation="0.55"/></filter><filter id="soA1" x="-20" y="-20" width="190" height="190" filterUnits="userSpaceOnUse"><feGaussianBlur stdDeviation="1.4"/></filter></defs><g filter="url(#blA1)"><rect x="-10.00" y="-10.00" width="10.30" height="10.30" fill="#fb9e9e"/><rect x="0.00" y="-10.00" width="10.30" height="10.30" fill="#fb9e9e"/><rect x="10.00" y="-10.00" width="10.30" height="10.30" fill="#fecfcf"/><rect x="20.00" y="-10.00" width="10.30" height="10.30" fill="#d2d2fe"/><rect x="30.00" y="-10.00" width="10.30" height="10.30" fill="#fecfcf"/><rect x="40.00" y="-10.00" width="10.30" height="10.30" fill="#e9e9ff"/><rect x="50.00" y="-10.00" width="10.30" height="10.30" fill="#fecfcf"/><rect x="60.00" y="-10.00" width="10.30" height="10.30" fill="#f76a6a"/><rect x="70.00" y="-10.00" width="10.30" height="10.30" fill="#fb9e9e"/><rect x="80.00" y="-10.00" width="10.30" height="10.30" fill="#d2d2fe"/><rect x="90.00" y="-10.00" width="10.30" height="10.30" fill="#fecfcf"/><rect x="100.00" y="-10.00" width="10.30" height="10.30" fill="#fecfcf"/><rect x="110.00" y="-10.00" width="10.30" height="10.30" fill="#fb9e9e"/><rect x="120.00" y="-10.00" width="10.30" height="10.30" fill="#fb9e9e"/><rect x="130.00" y="-10.00" width="10.30" height="10.30" fill="#fecfcf"/><rect x="140.00" y="-10.00" width="10.30" height="10.30" fill="#fecfcf"/><rect x="150.00" y="-10.00" width="10.30" height="10.30" fill="#fecfcf"/><rect x="-10.00" y="0.00" width="10.30" height="10.30" fill="#fb9e9e"/><rect x="0.00" y="0.00" width="10.30" height="10.30" fill="#fb9e9e"/><rect x="10.00" y="0.00" width="10.30" height="10.30" fill="#fecfcf"/><rect x="20.00" y="0.00" width="10.30" height="10.30" fill="#d2d2fe"/><rect x="30.00" y="0.00" width="10.30" height="10.30" fill="#fecfcf"/><rect x="40.00" y="0.00" width="10.30" height="10.30" fill="#e9e9ff"/><rect x="50.00" y="0.00" width="10.30" height="10.30" fill="#fecfcf"/><rect x="60.00" y="0.00" width="10.30" height="10.30" fill="#f76a6a"/><rect x="70.00" y="0.00" width="10.30" height="10.30" fill="#fb9e9e"/><rect x="80.00" y="0.00" width="10.30" height="10.30" fill="#d2d2fe"/><rect x="90.00" y="0.00" width="10.30" height="10.30" fill="#fecfcf"/><rect x="100.00" y="0.00" width="10.30" height="10.30" fill="#fecfcf"/><rect x="110.00" y="0.00" width="10.30" height="10.30" fill="#fb9e9e"/><rect x="120.00" y="0.00" width="10.30" height="10.30" fill="#fb9e9e"/><rect x="130.00" y="0.00" width="10.30" height="10.30" fill="#fecfcf"/><rect x="140.00" y="0.00" width="10.30" height="10.30" fill="#fecfcf"/><rect x="150.00" y="0.00" width="10.30" height="10.30" fill="#fecfcf"/><rect x="-10.00" y="10.00" width="10.30" height="10.30" fill="#f76a6a"/><rect x="0.00" y="10.00" width="10.30" height="10.30" fill="#f76a6a"/><rect x="10.00" y="10.00" width="10.30" height="10.30" fill="#fb9e9e"/><rect x="20.00" y="10.00" width="10.30" height="10.30" fill="#ffffff"/><rect x="30.00" y="10.00" width="10.30" height="10.30" fill="#ffe7e7"/><rect x="40.00" y="10.00" width="10.30" height="10.30" fill="#f76a6a"/><rect x="50.00" y="10.00" width="10.30" height="10.30" fill="#f76a6a"/><rect x="60.00" y="10.00" width="10.30" height="10.30" fill="#fb9e9e"/><rect x="70.00" y="10.00" width="10.30" height="10.30" fill="#fcb7b7"/><rect x="80.00" y="10.00" width="10.30" height="10.30" fill="#ffe7e7"/><rect x="90.00" y="10.00" width="10.30" height="10.30" fill="#ffe7e7"/><rect x="100.00" y="10.00" width="10.30" height="10.30" fill="#ffe7e7"/><rect x="110.00" y="10.00" width="10.30" height="10.30" fill="#e9e9ff"/><rect x="120.00" y="10.00" width="10.30" height="10.30" fill="#fb9e9e"/><rect x="130.00" y="10.00" width="10.30" height="10.30" fill="#fb9e9e"/><rect x="140.00" y="10.00" width="10.30" height="10.30" fill="#fecfcf"/><rect x="150.00" y="10.00" width="10.30" height="10.30" fill="#fecfcf"/><rect x="-10.00" y="20.00" width="10.30" height="10.30" fill="#fecfcf"/><rect x="0.00" y="20.00" width="10.30" height="10.30" fill="#fecfcf"/><rect x="10.00" y="20.00" width="10.30" height="10.30" fill="#d2d2fe"/><rect x="20.00" y="20.00" width="10.30" height="10.30" fill="#d2d2fe"/><rect x="30.00" y="20.00" width="10.30" height="10.30" fill="#ffffff"/><rect x="40.00" y="20.00" width="10.30" height="10.30" fill="#fecfcf"/><rect x="50.00" y="20.00" width="10.30" height="10.30" fill="#ffe7e7"/><rect x="60.00" y="20.00" width="10.30" height="10.30" fill="#fcb7b7"/><rect x="70.00" y="20.00" width="10.30" height="10.30" fill="#fecfcf"/><rect x="80.00" y="20.00" width="10.30" height="10.30" fill="#fecfcf"/><rect x="90.00" y="20.00" width="10.30" height="10.30" fill="#ffffff"/><rect x="100.00" y="20.00" width="10.30" height="10.30" fill="#fecfcf"/><rect x="110.00" y="20.00" width="10.30" height="10.30" fill="#ffffff"/><rect x="120.00" y="20.00" width="10.30" height="10.30" fill="#fecfcf"/><rect x="130.00" y="20.00" width="10.30" height="10.30" fill="#fecfcf"/><rect x="140.00" y="20.00" width="10.30" height="10.30" fill="#ffe7e7"/><rect x="150.00" y="20.00" width="10.30" height="10.30" fill="#ffe7e7"/><rect x="-10.00" y="30.00" width="10.30" height="10.30" fill="#fb9e9e"/><rect x="0.00" y="30.00" width="10.30" height="10.30" fill="#fb9e9e"/><rect x="10.00" y="30.00" width="10.30" height="10.30" fill="#f76a6a"/><rect x="20.00" y="30.00" width="10.30" height="10.30" fill="#fb9e9e"/><rect x="30.00" y="30.00" width="10.30" height="10.30" fill="#fb9e9e"/><rect x="40.00" y="30.00" width="10.30" height="10.30" fill="#fb9e9e"/><rect x="50.00" y="30.00" width="10.30" height="10.30" fill="#d2d2fe"/><rect x="60.00" y="30.00" width="10.30" height="10.30" fill="#fb9e9e"/><rect x="70.00" y="30.00" width="10.30" height="10.30" fill="#fecfcf"/><rect x="80.00" y="30.00" width="10.30" height="10.30" fill="#ffe7e7"/><rect x="90.00" y="30.00" width="10.30" height="10.30" fill="#ffe7e7"/><rect x="100.00" y="30.00" width="10.30" height="10.30" fill="#d2d2fe"/><rect x="110.00" y="30.00" width="10.30" height="10.30" fill="#e9e9ff"/><rect x="120.00" y="30.00" width="10.30" height="10.30" fill="#fecfcf"/><rect x="130.00" y="30.00" width="10.30" height="10.30" fill="#ffe7e7"/><rect x="140.00" y="30.00" width="10.30" height="10.30" fill="#fecfcf"/><rect x="150.00" y="30.00" width="10.30" height="10.30" fill="#fecfcf"/><rect x="-10.00" y="40.00" width="10.30" height="10.30" fill="#ffe7e7"/><rect x="0.00" y="40.00" width="10.30" height="10.30" fill="#ffe7e7"/><rect x="10.00" y="40.00" width="10.30" height="10.30" fill="#fecfcf"/><rect x="20.00" y="40.00" width="10.30" height="10.30" fill="#ffe7e7"/><rect x="30.00" y="40.00" width="10.30" height="10.30" fill="#ffffff"/><rect x="40.00" y="40.00" width="10.30" height="10.30" fill="#fecfcf"/><rect x="50.00" y="40.00" width="10.30" height="10.30" fill="#d2d2fe"/><rect x="60.00" y="40.00" width="10.30" height="10.30" fill="#fb9e9e"/><rect x="70.00" y="40.00" width="10.30" height="10.30" fill="#fb9e9e"/><rect x="80.00" y="40.00" width="10.30" height="10.30" fill="#e9e9ff"/><rect x="90.00" y="40.00" width="10.30" height="10.30" fill="#fecfcf"/><rect x="100.00" y="40.00" width="10.30" height="10.30" fill="#d2d2fe"/><rect x="110.00" y="40.00" width="10.30" height="10.30" fill="#a2a2fc"/><rect x="120.00" y="40.00" width="10.30" height="10.30" fill="#fecfcf"/><rect x="130.00" y="40.00" width="10.30" height="10.30" fill="#ffe7e7"/><rect x="140.00" y="40.00" width="10.30" height="10.30" fill="#fecfcf"/><rect x="150.00" y="40.00" width="10.30" height="10.30" fill="#fecfcf"/><rect x="-10.00" y="50.00" width="10.30" height="10.30" fill="#ffe7e7"/><rect x="0.00" y="50.00" width="10.30" height="10.30" fill="#ffe7e7"/><rect x="10.00" y="50.00" width="10.30" height="10.30" fill="#d2d2fe"/><rect x="20.00" y="50.00" width="10.30" height="10.30" fill="#ffe7e7"/><rect x="30.00" y="50.00" width="10.30" height="10.30" fill="#e9e9ff"/><rect x="40.00" y="50.00" width="10.30" height="10.30" fill="#f76a6a"/><rect x="50.00" y="50.00" width="10.30" height="10.30" fill="#fb9e9e"/><rect x="60.00" y="50.00" width="10.30" height="10.30" fill="#e9e9ff"/><rect x="70.00" y="50.00" width="10.30" height="10.30" fill="#fecfcf"/><rect x="80.00" y="50.00" width="10.30" height="10.30" fill="#fecfcf"/><rect x="90.00" y="50.00" width="10.30" height="10.30" fill="#fecfcf"/><rect x="100.00" y="50.00" width="10.30" height="10.30" fill="#ffe7e7"/><rect x="110.00" y="50.00" width="10.30" height="10.30" fill="#ffe7e7"/><rect x="120.00" y="50.00" width="10.30" height="10.30" fill="#d2d2fe"/><rect x="130.00" y="50.00" width="10.30" height="10.30" fill="#ffffff"/><rect x="140.00" y="50.00" width="10.30" height="10.30" fill="#fecfcf"/><rect x="150.00" y="50.00" width="10.30" height="10.30" fill="#fecfcf"/><rect x="-10.00" y="60.00" width="10.30" height="10.30" fill="#fecfcf"/><rect x="0.00" y="60.00" width="10.30" height="10.30" fill="#fecfcf"/><rect x="10.00" y="60.00" width="10.30" height="10.30" fill="#fb9e9e"/><rect x="20.00" y="60.00" width="10.30" height="10.30" fill="#fb9e9e"/><rect x="30.00" y="60.00" width="10.30" height="10.30" fill="#fb9e9e"/><rect x="40.00" y="60.00" width="10.30" height="10.30" fill="#fb9e9e"/><rect x="50.00" y="60.00" width="10.30" height="10.30" fill="#d2d2fe"/><rect x="60.00" y="60.00" width="10.30" height="10.30" fill="#a2a2fc"/><rect x="70.00" y="60.00" width="10.30" height="10.30" fill="#fecfcf"/><rect x="80.00" y="60.00" width="10.30" height="10.30" fill="#fecfcf"/><rect x="90.00" y="60.00" width="10.30" height="10.30" fill="#ffe7e7"/><rect x="100.00" y="60.00" width="10.30" height="10.30" fill="#fecfcf"/><rect x="110.00" y="60.00" width="10.30" height="10.30" fill="#ffffff"/><rect x="120.00" y="60.00" width="10.30" height="10.30" fill="#fecfcf"/><rect x="130.00" y="60.00" width="10.30" height="10.30" fill="#fecfcf"/><rect x="140.00" y="60.00" width="10.30" height="10.30" fill="#ffe7e7"/><rect x="150.00" y="60.00" width="10.30" height="10.30" fill="#ffe7e7"/><rect x="-10.00" y="70.00" width="10.30" height="10.30" fill="#e9e9ff"/><rect x="0.00" y="70.00" width="10.30" height="10.30" fill="#e9e9ff"/><rect x="10.00" y="70.00" width="10.30" height="10.30" fill="#a2a2fc"/><rect x="20.00" y="70.00" width="10.30" height="10.30" fill="#ffe7e7"/><rect x="30.00" y="70.00" width="10.30" height="10.30" fill="#fb9e9e"/><rect x="40.00" y="70.00" width="10.30" height="10.30" fill="#fecfcf"/><rect x="50.00" y="70.00" width="10.30" height="10.30" fill="#e9e9ff"/><rect x="60.00" y="70.00" width="10.30" height="10.30" fill="#a2a2fc"/><rect x="70.00" y="70.00" width="10.30" height="10.30" fill="#f76a6a"/><rect x="80.00" y="70.00" width="10.30" height="10.30" fill="#f76a6a"/><rect x="90.00" y="70.00" width="10.30" height="10.30" fill="#fb9e9e"/><rect x="100.00" y="70.00" width="10.30" height="10.30" fill="#fb9e9e"/><rect x="110.00" y="70.00" width="10.30" height="10.30" fill="#fecfcf"/><rect x="120.00" y="70.00" width="10.30" height="10.30" fill="#fecfcf"/><rect x="130.00" y="70.00" width="10.30" height="10.30" fill="#ffffff"/><rect x="140.00" y="70.00" width="10.30" height="10.30" fill="#fecfcf"/><rect x="150.00" y="70.00" width="10.30" height="10.30" fill="#fecfcf"/><rect x="-10.00" y="80.00" width="10.30" height="10.30" fill="#d2d2fe"/><rect x="0.00" y="80.00" width="10.30" height="10.30" fill="#d2d2fe"/><rect x="10.00" y="80.00" width="10.30" height="10.30" fill="#d2d2fe"/><rect x="20.00" y="80.00" width="10.30" height="10.30" fill="#ffe7e7"/><rect x="30.00" y="80.00" width="10.30" height="10.30" fill="#fecfcf"/><rect x="40.00" y="80.00" width="10.30" height="10.30" fill="#fecfcf"/><rect x="50.00" y="80.00" width="10.30" height="10.30" fill="#ffffff"/><rect x="60.00" y="80.00" width="10.30" height="10.30" fill="#a2a2fc"/><rect x="70.00" y="80.00" width="10.30" height="10.30" fill="#fb9e9e"/><rect x="80.00" y="80.00" width="10.30" height="10.30" fill="#fb9e9e"/><rect x="90.00" y="80.00" width="10.30" height="10.30" fill="#a2a2fc"/><rect x="100.00" y="80.00" width="10.30" height="10.30" fill="#f76a6a"/><rect x="110.00" y="80.00" width="10.30" height="10.30" fill="#fb9e9e"/><rect x="120.00" y="80.00" width="10.30" height="10.30" fill="#ffffff"/><rect x="130.00" y="80.00" width="10.30" height="10.30" fill="#fecfcf"/><rect x="140.00" y="80.00" width="10.30" height="10.30" fill="#fecfcf"/><rect x="150.00" y="80.00" width="10.30" height="10.30" fill="#fecfcf"/><rect x="-10.00" y="90.00" width="10.30" height="10.30" fill="#e9e9ff"/><rect x="0.00" y="90.00" width="10.30" height="10.30" fill="#e9e9ff"/><rect x="10.00" y="90.00" width="10.30" height="10.30" fill="#e9e9ff"/><rect x="20.00" y="90.00" width="10.30" height="10.30" fill="#fecfcf"/><rect x="30.00" y="90.00" width="10.30" height="10.30" fill="#fecfcf"/><rect x="40.00" y="90.00" width="10.30" height="10.30" fill="#ffe7e7"/><rect x="50.00" y="90.00" width="10.30" height="10.30" fill="#d2d2fe"/><rect x="60.00" y="90.00" width="10.30" height="10.30" fill="#e9e9ff"/><rect x="70.00" y="90.00" width="10.30" height="10.30" fill="#ffe7e7"/><rect x="80.00" y="90.00" width="10.30" height="10.30" fill="#fecfcf"/><rect x="90.00" y="90.00" width="10.30" height="10.30" fill="#ffffff"/><rect x="100.00" y="90.00" width="10.30" height="10.30" fill="#fecfcf"/><rect x="110.00" y="90.00" width="10.30" height="10.30" fill="#ffe7e7"/><rect x="120.00" y="90.00" width="10.30" height="10.30" fill="#d2d2fe"/><rect x="130.00" y="90.00" width="10.30" height="10.30" fill="#ffffff"/><rect x="140.00" y="90.00" width="10.30" height="10.30" fill="#fecfcf"/><rect x="150.00" y="90.00" width="10.30" height="10.30" fill="#fecfcf"/><rect x="-10.00" y="100.00" width="10.30" height="10.30" fill="#ffe7e7"/><rect x="0.00" y="100.00" width="10.30" height="10.30" fill="#ffe7e7"/><rect x="10.00" y="100.00" width="10.30" height="10.30" fill="#d2d2fe"/><rect x="20.00" y="100.00" width="10.30" height="10.30" fill="#e9e9ff"/><rect x="30.00" y="100.00" width="10.30" height="10.30" fill="#ffe7e7"/><rect x="40.00" y="100.00" width="10.30" height="10.30" fill="#e9e9ff"/><rect x="50.00" y="100.00" width="10.30" height="10.30" fill="#fecfcf"/><rect x="60.00" y="100.00" width="10.30" height="10.30" fill="#ffe7e7"/><rect x="70.00" y="100.00" width="10.30" height="10.30" fill="#ffffff"/><rect x="80.00" y="100.00" width="10.30" height="10.30" fill="#e9e9ff"/><rect x="90.00" y="100.00" width="10.30" height="10.30" fill="#fecfcf"/><rect x="100.00" y="100.00" width="10.30" height="10.30" fill="#ffffff"/><rect x="110.00" y="100.00" width="10.30" height="10.30" fill="#ffe7e7"/><rect x="120.00" y="100.00" width="10.30" height="10.30" fill="#fecfcf"/><rect x="130.00" y="100.00" width="10.30" height="10.30" fill="#f76a6a"/><rect x="140.00" y="100.00" width="10.30" height="10.30" fill="#f76a6a"/><rect x="150.00" y="100.00" width="10.30" height="10.30" fill="#f76a6a"/><rect x="-10.00" y="110.00" width="10.30" height="10.30" fill="#e9e9ff"/><rect x="0.00" y="110.00" width="10.30" height="10.30" fill="#e9e9ff"/><rect x="10.00" y="110.00" width="10.30" height="10.30" fill="#d2d2fe"/><rect x="20.00" y="110.00" width="10.30" height="10.30" fill="#ffffff"/><rect x="30.00" y="110.00" width="10.30" height="10.30" fill="#d2d2fe"/><rect x="40.00" y="110.00" width="10.30" height="10.30" fill="#ffe7e7"/><rect x="50.00" y="110.00" width="10.30" height="10.30" fill="#fb9e9e"/><rect x="60.00" y="110.00" width="10.30" height="10.30" fill="#f76a6a"/><rect x="70.00" y="110.00" width="10.30" height="10.30" fill="#fb9e9e"/><rect x="80.00" y="110.00" width="10.30" height="10.30" fill="#fcb7b7"/><rect x="90.00" y="110.00" width="10.30" height="10.30" fill="#e9e9ff"/><rect x="100.00" y="110.00" width="10.30" height="10.30" fill="#fb9e9e"/><rect x="110.00" y="110.00" width="10.30" height="10.30" fill="#ffe7e7"/><rect x="120.00" y="110.00" width="10.30" height="10.30" fill="#e9e9ff"/><rect x="130.00" y="110.00" width="10.30" height="10.30" fill="#fb9e9e"/><rect x="140.00" y="110.00" width="10.30" height="10.30" fill="#fb9e9e"/><rect x="150.00" y="110.00" width="10.30" height="10.30" fill="#fb9e9e"/><rect x="-10.00" y="120.00" width="10.30" height="10.30" fill="#ffe7e7"/><rect x="0.00" y="120.00" width="10.30" height="10.30" fill="#ffe7e7"/><rect x="10.00" y="120.00" width="10.30" height="10.30" fill="#d2d2fe"/><rect x="20.00" y="120.00" width="10.30" height="10.30" fill="#d2d2fe"/><rect x="30.00" y="120.00" width="10.30" height="10.30" fill="#ffe7e7"/><rect x="40.00" y="120.00" width="10.30" height="10.30" fill="#ffe7e7"/><rect x="50.00" y="120.00" width="10.30" height="10.30" fill="#e9e9ff"/><rect x="60.00" y="120.00" width="10.30" height="10.30" fill="#ffe7e7"/><rect x="70.00" y="120.00" width="10.30" height="10.30" fill="#fb9e9e"/><rect x="80.00" y="120.00" width="10.30" height="10.30" fill="#f76a6a"/><rect x="90.00" y="120.00" width="10.30" height="10.30" fill="#f76a6a"/><rect x="100.00" y="120.00" width="10.30" height="10.30" fill="#fb9e9e"/><rect x="110.00" y="120.00" width="10.30" height="10.30" fill="#fcb7b7"/><rect x="120.00" y="120.00" width="10.30" height="10.30" fill="#d2d2fe"/><rect x="130.00" y="120.00" width="10.30" height="10.30" fill="#ffffff"/><rect x="140.00" y="120.00" width="10.30" height="10.30" fill="#fecfcf"/><rect x="150.00" y="120.00" width="10.30" height="10.30" fill="#fecfcf"/><rect x="-10.00" y="130.00" width="10.30" height="10.30" fill="#ffe7e7"/><rect x="0.00" y="130.00" width="10.30" height="10.30" fill="#ffe7e7"/><rect x="10.00" y="130.00" width="10.30" height="10.30" fill="#e9e9ff"/><rect x="20.00" y="130.00" width="10.30" height="10.30" fill="#d2d2fe"/><rect x="30.00" y="130.00" width="10.30" height="10.30" fill="#fecfcf"/><rect x="40.00" y="130.00" width="10.30" height="10.30" fill="#d2d2fe"/><rect x="50.00" y="130.00" width="10.30" height="10.30" fill="#ffe7e7"/><rect x="60.00" y="130.00" width="10.30" height="10.30" fill="#ffe7e7"/><rect x="70.00" y="130.00" width="10.30" height="10.30" fill="#ffffff"/><rect x="80.00" y="130.00" width="10.30" height="10.30" fill="#fb9e9e"/><rect x="90.00" y="130.00" width="10.30" height="10.30" fill="#f76a6a"/><rect x="100.00" y="130.00" width="10.30" height="10.30" fill="#fb9e9e"/><rect x="110.00" y="130.00" width="10.30" height="10.30" fill="#f76a6a"/><rect x="120.00" y="130.00" width="10.30" height="10.30" fill="#ee3232"/><rect x="130.00" y="130.00" width="10.30" height="10.30" fill="#fb9e9e"/><rect x="140.00" y="130.00" width="10.30" height="10.30" fill="#fecfcf"/><rect x="150.00" y="130.00" width="10.30" height="10.30" fill="#fecfcf"/><rect x="-10.00" y="140.00" width="10.30" height="10.30" fill="#fecfcf"/><rect x="0.00" y="140.00" width="10.30" height="10.30" fill="#fecfcf"/><rect x="10.00" y="140.00" width="10.30" height="10.30" fill="#e9e9ff"/><rect x="20.00" y="140.00" width="10.30" height="10.30" fill="#ffffff"/><rect x="30.00" y="140.00" width="10.30" height="10.30" fill="#fecfcf"/><rect x="40.00" y="140.00" width="10.30" height="10.30" fill="#e9e9ff"/><rect x="50.00" y="140.00" width="10.30" height="10.30" fill="#ffffff"/><rect x="60.00" y="140.00" width="10.30" height="10.30" fill="#fecfcf"/><rect x="70.00" y="140.00" width="10.30" height="10.30" fill="#ffffff"/><rect x="80.00" y="140.00" width="10.30" height="10.30" fill="#fecfcf"/><rect x="90.00" y="140.00" width="10.30" height="10.30" fill="#fb9e9e"/><rect x="100.00" y="140.00" width="10.30" height="10.30" fill="#fb9e9e"/><rect x="110.00" y="140.00" width="10.30" height="10.30" fill="#ee3232"/><rect x="120.00" y="140.00" width="10.30" height="10.30" fill="#d60909"/><rect x="130.00" y="140.00" width="10.30" height="10.30" fill="#fb9e9e"/><rect x="140.00" y="140.00" width="10.30" height="10.30" fill="#fecfcf"/><rect x="150.00" y="140.00" width="10.30" height="10.30" fill="#fecfcf"/><rect x="-10.00" y="150.00" width="10.30" height="10.30" fill="#fecfcf"/><rect x="0.00" y="150.00" width="10.30" height="10.30" fill="#fecfcf"/><rect x="10.00" y="150.00" width="10.30" height="10.30" fill="#e9e9ff"/><rect x="20.00" y="150.00" width="10.30" height="10.30" fill="#ffffff"/><rect x="30.00" y="150.00" width="10.30" height="10.30" fill="#fecfcf"/><rect x="40.00" y="150.00" width="10.30" height="10.30" fill="#e9e9ff"/><rect x="50.00" y="150.00" width="10.30" height="10.30" fill="#ffffff"/><rect x="60.00" y="150.00" width="10.30" height="10.30" fill="#fecfcf"/><rect x="70.00" y="150.00" width="10.30" height="10.30" fill="#ffffff"/><rect x="80.00" y="150.00" width="10.30" height="10.30" fill="#fecfcf"/><rect x="90.00" y="150.00" width="10.30" height="10.30" fill="#fb9e9e"/><rect x="100.00" y="150.00" width="10.30" height="10.30" fill="#fb9e9e"/><rect x="110.00" y="150.00" width="10.30" height="10.30" fill="#ee3232"/><rect x="120.00" y="150.00" width="10.30" height="10.30" fill="#d60909"/><rect x="130.00" y="150.00" width="10.30" height="10.30" fill="#fb9e9e"/><rect x="140.00" y="150.00" width="10.30" height="10.30" fill="#fecfcf"/><rect x="150.00" y="150.00" width="10.30" height="10.30" fill="#fecfcf"/></g><g filter="url(#soA1)"></g><g filter="url(#sbA1)"></g></svg></div>
<div class="bd" style="left:205px;top:189px"></div>
<div class="cb" style="left:357px;top:189px"></div>
<div class="mt" style="left:358px;top:316.1px"></div><div class="mt" style="left:363.8px;top:316.1px"></div>
<div class="mt" style="left:358px;top:302.9px"></div><div class="mt" style="left:363.8px;top:302.9px"></div>
<div class="mt" style="left:358px;top:293.5px"></div><div class="mt" style="left:363.8px;top:293.5px"></div>
<div class="mt" style="left:358px;top:286.3px"></div><div class="mt" style="left:363.8px;top:286.3px"></div>
<div class="mt" style="left:358px;top:280.3px"></div><div class="mt" style="left:363.8px;top:280.3px"></div>
<div class="mt" style="left:358px;top:275.3px"></div><div class="mt" style="left:363.8px;top:275.3px"></div>
<div class="mt" style="left:358px;top:271.0px"></div><div class="mt" style="left:363.8px;top:271.0px"></div>
<div class="mt" style="left:358px;top:267.1px"></div><div class="mt" style="left:363.8px;top:267.1px"></div>
<div class="mt" style="left:358px;top:241.1px"></div><div class="mt" style="left:363.8px;top:241.1px"></div>
<div class="mt" style="left:358px;top:227.9px"></div><div class="mt" style="left:363.8px;top:227.9px"></div>
<div class="mt" style="left:358px;top:218.5px"></div><div class="mt" style="left:363.8px;top:218.5px"></div>
<div class="mt" style="left:358px;top:211.3px"></div><div class="mt" style="left:363.8px;top:211.3px"></div>
<div class="mt" style="left:358px;top:205.3px"></div><div class="mt" style="left:363.8px;top:205.3px"></div>
<div class="mt" style="left:358px;top:200.3px"></div><div class="mt" style="left:363.8px;top:200.3px"></div>
<div class="mt" style="left:358px;top:196.0px"></div><div class="mt" style="left:363.8px;top:196.0px"></div>
<div class="mt" style="left:358px;top:192.1px"></div><div class="mt" style="left:363.8px;top:192.1px"></div>
<div class="Mt" style="left:358px;top:263.6px"></div><div class="Mt" style="left:362.6px;top:263.6px"></div>
<div class="tk" style="left:371px;top:186.4px">10<sup>1</sup></div>
<div class="tk" style="left:371px;top:261.4px">10<sup>0</sup></div>
<div class="tk" style="left:371px;top:336.4px">10<sup>&minus;1</sup></div>
<div class="al" style="left:387.5px;top:260.5px">A</div>
<div class="ttl" style="left:205px;top:176.7px"><span><b>A1:</b> <i>&beta;</i><sub>0</sub> = 200, <i>&nu;<sub>S</sub></i> = &infin;</span></div>
<div class="pn" style="left:410px;top:189px"><svg width="150" height="150" viewBox="0 0 150 150"><defs><filter id="blB1" x="-20" y="-20" width="190" height="190" filterUnits="userSpaceOnUse"><feGaussianBlur stdDeviation="3.5"/></filter><filter id="sbB1" x="-20" y="-20" width="190" height="190" filterUnits="userSpaceOnUse"><feGaussianBlur stdDeviation="0.55"/></filter><filter id="soB1" x="-20" y="-20" width="190" height="190" filterUnits="userSpaceOnUse"><feGaussianBlur stdDeviation="1.4"/></filter></defs><g filter="url(#blB1)"><rect x="-10.00" y="-10.00" width="10.30" height="10.30" fill="#f14444"/><rect x="0.00" y="-10.00" width="10.30" height="10.30" fill="#f14444"/><rect x="10.00" y="-10.00" width="10.30" height="10.30" fill="#d40808"/><rect x="20.00" y="-10.00" width="10.30" height="10.30" fill="#f87777"/><rect x="30.00" y="-10.00" width="10.30" height="10.30" fill="#d6d6ff"/><rect x="40.00" y="-10.00" width="10.30" height="10.30" fill="#7c7cf8"/><rect x="50.00" y="-10.00" width="10.30" height="10.30" fill="#6565f5"/><rect x="60.00" y="-10.00" width="10.30" height="10.30" fill="#4e4ef0"/><rect x="70.00" y="-10.00" width="10.30" height="10.30" fill="#4e4ef0"/><rect x="80.00" y="-10.00" width="10.30" height="10.30" fill="#9393fa"/><rect x="90.00" y="-10.00" width="10.30" height="10.30" fill="#ffe9e9"/><rect x="100.00" y="-10.00" width="10.30" height="10.30" fill="#f87777"/><rect x="110.00" y="-10.00" width="10.30" height="10.30" fill="#f14444"/><rect x="120.00" y="-10.00" width="10.30" height="10.30" fill="#f87777"/><rect x="130.00" y="-10.00" width="10.30" height="10.30" fill="#f14444"/><rect x="140.00" y="-10.00" width="10.30" height="10.30" fill="#eb2b2b"/><rect x="150.00" y="-10.00" width="10.30" height="10.30" fill="#eb2b2b"/><rect x="-10.00" y="0.00" width="10.30" height="10.30" fill="#f14444"/><rect x="0.00" y="0.00" width="10.30" height="10.30" fill="#f14444"/><rect x="10.00" y="0.00" width="10.30" height="10.30" fill="#d40808"/><rect x="20.00" y="0.00" width="10.30" height="10.30" fill="#f87777"/><rect x="30.00" y="0.00" width="10.30" height="10.30" fill="#d6d6ff"/><rect x="40.00" y="0.00" width="10.30" height="10.30" fill="#7c7cf8"/><rect x="50.00" y="0.00" width="10.30" height="10.30" fill="#6565f5"/><rect x="60.00" y="0.00" width="10.30" height="10.30" fill="#4e4ef0"/><rect x="70.00" y="0.00" width="10.30" height="10.30" fill="#4e4ef0"/><rect x="80.00" y="0.00" width="10.30" height="10.30" fill="#9393fa"/><rect x="90.00" y="0.00" width="10.30" height="10.30" fill="#ffe9e9"/><rect x="100.00" y="0.00" width="10.30" height="10.30" fill="#f87777"/><rect x="110.00" y="0.00" width="10.30" height="10.30" fill="#f14444"/><rect x="120.00" y="0.00" width="10.30" height="10.30" fill="#f87777"/><rect x="130.00" y="0.00" width="10.30" height="10.30" fill="#f14444"/><rect x="140.00" y="0.00" width="10.30" height="10.30" fill="#eb2b2b"/><rect x="150.00" y="0.00" width="10.30" height="10.30" fill="#eb2b2b"/><rect x="-10.00" y="10.00" width="10.30" height="10.30" fill="#c30101"/><rect x="0.00" y="10.00" width="10.30" height="10.30" fill="#c30101"/><rect x="10.00" y="10.00" width="10.30" height="10.30" fill="#c30101"/><rect x="20.00" y="10.00" width="10.30" height="10.30" fill="#e21616"/><rect x="30.00" y="10.00" width="10.30" height="10.30" fill="#d6d6ff"/><rect x="40.00" y="10.00" width="10.30" height="10.30" fill="#7c7cf8"/><rect x="50.00" y="10.00" width="10.30" height="10.30" fill="#4e4ef0"/><rect x="60.00" y="10.00" width="10.30" height="10.30" fill="#3838ea"/><rect x="70.00" y="10.00" width="10.30" height="10.30" fill="#3838ea"/><rect x="80.00" y="10.00" width="10.30" height="10.30" fill="#4e4ef0"/><rect x="90.00" y="10.00" width="10.30" height="10.30" fill="#ffffff"/><rect x="100.00" y="10.00" width="10.30" height="10.30" fill="#f87777"/><rect x="110.00" y="10.00" width="10.30" height="10.30" fill="#f87777"/><rect x="120.00" y="10.00" width="10.30" height="10.30" fill="#fba6a6"/><rect x="130.00" y="10.00" width="10.30" height="10.30" fill="#f65e5e"/><rect x="140.00" y="10.00" width="10.30" height="10.30" fill="#e21616"/><rect x="150.00" y="10.00" width="10.30" height="10.30" fill="#e21616"/><rect x="-10.00" y="20.00" width="10.30" height="10.30" fill="#c30101"/><rect x="0.00" y="20.00" width="10.30" height="10.30" fill="#c30101"/><rect x="10.00" y="20.00" width="10.30" height="10.30" fill="#c30101"/><rect x="20.00" y="20.00" width="10.30" height="10.30" fill="#eb2b2b"/><rect x="30.00" y="20.00" width="10.30" height="10.30" fill="#ebebff"/><rect x="40.00" y="20.00" width="10.30" height="10.30" fill="#7c7cf8"/><rect x="50.00" y="20.00" width="10.30" height="10.30" fill="#6565f5"/><rect x="60.00" y="20.00" width="10.30" height="10.30" fill="#4e4ef0"/><rect x="70.00" y="20.00" width="10.30" height="10.30" fill="#3838ea"/><rect x="80.00" y="20.00" width="10.30" height="10.30" fill="#4e4ef0"/><rect x="90.00" y="20.00" width="10.30" height="10.30" fill="#d6d6ff"/><rect x="100.00" y="20.00" width="10.30" height="10.30" fill="#f87777"/><rect x="110.00" y="20.00" width="10.30" height="10.30" fill="#f87777"/><rect x="120.00" y="20.00" width="10.30" height="10.30" fill="#f87777"/><rect x="130.00" y="20.00" width="10.30" height="10.30" fill="#f14444"/><rect x="140.00" y="20.00" width="10.30" height="10.30" fill="#c30101"/><rect x="150.00" y="20.00" width="10.30" height="10.30" fill="#c30101"/><rect x="-10.00" y="30.00" width="10.30" height="10.30" fill="#eb2b2b"/><rect x="0.00" y="30.00" width="10.30" height="10.30" fill="#eb2b2b"/><rect x="10.00" y="30.00" width="10.30" height="10.30" fill="#f14444"/><rect x="20.00" y="30.00" width="10.30" height="10.30" fill="#f65e5e"/><rect x="30.00" y="30.00" width="10.30" height="10.30" fill="#ffd3d3"/><rect x="40.00" y="30.00" width="10.30" height="10.30" fill="#aaaafc"/><rect x="50.00" y="30.00" width="10.30" height="10.30" fill="#7c7cf8"/><rect x="60.00" y="30.00" width="10.30" height="10.30" fill="#7c7cf8"/><rect x="70.00" y="30.00" width="10.30" height="10.30" fill="#4e4ef0"/><rect x="80.00" y="30.00" width="10.30" height="10.30" fill="#7c7cf8"/><rect x="90.00" y="30.00" width="10.30" height="10.30" fill="#aaaafc"/><rect x="100.00" y="30.00" width="10.30" height="10.30" fill="#f87777"/><rect x="110.00" y="30.00" width="10.30" height="10.30" fill="#f87777"/><rect x="120.00" y="30.00" width="10.30" height="10.30" fill="#fa8f8f"/><rect x="130.00" y="30.00" width="10.30" height="10.30" fill="#f14444"/><rect x="140.00" y="30.00" width="10.30" height="10.30" fill="#c30101"/><rect x="150.00" y="30.00" width="10.30" height="10.30" fill="#c30101"/><rect x="-10.00" y="40.00" width="10.30" height="10.30" fill="#f65e5e"/><rect x="0.00" y="40.00" width="10.30" height="10.30" fill="#f65e5e"/><rect x="10.00" y="40.00" width="10.30" height="10.30" fill="#f65e5e"/><rect x="20.00" y="40.00" width="10.30" height="10.30" fill="#f87777"/><rect x="30.00" y="40.00" width="10.30" height="10.30" fill="#fa8f8f"/><rect x="40.00" y="40.00" width="10.30" height="10.30" fill="#ffd3d3"/><rect x="50.00" y="40.00" width="10.30" height="10.30" fill="#d6d6ff"/><rect x="60.00" y="40.00" width="10.30" height="10.30" fill="#d6d6ff"/><rect x="70.00" y="40.00" width="10.30" height="10.30" fill="#ffffff"/><rect x="80.00" y="40.00" width="10.30" height="10.30" fill="#d6d6ff"/><rect x="90.00" y="40.00" width="10.30" height="10.30" fill="#aaaafc"/><rect x="100.00" y="40.00" width="10.30" height="10.30" fill="#fa8f8f"/><rect x="110.00" y="40.00" width="10.30" height="10.30" fill="#fdbdbd"/><rect x="120.00" y="40.00" width="10.30" height="10.30" fill="#f87777"/><rect x="130.00" y="40.00" width="10.30" height="10.30" fill="#f14444"/><rect x="140.00" y="40.00" width="10.30" height="10.30" fill="#e21616"/><rect x="150.00" y="40.00" width="10.30" height="10.30" fill="#e21616"/><rect x="-10.00" y="50.00" width="10.30" height="10.30" fill="#fba6a6"/><rect x="0.00" y="50.00" width="10.30" height="10.30" fill="#fba6a6"/><rect x="10.00" y="50.00" width="10.30" height="10.30" fill="#f87777"/><rect x="20.00" y="50.00" width="10.30" height="10.30" fill="#f14444"/><rect x="30.00" y="50.00" width="10.30" height="10.30" fill="#f14444"/><rect x="40.00" y="50.00" width="10.30" height="10.30" fill="#f65e5e"/><rect x="50.00" y="50.00" width="10.30" height="10.30" fill="#f87777"/><rect x="60.00" y="50.00" width="10.30" height="10.30" fill="#fba6a6"/><rect x="70.00" y="50.00" width="10.30" height="10.30" fill="#ffd3d3"/><rect x="80.00" y="50.00" width="10.30" height="10.30" fill="#d6d6ff"/><rect x="90.00" y="50.00" width="10.30" height="10.30" fill="#7c7cf8"/><rect x="100.00" y="50.00" width="10.30" height="10.30" fill="#7c7cf8"/><rect x="110.00" y="50.00" width="10.30" height="10.30" fill="#f87777"/><rect x="120.00" y="50.00" width="10.30" height="10.30" fill="#f14444"/><rect x="130.00" y="50.00" width="10.30" height="10.30" fill="#e21616"/><rect x="140.00" y="50.00" width="10.30" height="10.30" fill="#eb2b2b"/><rect x="150.00" y="50.00" width="10.30" height="10.30" fill="#eb2b2b"/><rect x="-10.00" y="60.00" width="10.30" height="10.30" fill="#c0c0fe"/><rect x="0.00" y="60.00" width="10.30" height="10.30" fill="#c0c0fe"/><rect x="10.00" y="60.00" width="10.30" height="10.30" fill="#ffffff"/><rect x="20.00" y="60.00" width="10.30" height="10.30" fill="#ffe9e9"/><rect x="30.00" y="60.00" width="10.30" height="10.30" fill="#f87777"/><rect x="40.00" y="60.00" width="10.30" height="10.30" fill="#f14444"/><rect x="50.00" y="60.00" width="10.30" height="10.30" fill="#f14444"/><rect x="60.00" y="60.00" width="10.30" height="10.30" fill="#f87777"/><rect x="70.00" y="60.00" width="10.30" height="10.30" fill="#fba6a6"/><rect x="80.00" y="60.00" width="10.30" height="10.30" fill="#d6d6ff"/><rect x="90.00" y="60.00" width="10.30" height="10.30" fill="#aaaafc"/><rect x="100.00" y="60.00" width="10.30" height="10.30" fill="#7c7cf8"/><rect x="110.00" y="60.00" width="10.30" height="10.30" fill="#7c7cf8"/><rect x="120.00" y="60.00" width="10.30" height="10.30" fill="#aaaafc"/><rect x="130.00" y="60.00" width="10.30" height="10.30" fill="#ffd3d3"/><rect x="140.00" y="60.00" width="10.30" height="10.30" fill="#fba6a6"/><rect x="150.00" y="60.00" width="10.30" height="10.30" fill="#fba6a6"/><rect x="-10.00" y="70.00" width="10.30" height="10.30" fill="#3838ea"/><rect x="0.00" y="70.00" width="10.30" height="10.30" fill="#3838ea"/><rect x="10.00" y="70.00" width="10.30" height="10.30" fill="#3838ea"/><rect x="20.00" y="70.00" width="10.30" height="10.30" fill="#7c7cf8"/><rect x="30.00" y="70.00" width="10.30" height="10.30" fill="#ffffff"/><rect x="40.00" y="70.00" width="10.30" height="10.30" fill="#f87777"/><rect x="50.00" y="70.00" width="10.30" height="10.30" fill="#f65e5e"/><rect x="60.00" y="70.00" width="10.30" height="10.30" fill="#f87777"/><rect x="70.00" y="70.00" width="10.30" height="10.30" fill="#fa8f8f"/><rect x="80.00" y="70.00" width="10.30" height="10.30" fill="#fba6a6"/><rect x="90.00" y="70.00" width="10.30" height="10.30" fill="#ffd3d3"/><rect x="100.00" y="70.00" width="10.30" height="10.30" fill="#ffd3d3"/><rect x="110.00" y="70.00" width="10.30" height="10.30" fill="#d6d6ff"/><rect x="120.00" y="70.00" width="10.30" height="10.30" fill="#ffd3d3"/><rect x="130.00" y="70.00" width="10.30" height="10.30" fill="#ffffff"/><rect x="140.00" y="70.00" width="10.30" height="10.30" fill="#7c7cf8"/><rect x="150.00" y="70.00" width="10.30" height="10.30" fill="#7c7cf8"/><rect x="-10.00" y="80.00" width="10.30" height="10.30" fill="#6565f5"/><rect x="0.00" y="80.00" width="10.30" height="10.30" fill="#6565f5"/><rect x="10.00" y="80.00" width="10.30" height="10.30" fill="#6565f5"/><rect x="20.00" y="80.00" width="10.30" height="10.30" fill="#9393fa"/><rect x="30.00" y="80.00" width="10.30" height="10.30" fill="#d6d6ff"/><rect x="40.00" y="80.00" width="10.30" height="10.30" fill="#ffd3d3"/><rect x="50.00" y="80.00" width="10.30" height="10.30" fill="#f65e5e"/><rect x="60.00" y="80.00" width="10.30" height="10.30" fill="#eb2b2b"/><rect x="70.00" y="80.00" width="10.30" height="10.30" fill="#eb2b2b"/><rect x="80.00" y="80.00" width="10.30" height="10.30" fill="#f14444"/><rect x="90.00" y="80.00" width="10.30" height="10.30" fill="#f87777"/><rect x="100.00" y="80.00" width="10.30" height="10.30" fill="#fba6a6"/><rect x="110.00" y="80.00" width="10.30" height="10.30" fill="#aaaafc"/><rect x="120.00" y="80.00" width="10.30" height="10.30" fill="#7c7cf8"/><rect x="130.00" y="80.00" width="10.30" height="10.30" fill="#6565f5"/><rect x="140.00" y="80.00" width="10.30" height="10.30" fill="#6565f5"/><rect x="150.00" y="80.00" width="10.30" height="10.30" fill="#6565f5"/><rect x="-10.00" y="90.00" width="10.30" height="10.30" fill="#c0c0fe"/><rect x="0.00" y="90.00" width="10.30" height="10.30" fill="#c0c0fe"/><rect x="10.00" y="90.00" width="10.30" height="10.30" fill="#c0c0fe"/><rect x="20.00" y="90.00" width="10.30" height="10.30" fill="#aaaafc"/><rect x="30.00" y="90.00" width="10.30" height="10.30" fill="#fdbdbd"/><rect x="40.00" y="90.00" width="10.30" height="10.30" fill="#ffffff"/><rect x="50.00" y="90.00" width="10.30" height="10.30" fill="#c30101"/><rect x="60.00" y="90.00" width="10.30" height="10.30" fill="#9f0000"/><rect x="70.00" y="90.00" width="10.30" height="10.30" fill="#c30101"/><rect x="80.00" y="90.00" width="10.30" height="10.30" fill="#f14444"/><rect x="90.00" y="90.00" width="10.30" height="10.30" fill="#fba6a6"/><rect x="100.00" y="90.00" width="10.30" height="10.30" fill="#d6d6ff"/><rect x="110.00" y="90.00" width="10.30" height="10.30" fill="#aaaafc"/><rect x="120.00" y="90.00" width="10.30" height="10.30" fill="#9393fa"/><rect x="130.00" y="90.00" width="10.30" height="10.30" fill="#9393fa"/><rect x="140.00" y="90.00" width="10.30" height="10.30" fill="#9393fa"/><rect x="150.00" y="90.00" width="10.30" height="10.30" fill="#9393fa"/><rect x="-10.00" y="100.00" width="10.30" height="10.30" fill="#c0c0fe"/><rect x="0.00" y="100.00" width="10.30" height="10.30" fill="#c0c0fe"/><rect x="10.00" y="100.00" width="10.30" height="10.30" fill="#aaaafc"/><rect x="20.00" y="100.00" width="10.30" height="10.30" fill="#ffd3d3"/><rect x="30.00" y="100.00" width="10.30" height="10.30" fill="#fba6a6"/><rect x="40.00" y="100.00" width="10.30" height="10.30" fill="#f87777"/><rect x="50.00" y="100.00" width="10.30" height="10.30" fill="#9f0000"/><rect x="60.00" y="100.00" width="10.30" height="10.30" fill="#8d0000"/><rect x="70.00" y="100.00" width="10.30" height="10.30" fill="#e21616"/><rect x="80.00" y="100.00" width="10.30" height="10.30" fill="#d6d6ff"/><rect x="90.00" y="100.00" width="10.30" height="10.30" fill="#7c7cf8"/><rect x="100.00" y="100.00" width="10.30" height="10.30" fill="#6565f5"/><rect x="110.00" y="100.00" width="10.30" height="10.30" fill="#9393fa"/><rect x="120.00" y="100.00" width="10.30" height="10.30" fill="#c0c0fe"/><rect x="130.00" y="100.00" width="10.30" height="10.30" fill="#ebebff"/><rect x="140.00" y="100.00" width="10.30" height="10.30" fill="#d6d6ff"/><rect x="150.00" y="100.00" width="10.30" height="10.30" fill="#d6d6ff"/><rect x="-10.00" y="110.00" width="10.30" height="10.30" fill="#ffd3d3"/><rect x="0.00" y="110.00" width="10.30" height="10.30" fill="#ffd3d3"/><rect x="10.00" y="110.00" width="10.30" height="10.30" fill="#d6d6ff"/><rect x="20.00" y="110.00" width="10.30" height="10.30" fill="#d6d6ff"/><rect x="30.00" y="110.00" width="10.30" height="10.30" fill="#d6d6ff"/><rect x="40.00" y="110.00" width="10.30" height="10.30" fill="#fba6a6"/><rect x="50.00" y="110.00" width="10.30" height="10.30" fill="#f87777"/><rect x="60.00" y="110.00" width="10.30" height="10.30" fill="#fba6a6"/><rect x="70.00" y="110.00" width="10.30" height="10.30" fill="#d6d6ff"/><rect x="80.00" y="110.00" width="10.30" height="10.30" fill="#ffd3d3"/><rect x="90.00" y="110.00" width="10.30" height="10.30" fill="#d6d6ff"/><rect x="100.00" y="110.00" width="10.30" height="10.30" fill="#aaaafc"/><rect x="110.00" y="110.00" width="10.30" height="10.30" fill="#7c7cf8"/><rect x="120.00" y="110.00" width="10.30" height="10.30" fill="#9393fa"/><rect x="130.00" y="110.00" width="10.30" height="10.30" fill="#aaaafc"/><rect x="140.00" y="110.00" width="10.30" height="10.30" fill="#d6d6ff"/><rect x="150.00" y="110.00" width="10.30" height="10.30" fill="#d6d6ff"/><rect x="-10.00" y="120.00" width="10.30" height="10.30" fill="#f65e5e"/><rect x="0.00" y="120.00" width="10.30" height="10.30" fill="#f65e5e"/><rect x="10.00" y="120.00" width="10.30" height="10.30" fill="#f87777"/><rect x="20.00" y="120.00" width="10.30" height="10.30" fill="#ffffff"/><rect x="30.00" y="120.00" width="10.30" height="10.30" fill="#aaaafc"/><rect x="40.00" y="120.00" width="10.30" height="10.30" fill="#c0c0fe"/><rect x="50.00" y="120.00" width="10.30" height="10.30" fill="#ffd3d3"/><rect x="60.00" y="120.00" width="10.30" height="10.30" fill="#d6d6ff"/><rect x="70.00" y="120.00" width="10.30" height="10.30" fill="#ffffff"/><rect x="80.00" y="120.00" width="10.30" height="10.30" fill="#f87777"/><rect x="90.00" y="120.00" width="10.30" height="10.30" fill="#f14444"/><rect x="100.00" y="120.00" width="10.30" height="10.30" fill="#f14444"/><rect x="110.00" y="120.00" width="10.30" height="10.30" fill="#f87777"/><rect x="120.00" y="120.00" width="10.30" height="10.30" fill="#fba6a6"/><rect x="130.00" y="120.00" width="10.30" height="10.30" fill="#ffd3d3"/><rect x="140.00" y="120.00" width="10.30" height="10.30" fill="#ffffff"/><rect x="150.00" y="120.00" width="10.30" height="10.30" fill="#ffffff"/><rect x="-10.00" y="130.00" width="10.30" height="10.30" fill="#ffffff"/><rect x="0.00" y="130.00" width="10.30" height="10.30" fill="#ffffff"/><rect x="10.00" y="130.00" width="10.30" height="10.30" fill="#d6d6ff"/><rect x="20.00" y="130.00" width="10.30" height="10.30" fill="#c0c0fe"/><rect x="30.00" y="130.00" width="10.30" height="10.30" fill="#9393fa"/><rect x="40.00" y="130.00" width="10.30" height="10.30" fill="#9393fa"/><rect x="50.00" y="130.00" width="10.30" height="10.30" fill="#ffd3d3"/><rect x="60.00" y="130.00" width="10.30" height="10.30" fill="#fba6a6"/><rect x="70.00" y="130.00" width="10.30" height="10.30" fill="#f87777"/><rect x="80.00" y="130.00" width="10.30" height="10.30" fill="#f87777"/><rect x="90.00" y="130.00" width="10.30" height="10.30" fill="#f87777"/><rect x="100.00" y="130.00" width="10.30" height="10.30" fill="#f65e5e"/><rect x="110.00" y="130.00" width="10.30" height="10.30" fill="#e21616"/><rect x="120.00" y="130.00" width="10.30" height="10.30" fill="#e21616"/><rect x="130.00" y="130.00" width="10.30" height="10.30" fill="#f14444"/><rect x="140.00" y="130.00" width="10.30" height="10.30" fill="#f87777"/><rect x="150.00" y="130.00" width="10.30" height="10.30" fill="#f87777"/><rect x="-10.00" y="140.00" width="10.30" height="10.30" fill="#fa8f8f"/><rect x="0.00" y="140.00" width="10.30" height="10.30" fill="#fa8f8f"/><rect x="10.00" y="140.00" width="10.30" height="10.30" fill="#f87777"/><rect x="20.00" y="140.00" width="10.30" height="10.30" fill="#d6d6ff"/><rect x="30.00" y="140.00" width="10.30" height="10.30" fill="#6565f5"/><rect x="40.00" y="140.00" width="10.30" height="10.30" fill="#6565f5"/><rect x="50.00" y="140.00" width="10.30" height="10.30" fill="#aaaafc"/><rect x="60.00" y="140.00" width="10.30" height="10.30" fill="#fba6a6"/><rect x="70.00" y="140.00" width="10.30" height="10.30" fill="#f87777"/><rect x="80.00" y="140.00" width="10.30" height="10.30" fill="#ffd3d3"/><rect x="90.00" y="140.00" width="10.30" height="10.30" fill="#fba6a6"/><rect x="100.00" y="140.00" width="10.30" height="10.30" fill="#f87777"/><rect x="110.00" y="140.00" width="10.30" height="10.30" fill="#eb2b2b"/><rect x="120.00" y="140.00" width="10.30" height="10.30" fill="#eb2b2b"/><rect x="130.00" y="140.00" width="10.30" height="10.30" fill="#f87777"/><rect x="140.00" y="140.00" width="10.30" height="10.30" fill="#fba6a6"/><rect x="150.00" y="140.00" width="10.30" height="10.30" fill="#fba6a6"/><rect x="-10.00" y="150.00" width="10.30" height="10.30" fill="#fa8f8f"/><rect x="0.00" y="150.00" width="10.30" height="10.30" fill="#fa8f8f"/><rect x="10.00" y="150.00" width="10.30" height="10.30" fill="#f87777"/><rect x="20.00" y="150.00" width="10.30" height="10.30" fill="#d6d6ff"/><rect x="30.00" y="150.00" width="10.30" height="10.30" fill="#6565f5"/><rect x="40.00" y="150.00" width="10.30" height="10.30" fill="#6565f5"/><rect x="50.00" y="150.00" width="10.30" height="10.30" fill="#aaaafc"/><rect x="60.00" y="150.00" width="10.30" height="10.30" fill="#fba6a6"/><rect x="70.00" y="150.00" width="10.30" height="10.30" fill="#f87777"/><rect x="80.00" y="150.00" width="10.30" height="10.30" fill="#ffd3d3"/><rect x="90.00" y="150.00" width="10.30" height="10.30" fill="#fba6a6"/><rect x="100.00" y="150.00" width="10.30" height="10.30" fill="#f87777"/><rect x="110.00" y="150.00" width="10.30" height="10.30" fill="#eb2b2b"/><rect x="120.00" y="150.00" width="10.30" height="10.30" fill="#eb2b2b"/><rect x="130.00" y="150.00" width="10.30" height="10.30" fill="#f87777"/><rect x="140.00" y="150.00" width="10.30" height="10.30" fill="#fba6a6"/><rect x="150.00" y="150.00" width="10.30" height="10.30" fill="#fba6a6"/></g><g filter="url(#soB1)"></g><g filter="url(#sbB1)"></g></svg></div>
<div class="bd" style="left:410px;top:189px"></div>
<div class="cb" style="left:562px;top:189px"></div>
<div class="mt" style="left:563px;top:316.1px"></div><div class="mt" style="left:568.8px;top:316.1px"></div>
<div class="mt" style="left:563px;top:302.9px"></div><div class="mt" style="left:568.8px;top:302.9px"></div>
<div class="mt" style="left:563px;top:293.5px"></div><div class="mt" style="left:568.8px;top:293.5px"></div>
<div class="mt" style="left:563px;top:286.3px"></div><div class="mt" style="left:568.8px;top:286.3px"></div>
<div class="mt" style="left:563px;top:280.3px"></div><div class="mt" style="left:568.8px;top:280.3px"></div>
<div class="mt" style="left:563px;top:275.3px"></div><div class="mt" style="left:568.8px;top:275.3px"></div>
<div class="mt" style="left:563px;top:271.0px"></div><div class="mt" style="left:568.8px;top:271.0px"></div>
<div class="mt" style="left:563px;top:267.1px"></div><div class="mt" style="left:568.8px;top:267.1px"></div>
<div class="mt" style="left:563px;top:241.1px"></div><div class="mt" style="left:568.8px;top:241.1px"></div>
<div class="mt" style="left:563px;top:227.9px"></div><div class="mt" style="left:568.8px;top:227.9px"></div>
<div class="mt" style="left:563px;top:218.5px"></div><div class="mt" style="left:568.8px;top:218.5px"></div>
<div class="mt" style="left:563px;top:211.3px"></div><div class="mt" style="left:568.8px;top:211.3px"></div>
<div class="mt" style="left:563px;top:205.3px"></div><div class="mt" style="left:568.8px;top:205.3px"></div>
<div class="mt" style="left:563px;top:200.3px"></div><div class="mt" style="left:568.8px;top:200.3px"></div>
<div class="mt" style="left:563px;top:196.0px"></div><div class="mt" style="left:568.8px;top:196.0px"></div>
<div class="mt" style="left:563px;top:192.1px"></div><div class="mt" style="left:568.8px;top:192.1px"></div>
<div class="Mt" style="left:563px;top:263.6px"></div><div class="Mt" style="left:567.6px;top:263.6px"></div>
<div class="tk" style="left:576px;top:186.4px">10<sup>1</sup></div>
<div class="tk" style="left:576px;top:261.4px">10<sup>0</sup></div>
<div class="tk" style="left:576px;top:336.4px">10<sup>&minus;1</sup></div>
<div class="al" style="left:592.5px;top:260.5px">A</div>
<div class="ttl" style="left:410px;top:176.7px"><span><b>B1:</b> <i>&beta;</i><sub>0</sub> = 0.2, <i>&nu;<sub>S</sub></i> = &infin;</span></div>
</body></html>
